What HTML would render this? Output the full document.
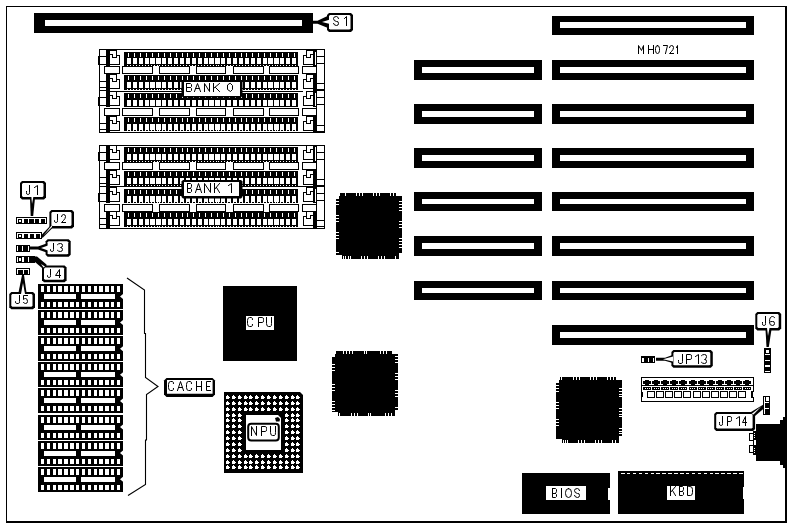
<!DOCTYPE html>
<html><head><meta charset="utf-8"><style>
html,body{margin:0;padding:0;background:#fff;}
svg{display:block;}
</style></head><body>
<svg width="791" height="527" viewBox="0 0 791 527">
<rect width="791" height="527" fill="#fff"/>
<rect x="6.00" y="6.00" width="780.00" height="1.00" fill="#000"/>
<rect x="6.00" y="6.00" width="1.00" height="517.00" fill="#000"/>
<rect x="785.00" y="6.00" width="2.00" height="517.00" fill="#000"/>
<rect x="6.00" y="521.00" width="781.00" height="2.00" fill="#000"/>
<rect x="34.00" y="13.00" width="279.00" height="20.00" fill="#000"/>
<rect x="45.00" y="20.00" width="257.00" height="6.00" fill="#fff"/>
<rect x="552.00" y="16.00" width="202.00" height="19.00" fill="#000"/>
<rect x="560.00" y="22.00" width="186.00" height="6.00" fill="#fff"/>
<rect x="552.00" y="60.00" width="202.00" height="20.00" fill="#000"/>
<rect x="560.00" y="67.00" width="186.00" height="6.00" fill="#fff"/>
<rect x="552.00" y="104.00" width="202.00" height="20.00" fill="#000"/>
<rect x="560.00" y="111.00" width="186.00" height="6.00" fill="#fff"/>
<rect x="552.00" y="148.00" width="202.00" height="20.00" fill="#000"/>
<rect x="560.00" y="155.00" width="186.00" height="6.00" fill="#fff"/>
<rect x="552.00" y="192.00" width="202.00" height="19.00" fill="#000"/>
<rect x="560.00" y="199.00" width="186.00" height="5.00" fill="#fff"/>
<rect x="552.00" y="236.00" width="202.00" height="20.00" fill="#000"/>
<rect x="560.00" y="243.00" width="186.00" height="6.00" fill="#fff"/>
<rect x="552.00" y="281.00" width="202.00" height="19.00" fill="#000"/>
<rect x="560.00" y="288.00" width="186.00" height="5.00" fill="#fff"/>
<rect x="552.00" y="325.00" width="202.00" height="20.00" fill="#000"/>
<rect x="560.00" y="332.00" width="186.00" height="6.00" fill="#fff"/>
<rect x="414.00" y="60.00" width="128.00" height="20.00" fill="#000"/>
<rect x="422.00" y="67.00" width="112.00" height="6.00" fill="#fff"/>
<rect x="414.00" y="104.00" width="128.00" height="20.00" fill="#000"/>
<rect x="422.00" y="111.00" width="112.00" height="6.00" fill="#fff"/>
<rect x="414.00" y="148.00" width="128.00" height="20.00" fill="#000"/>
<rect x="422.00" y="155.00" width="112.00" height="6.00" fill="#fff"/>
<rect x="414.00" y="192.00" width="128.00" height="19.00" fill="#000"/>
<rect x="422.00" y="199.00" width="112.00" height="5.00" fill="#fff"/>
<rect x="414.00" y="236.00" width="128.00" height="20.00" fill="#000"/>
<rect x="422.00" y="243.00" width="112.00" height="6.00" fill="#fff"/>
<rect x="414.00" y="281.00" width="128.00" height="19.00" fill="#000"/>
<rect x="422.00" y="288.00" width="112.00" height="5.00" fill="#fff"/>
<rect x="99.00" y="49.00" width="8.00" height="8.00" fill="#000"/>
<rect x="100.00" y="50.00" width="6.00" height="6.00" fill="#fff"/>
<rect x="98.00" y="56.00" width="9.00" height="9.00" fill="#000"/>
<rect x="99.00" y="57.00" width="7.00" height="7.00" fill="#fff"/>
<rect x="99.00" y="81.00" width="8.00" height="7.00" fill="#000"/>
<rect x="100.00" y="82.00" width="6.00" height="5.00" fill="#fff"/>
<rect x="99.00" y="87.00" width="8.00" height="5.00" fill="#000"/>
<rect x="100.00" y="88.00" width="6.00" height="3.00" fill="#fff"/>
<rect x="316.00" y="49.00" width="9.00" height="8.00" fill="#000"/>
<rect x="317.00" y="50.00" width="7.00" height="6.00" fill="#fff"/>
<rect x="316.00" y="56.00" width="9.00" height="8.00" fill="#000"/>
<rect x="317.00" y="57.00" width="7.00" height="6.00" fill="#fff"/>
<rect x="316.00" y="63.00" width="9.00" height="21.00" fill="#000"/>
<rect x="317.00" y="64.00" width="7.00" height="19.00" fill="#fff"/>
<rect x="316.00" y="83.00" width="9.00" height="7.00" fill="#000"/>
<rect x="317.00" y="84.00" width="7.00" height="5.00" fill="#fff"/>
<rect x="316.00" y="89.00" width="9.00" height="3.00" fill="#000"/>
<rect x="317.00" y="90.00" width="7.00" height="1.00" fill="#fff"/>
<rect x="106.00" y="49.00" width="4.00" height="17.00" fill="#000"/>
<rect x="106.00" y="74.00" width="4.00" height="18.00" fill="#000"/>
<rect x="313.00" y="49.00" width="4.00" height="17.00" fill="#000"/>
<rect x="315.00" y="52.00" width="1.00" height="13.00" fill="#fff"/>
<rect x="313.00" y="74.00" width="4.00" height="18.00" fill="#000"/>
<rect x="110.00" y="50.00" width="7.00" height="8.00" fill="#000"/>
<rect x="110.00" y="55.00" width="10.00" height="10.00" fill="#000"/>
<rect x="110.00" y="51.00" width="6.00" height="3.00" fill="#fff"/>
<rect x="113.00" y="54.00" width="3.00" height="3.00" fill="#fff"/>
<rect x="110.00" y="55.00" width="2.00" height="3.00" fill="#fff"/>
<rect x="117.00" y="56.00" width="2.00" height="2.00" fill="#fff"/>
<rect x="110.00" y="58.00" width="9.00" height="6.00" fill="#fff"/>
<rect x="110.00" y="74.00" width="7.00" height="8.00" fill="#000"/>
<rect x="110.00" y="79.00" width="10.00" height="10.00" fill="#000"/>
<rect x="110.00" y="75.00" width="6.00" height="3.00" fill="#fff"/>
<rect x="113.00" y="78.00" width="3.00" height="3.00" fill="#fff"/>
<rect x="110.00" y="79.00" width="2.00" height="3.00" fill="#fff"/>
<rect x="117.00" y="80.00" width="2.00" height="2.00" fill="#fff"/>
<rect x="110.00" y="82.00" width="9.00" height="6.00" fill="#fff"/>
<rect x="303.00" y="50.00" width="10.00" height="8.00" fill="#000"/>
<rect x="303.00" y="55.00" width="10.00" height="10.00" fill="#000"/>
<rect x="307.00" y="51.00" width="6.00" height="3.00" fill="#fff"/>
<rect x="307.00" y="54.00" width="3.00" height="3.00" fill="#fff"/>
<rect x="311.00" y="55.00" width="2.00" height="3.00" fill="#fff"/>
<rect x="304.00" y="56.00" width="2.00" height="2.00" fill="#fff"/>
<rect x="304.00" y="58.00" width="9.00" height="6.00" fill="#fff"/>
<rect x="303.00" y="50.00" width="3.00" height="5.00" fill="#fff"/>
<rect x="303.00" y="74.00" width="10.00" height="8.00" fill="#000"/>
<rect x="303.00" y="79.00" width="10.00" height="10.00" fill="#000"/>
<rect x="307.00" y="75.00" width="6.00" height="3.00" fill="#fff"/>
<rect x="307.00" y="78.00" width="3.00" height="3.00" fill="#fff"/>
<rect x="311.00" y="79.00" width="2.00" height="3.00" fill="#fff"/>
<rect x="304.00" y="80.00" width="2.00" height="2.00" fill="#fff"/>
<rect x="304.00" y="82.00" width="9.00" height="6.00" fill="#fff"/>
<rect x="303.00" y="74.00" width="3.00" height="5.00" fill="#fff"/>
<rect x="124.00" y="52.00" width="174.00" height="14.00" fill="#000"/>
<rect x="128.00" y="53.00" width="1.00" height="4.00" fill="#fff"/>
<rect x="127.00" y="58.00" width="4.00" height="6.00" fill="#fff"/>
<rect x="127.00" y="65.00" width="1.00" height="1.00" fill="#fff"/>
<rect x="130.00" y="65.00" width="1.00" height="1.00" fill="#fff"/>
<rect x="134.00" y="53.00" width="1.00" height="4.00" fill="#fff"/>
<rect x="133.00" y="58.00" width="4.00" height="6.00" fill="#fff"/>
<rect x="133.00" y="65.00" width="1.00" height="1.00" fill="#fff"/>
<rect x="136.00" y="65.00" width="1.00" height="1.00" fill="#fff"/>
<rect x="140.00" y="53.00" width="1.00" height="4.00" fill="#fff"/>
<rect x="139.00" y="58.00" width="4.00" height="6.00" fill="#fff"/>
<rect x="139.00" y="65.00" width="1.00" height="1.00" fill="#fff"/>
<rect x="142.00" y="65.00" width="1.00" height="1.00" fill="#fff"/>
<rect x="146.00" y="53.00" width="1.00" height="4.00" fill="#fff"/>
<rect x="145.00" y="58.00" width="4.00" height="6.00" fill="#fff"/>
<rect x="145.00" y="65.00" width="1.00" height="1.00" fill="#fff"/>
<rect x="148.00" y="65.00" width="1.00" height="1.00" fill="#fff"/>
<rect x="152.00" y="53.00" width="1.00" height="4.00" fill="#fff"/>
<rect x="150.00" y="58.00" width="5.00" height="6.00" fill="#fff"/>
<rect x="151.00" y="65.00" width="1.00" height="1.00" fill="#fff"/>
<rect x="154.00" y="65.00" width="1.00" height="1.00" fill="#fff"/>
<rect x="158.00" y="53.00" width="1.00" height="4.00" fill="#fff"/>
<rect x="156.00" y="58.00" width="5.00" height="6.00" fill="#fff"/>
<rect x="157.00" y="65.00" width="1.00" height="1.00" fill="#fff"/>
<rect x="159.00" y="65.00" width="1.00" height="1.00" fill="#fff"/>
<rect x="164.00" y="53.00" width="1.00" height="4.00" fill="#fff"/>
<rect x="162.00" y="58.00" width="4.00" height="6.00" fill="#fff"/>
<rect x="162.00" y="65.00" width="1.00" height="1.00" fill="#fff"/>
<rect x="165.00" y="65.00" width="1.00" height="1.00" fill="#fff"/>
<rect x="170.00" y="53.00" width="1.00" height="4.00" fill="#fff"/>
<rect x="168.00" y="58.00" width="4.00" height="6.00" fill="#fff"/>
<rect x="168.00" y="65.00" width="1.00" height="1.00" fill="#fff"/>
<rect x="171.00" y="65.00" width="1.00" height="1.00" fill="#fff"/>
<rect x="176.00" y="53.00" width="1.00" height="4.00" fill="#fff"/>
<rect x="174.00" y="58.00" width="4.00" height="6.00" fill="#fff"/>
<rect x="174.00" y="65.00" width="1.00" height="1.00" fill="#fff"/>
<rect x="177.00" y="65.00" width="1.00" height="1.00" fill="#fff"/>
<rect x="182.00" y="53.00" width="1.00" height="4.00" fill="#fff"/>
<rect x="180.00" y="58.00" width="4.00" height="6.00" fill="#fff"/>
<rect x="180.00" y="65.00" width="1.00" height="1.00" fill="#fff"/>
<rect x="183.00" y="65.00" width="1.00" height="1.00" fill="#fff"/>
<rect x="187.00" y="53.00" width="1.00" height="4.00" fill="#fff"/>
<rect x="186.00" y="58.00" width="4.00" height="6.00" fill="#fff"/>
<rect x="186.00" y="65.00" width="1.00" height="1.00" fill="#fff"/>
<rect x="189.00" y="65.00" width="1.00" height="1.00" fill="#fff"/>
<rect x="193.00" y="53.00" width="1.00" height="4.00" fill="#fff"/>
<rect x="192.00" y="58.00" width="4.00" height="6.00" fill="#fff"/>
<rect x="192.00" y="65.00" width="1.00" height="1.00" fill="#fff"/>
<rect x="195.00" y="65.00" width="1.00" height="1.00" fill="#fff"/>
<rect x="199.00" y="53.00" width="1.00" height="4.00" fill="#fff"/>
<rect x="198.00" y="58.00" width="4.00" height="6.00" fill="#fff"/>
<rect x="198.00" y="65.00" width="1.00" height="1.00" fill="#fff"/>
<rect x="201.00" y="65.00" width="1.00" height="1.00" fill="#fff"/>
<rect x="205.00" y="53.00" width="1.00" height="4.00" fill="#fff"/>
<rect x="204.00" y="58.00" width="4.00" height="6.00" fill="#fff"/>
<rect x="204.00" y="65.00" width="1.00" height="1.00" fill="#fff"/>
<rect x="207.00" y="65.00" width="1.00" height="1.00" fill="#fff"/>
<rect x="211.00" y="53.00" width="1.00" height="4.00" fill="#fff"/>
<rect x="209.00" y="58.00" width="5.00" height="6.00" fill="#fff"/>
<rect x="210.00" y="65.00" width="1.00" height="1.00" fill="#fff"/>
<rect x="213.00" y="65.00" width="1.00" height="1.00" fill="#fff"/>
<rect x="217.00" y="53.00" width="1.00" height="4.00" fill="#fff"/>
<rect x="215.00" y="58.00" width="5.00" height="6.00" fill="#fff"/>
<rect x="216.00" y="65.00" width="1.00" height="1.00" fill="#fff"/>
<rect x="218.00" y="65.00" width="1.00" height="1.00" fill="#fff"/>
<rect x="223.00" y="53.00" width="1.00" height="4.00" fill="#fff"/>
<rect x="221.00" y="58.00" width="4.00" height="6.00" fill="#fff"/>
<rect x="221.00" y="65.00" width="1.00" height="1.00" fill="#fff"/>
<rect x="224.00" y="65.00" width="1.00" height="1.00" fill="#fff"/>
<rect x="229.00" y="53.00" width="1.00" height="4.00" fill="#fff"/>
<rect x="227.00" y="58.00" width="4.00" height="6.00" fill="#fff"/>
<rect x="227.00" y="65.00" width="1.00" height="1.00" fill="#fff"/>
<rect x="230.00" y="65.00" width="1.00" height="1.00" fill="#fff"/>
<rect x="235.00" y="53.00" width="1.00" height="4.00" fill="#fff"/>
<rect x="233.00" y="58.00" width="4.00" height="6.00" fill="#fff"/>
<rect x="233.00" y="65.00" width="1.00" height="1.00" fill="#fff"/>
<rect x="236.00" y="65.00" width="1.00" height="1.00" fill="#fff"/>
<rect x="241.00" y="53.00" width="1.00" height="4.00" fill="#fff"/>
<rect x="239.00" y="58.00" width="4.00" height="6.00" fill="#fff"/>
<rect x="239.00" y="65.00" width="1.00" height="1.00" fill="#fff"/>
<rect x="242.00" y="65.00" width="1.00" height="1.00" fill="#fff"/>
<rect x="246.00" y="53.00" width="1.00" height="4.00" fill="#fff"/>
<rect x="245.00" y="58.00" width="4.00" height="6.00" fill="#fff"/>
<rect x="245.00" y="65.00" width="1.00" height="1.00" fill="#fff"/>
<rect x="248.00" y="65.00" width="1.00" height="1.00" fill="#fff"/>
<rect x="252.00" y="53.00" width="1.00" height="4.00" fill="#fff"/>
<rect x="251.00" y="58.00" width="4.00" height="6.00" fill="#fff"/>
<rect x="251.00" y="65.00" width="1.00" height="1.00" fill="#fff"/>
<rect x="254.00" y="65.00" width="1.00" height="1.00" fill="#fff"/>
<rect x="258.00" y="53.00" width="1.00" height="4.00" fill="#fff"/>
<rect x="257.00" y="58.00" width="4.00" height="6.00" fill="#fff"/>
<rect x="257.00" y="65.00" width="1.00" height="1.00" fill="#fff"/>
<rect x="260.00" y="65.00" width="1.00" height="1.00" fill="#fff"/>
<rect x="264.00" y="53.00" width="1.00" height="4.00" fill="#fff"/>
<rect x="263.00" y="58.00" width="4.00" height="6.00" fill="#fff"/>
<rect x="263.00" y="65.00" width="1.00" height="1.00" fill="#fff"/>
<rect x="266.00" y="65.00" width="1.00" height="1.00" fill="#fff"/>
<rect x="270.00" y="53.00" width="1.00" height="4.00" fill="#fff"/>
<rect x="268.00" y="58.00" width="5.00" height="6.00" fill="#fff"/>
<rect x="269.00" y="65.00" width="1.00" height="1.00" fill="#fff"/>
<rect x="272.00" y="65.00" width="1.00" height="1.00" fill="#fff"/>
<rect x="276.00" y="53.00" width="1.00" height="4.00" fill="#fff"/>
<rect x="274.00" y="58.00" width="5.00" height="6.00" fill="#fff"/>
<rect x="275.00" y="65.00" width="1.00" height="1.00" fill="#fff"/>
<rect x="277.00" y="65.00" width="1.00" height="1.00" fill="#fff"/>
<rect x="282.00" y="53.00" width="1.00" height="4.00" fill="#fff"/>
<rect x="280.00" y="58.00" width="4.00" height="6.00" fill="#fff"/>
<rect x="280.00" y="65.00" width="1.00" height="1.00" fill="#fff"/>
<rect x="283.00" y="65.00" width="1.00" height="1.00" fill="#fff"/>
<rect x="288.00" y="53.00" width="1.00" height="4.00" fill="#fff"/>
<rect x="286.00" y="58.00" width="4.00" height="6.00" fill="#fff"/>
<rect x="286.00" y="65.00" width="1.00" height="1.00" fill="#fff"/>
<rect x="289.00" y="65.00" width="1.00" height="1.00" fill="#fff"/>
<rect x="294.00" y="53.00" width="1.00" height="4.00" fill="#fff"/>
<rect x="292.00" y="58.00" width="4.00" height="6.00" fill="#fff"/>
<rect x="292.00" y="65.00" width="1.00" height="1.00" fill="#fff"/>
<rect x="295.00" y="65.00" width="1.00" height="1.00" fill="#fff"/>
<rect x="122.00" y="66.00" width="31.00" height="8.00" fill="#000"/>
<rect x="123.00" y="67.00" width="29.00" height="6.00" fill="#fff"/>
<rect x="159.00" y="66.00" width="31.00" height="8.00" fill="#000"/>
<rect x="160.00" y="67.00" width="29.00" height="6.00" fill="#fff"/>
<rect x="196.00" y="66.00" width="30.00" height="8.00" fill="#000"/>
<rect x="197.00" y="67.00" width="28.00" height="6.00" fill="#fff"/>
<rect x="233.00" y="66.00" width="31.00" height="8.00" fill="#000"/>
<rect x="234.00" y="67.00" width="29.00" height="6.00" fill="#fff"/>
<rect x="269.00" y="66.00" width="30.00" height="8.00" fill="#000"/>
<rect x="270.00" y="67.00" width="28.00" height="6.00" fill="#fff"/>
<rect x="104.00" y="66.00" width="16.00" height="8.00" fill="#000"/>
<rect x="105.00" y="67.00" width="14.00" height="6.00" fill="#fff"/>
<rect x="302.00" y="66.00" width="15.00" height="8.00" fill="#000"/>
<rect x="303.00" y="67.00" width="13.00" height="6.00" fill="#fff"/>
<rect x="124.00" y="75.00" width="174.00" height="15.00" fill="#000"/>
<rect x="128.00" y="76.00" width="1.00" height="4.00" fill="#fff"/>
<rect x="127.00" y="82.00" width="4.00" height="6.00" fill="#fff"/>
<rect x="127.00" y="89.00" width="1.00" height="1.00" fill="#fff"/>
<rect x="130.00" y="89.00" width="1.00" height="1.00" fill="#fff"/>
<rect x="134.00" y="76.00" width="1.00" height="4.00" fill="#fff"/>
<rect x="133.00" y="82.00" width="4.00" height="6.00" fill="#fff"/>
<rect x="133.00" y="89.00" width="1.00" height="1.00" fill="#fff"/>
<rect x="136.00" y="89.00" width="1.00" height="1.00" fill="#fff"/>
<rect x="140.00" y="76.00" width="1.00" height="4.00" fill="#fff"/>
<rect x="139.00" y="82.00" width="4.00" height="6.00" fill="#fff"/>
<rect x="139.00" y="89.00" width="1.00" height="1.00" fill="#fff"/>
<rect x="142.00" y="89.00" width="1.00" height="1.00" fill="#fff"/>
<rect x="146.00" y="76.00" width="1.00" height="4.00" fill="#fff"/>
<rect x="145.00" y="82.00" width="4.00" height="6.00" fill="#fff"/>
<rect x="145.00" y="89.00" width="1.00" height="1.00" fill="#fff"/>
<rect x="148.00" y="89.00" width="1.00" height="1.00" fill="#fff"/>
<rect x="152.00" y="76.00" width="1.00" height="4.00" fill="#fff"/>
<rect x="150.00" y="82.00" width="5.00" height="6.00" fill="#fff"/>
<rect x="151.00" y="89.00" width="1.00" height="1.00" fill="#fff"/>
<rect x="154.00" y="89.00" width="1.00" height="1.00" fill="#fff"/>
<rect x="158.00" y="76.00" width="1.00" height="4.00" fill="#fff"/>
<rect x="156.00" y="82.00" width="5.00" height="6.00" fill="#fff"/>
<rect x="157.00" y="89.00" width="1.00" height="1.00" fill="#fff"/>
<rect x="159.00" y="89.00" width="1.00" height="1.00" fill="#fff"/>
<rect x="164.00" y="76.00" width="1.00" height="4.00" fill="#fff"/>
<rect x="162.00" y="82.00" width="4.00" height="6.00" fill="#fff"/>
<rect x="162.00" y="89.00" width="1.00" height="1.00" fill="#fff"/>
<rect x="165.00" y="89.00" width="1.00" height="1.00" fill="#fff"/>
<rect x="170.00" y="76.00" width="1.00" height="4.00" fill="#fff"/>
<rect x="168.00" y="82.00" width="4.00" height="6.00" fill="#fff"/>
<rect x="168.00" y="89.00" width="1.00" height="1.00" fill="#fff"/>
<rect x="171.00" y="89.00" width="1.00" height="1.00" fill="#fff"/>
<rect x="176.00" y="76.00" width="1.00" height="4.00" fill="#fff"/>
<rect x="174.00" y="82.00" width="4.00" height="6.00" fill="#fff"/>
<rect x="174.00" y="89.00" width="1.00" height="1.00" fill="#fff"/>
<rect x="177.00" y="89.00" width="1.00" height="1.00" fill="#fff"/>
<rect x="182.00" y="76.00" width="1.00" height="4.00" fill="#fff"/>
<rect x="180.00" y="82.00" width="4.00" height="6.00" fill="#fff"/>
<rect x="180.00" y="89.00" width="1.00" height="1.00" fill="#fff"/>
<rect x="183.00" y="89.00" width="1.00" height="1.00" fill="#fff"/>
<rect x="187.00" y="76.00" width="1.00" height="4.00" fill="#fff"/>
<rect x="186.00" y="82.00" width="4.00" height="6.00" fill="#fff"/>
<rect x="186.00" y="89.00" width="1.00" height="1.00" fill="#fff"/>
<rect x="189.00" y="89.00" width="1.00" height="1.00" fill="#fff"/>
<rect x="193.00" y="76.00" width="1.00" height="4.00" fill="#fff"/>
<rect x="192.00" y="82.00" width="4.00" height="6.00" fill="#fff"/>
<rect x="192.00" y="89.00" width="1.00" height="1.00" fill="#fff"/>
<rect x="195.00" y="89.00" width="1.00" height="1.00" fill="#fff"/>
<rect x="199.00" y="76.00" width="1.00" height="4.00" fill="#fff"/>
<rect x="198.00" y="82.00" width="4.00" height="6.00" fill="#fff"/>
<rect x="198.00" y="89.00" width="1.00" height="1.00" fill="#fff"/>
<rect x="201.00" y="89.00" width="1.00" height="1.00" fill="#fff"/>
<rect x="205.00" y="76.00" width="1.00" height="4.00" fill="#fff"/>
<rect x="204.00" y="82.00" width="4.00" height="6.00" fill="#fff"/>
<rect x="204.00" y="89.00" width="1.00" height="1.00" fill="#fff"/>
<rect x="207.00" y="89.00" width="1.00" height="1.00" fill="#fff"/>
<rect x="211.00" y="76.00" width="1.00" height="4.00" fill="#fff"/>
<rect x="209.00" y="82.00" width="5.00" height="6.00" fill="#fff"/>
<rect x="210.00" y="89.00" width="1.00" height="1.00" fill="#fff"/>
<rect x="213.00" y="89.00" width="1.00" height="1.00" fill="#fff"/>
<rect x="217.00" y="76.00" width="1.00" height="4.00" fill="#fff"/>
<rect x="215.00" y="82.00" width="5.00" height="6.00" fill="#fff"/>
<rect x="216.00" y="89.00" width="1.00" height="1.00" fill="#fff"/>
<rect x="218.00" y="89.00" width="1.00" height="1.00" fill="#fff"/>
<rect x="223.00" y="76.00" width="1.00" height="4.00" fill="#fff"/>
<rect x="221.00" y="82.00" width="4.00" height="6.00" fill="#fff"/>
<rect x="221.00" y="89.00" width="1.00" height="1.00" fill="#fff"/>
<rect x="224.00" y="89.00" width="1.00" height="1.00" fill="#fff"/>
<rect x="229.00" y="76.00" width="1.00" height="4.00" fill="#fff"/>
<rect x="227.00" y="82.00" width="4.00" height="6.00" fill="#fff"/>
<rect x="227.00" y="89.00" width="1.00" height="1.00" fill="#fff"/>
<rect x="230.00" y="89.00" width="1.00" height="1.00" fill="#fff"/>
<rect x="235.00" y="76.00" width="1.00" height="4.00" fill="#fff"/>
<rect x="233.00" y="82.00" width="4.00" height="6.00" fill="#fff"/>
<rect x="233.00" y="89.00" width="1.00" height="1.00" fill="#fff"/>
<rect x="236.00" y="89.00" width="1.00" height="1.00" fill="#fff"/>
<rect x="241.00" y="76.00" width="1.00" height="4.00" fill="#fff"/>
<rect x="239.00" y="82.00" width="4.00" height="6.00" fill="#fff"/>
<rect x="239.00" y="89.00" width="1.00" height="1.00" fill="#fff"/>
<rect x="242.00" y="89.00" width="1.00" height="1.00" fill="#fff"/>
<rect x="246.00" y="76.00" width="1.00" height="4.00" fill="#fff"/>
<rect x="245.00" y="82.00" width="4.00" height="6.00" fill="#fff"/>
<rect x="245.00" y="89.00" width="1.00" height="1.00" fill="#fff"/>
<rect x="248.00" y="89.00" width="1.00" height="1.00" fill="#fff"/>
<rect x="252.00" y="76.00" width="1.00" height="4.00" fill="#fff"/>
<rect x="251.00" y="82.00" width="4.00" height="6.00" fill="#fff"/>
<rect x="251.00" y="89.00" width="1.00" height="1.00" fill="#fff"/>
<rect x="254.00" y="89.00" width="1.00" height="1.00" fill="#fff"/>
<rect x="258.00" y="76.00" width="1.00" height="4.00" fill="#fff"/>
<rect x="257.00" y="82.00" width="4.00" height="6.00" fill="#fff"/>
<rect x="257.00" y="89.00" width="1.00" height="1.00" fill="#fff"/>
<rect x="260.00" y="89.00" width="1.00" height="1.00" fill="#fff"/>
<rect x="264.00" y="76.00" width="1.00" height="4.00" fill="#fff"/>
<rect x="263.00" y="82.00" width="4.00" height="6.00" fill="#fff"/>
<rect x="263.00" y="89.00" width="1.00" height="1.00" fill="#fff"/>
<rect x="266.00" y="89.00" width="1.00" height="1.00" fill="#fff"/>
<rect x="270.00" y="76.00" width="1.00" height="4.00" fill="#fff"/>
<rect x="268.00" y="82.00" width="5.00" height="6.00" fill="#fff"/>
<rect x="269.00" y="89.00" width="1.00" height="1.00" fill="#fff"/>
<rect x="272.00" y="89.00" width="1.00" height="1.00" fill="#fff"/>
<rect x="276.00" y="76.00" width="1.00" height="4.00" fill="#fff"/>
<rect x="274.00" y="82.00" width="5.00" height="6.00" fill="#fff"/>
<rect x="275.00" y="89.00" width="1.00" height="1.00" fill="#fff"/>
<rect x="277.00" y="89.00" width="1.00" height="1.00" fill="#fff"/>
<rect x="282.00" y="76.00" width="1.00" height="4.00" fill="#fff"/>
<rect x="280.00" y="82.00" width="4.00" height="6.00" fill="#fff"/>
<rect x="280.00" y="89.00" width="1.00" height="1.00" fill="#fff"/>
<rect x="283.00" y="89.00" width="1.00" height="1.00" fill="#fff"/>
<rect x="288.00" y="76.00" width="1.00" height="4.00" fill="#fff"/>
<rect x="286.00" y="82.00" width="4.00" height="6.00" fill="#fff"/>
<rect x="286.00" y="89.00" width="1.00" height="1.00" fill="#fff"/>
<rect x="289.00" y="89.00" width="1.00" height="1.00" fill="#fff"/>
<rect x="294.00" y="76.00" width="1.00" height="4.00" fill="#fff"/>
<rect x="292.00" y="82.00" width="4.00" height="6.00" fill="#fff"/>
<rect x="292.00" y="89.00" width="1.00" height="1.00" fill="#fff"/>
<rect x="295.00" y="89.00" width="1.00" height="1.00" fill="#fff"/>
<rect x="110.00" y="91.00" width="215.00" height="1.00" fill="#000"/>
<rect x="99.00" y="90.00" width="8.00" height="8.00" fill="#000"/>
<rect x="100.00" y="91.00" width="6.00" height="6.00" fill="#fff"/>
<rect x="98.00" y="97.00" width="9.00" height="9.00" fill="#000"/>
<rect x="99.00" y="98.00" width="7.00" height="7.00" fill="#fff"/>
<rect x="99.00" y="123.00" width="8.00" height="7.00" fill="#000"/>
<rect x="100.00" y="124.00" width="6.00" height="5.00" fill="#fff"/>
<rect x="99.00" y="129.00" width="8.00" height="4.00" fill="#000"/>
<rect x="100.00" y="130.00" width="6.00" height="2.00" fill="#fff"/>
<rect x="316.00" y="90.00" width="9.00" height="8.00" fill="#000"/>
<rect x="317.00" y="91.00" width="7.00" height="6.00" fill="#fff"/>
<rect x="316.00" y="97.00" width="9.00" height="8.00" fill="#000"/>
<rect x="317.00" y="98.00" width="7.00" height="6.00" fill="#fff"/>
<rect x="316.00" y="104.00" width="9.00" height="22.00" fill="#000"/>
<rect x="317.00" y="105.00" width="7.00" height="20.00" fill="#fff"/>
<rect x="316.00" y="125.00" width="9.00" height="7.00" fill="#000"/>
<rect x="317.00" y="126.00" width="7.00" height="5.00" fill="#fff"/>
<rect x="316.00" y="131.00" width="9.00" height="2.00" fill="#000"/>
<rect x="317.00" y="132.00" width="7.00" height="1.00" fill="#fff"/>
<rect x="106.00" y="90.00" width="4.00" height="17.00" fill="#000"/>
<rect x="106.00" y="116.00" width="4.00" height="17.00" fill="#000"/>
<rect x="313.00" y="90.00" width="4.00" height="17.00" fill="#000"/>
<rect x="315.00" y="93.00" width="1.00" height="13.00" fill="#fff"/>
<rect x="313.00" y="116.00" width="4.00" height="17.00" fill="#000"/>
<rect x="110.00" y="91.00" width="7.00" height="8.00" fill="#000"/>
<rect x="110.00" y="96.00" width="10.00" height="10.00" fill="#000"/>
<rect x="110.00" y="92.00" width="6.00" height="3.00" fill="#fff"/>
<rect x="113.00" y="95.00" width="3.00" height="3.00" fill="#fff"/>
<rect x="110.00" y="96.00" width="2.00" height="3.00" fill="#fff"/>
<rect x="117.00" y="97.00" width="2.00" height="2.00" fill="#fff"/>
<rect x="110.00" y="99.00" width="9.00" height="6.00" fill="#fff"/>
<rect x="110.00" y="116.00" width="7.00" height="8.00" fill="#000"/>
<rect x="110.00" y="121.00" width="10.00" height="10.00" fill="#000"/>
<rect x="110.00" y="117.00" width="6.00" height="3.00" fill="#fff"/>
<rect x="113.00" y="120.00" width="3.00" height="3.00" fill="#fff"/>
<rect x="110.00" y="121.00" width="2.00" height="3.00" fill="#fff"/>
<rect x="117.00" y="122.00" width="2.00" height="2.00" fill="#fff"/>
<rect x="110.00" y="124.00" width="9.00" height="6.00" fill="#fff"/>
<rect x="303.00" y="91.00" width="10.00" height="8.00" fill="#000"/>
<rect x="303.00" y="96.00" width="10.00" height="10.00" fill="#000"/>
<rect x="307.00" y="92.00" width="6.00" height="3.00" fill="#fff"/>
<rect x="307.00" y="95.00" width="3.00" height="3.00" fill="#fff"/>
<rect x="311.00" y="96.00" width="2.00" height="3.00" fill="#fff"/>
<rect x="304.00" y="97.00" width="2.00" height="2.00" fill="#fff"/>
<rect x="304.00" y="99.00" width="9.00" height="6.00" fill="#fff"/>
<rect x="303.00" y="91.00" width="3.00" height="5.00" fill="#fff"/>
<rect x="303.00" y="116.00" width="10.00" height="8.00" fill="#000"/>
<rect x="303.00" y="121.00" width="10.00" height="10.00" fill="#000"/>
<rect x="307.00" y="117.00" width="6.00" height="3.00" fill="#fff"/>
<rect x="307.00" y="120.00" width="3.00" height="3.00" fill="#fff"/>
<rect x="311.00" y="121.00" width="2.00" height="3.00" fill="#fff"/>
<rect x="304.00" y="122.00" width="2.00" height="2.00" fill="#fff"/>
<rect x="304.00" y="124.00" width="9.00" height="6.00" fill="#fff"/>
<rect x="303.00" y="116.00" width="3.00" height="5.00" fill="#fff"/>
<rect x="124.00" y="93.00" width="174.00" height="14.00" fill="#000"/>
<rect x="128.00" y="94.00" width="1.00" height="4.00" fill="#fff"/>
<rect x="127.00" y="100.00" width="4.00" height="6.00" fill="#fff"/>
<rect x="134.00" y="94.00" width="1.00" height="4.00" fill="#fff"/>
<rect x="133.00" y="100.00" width="4.00" height="6.00" fill="#fff"/>
<rect x="140.00" y="94.00" width="1.00" height="4.00" fill="#fff"/>
<rect x="139.00" y="100.00" width="4.00" height="6.00" fill="#fff"/>
<rect x="146.00" y="94.00" width="1.00" height="4.00" fill="#fff"/>
<rect x="145.00" y="100.00" width="4.00" height="6.00" fill="#fff"/>
<rect x="152.00" y="94.00" width="1.00" height="4.00" fill="#fff"/>
<rect x="150.00" y="100.00" width="5.00" height="6.00" fill="#fff"/>
<rect x="158.00" y="94.00" width="1.00" height="4.00" fill="#fff"/>
<rect x="156.00" y="100.00" width="5.00" height="6.00" fill="#fff"/>
<rect x="164.00" y="94.00" width="1.00" height="4.00" fill="#fff"/>
<rect x="162.00" y="100.00" width="4.00" height="6.00" fill="#fff"/>
<rect x="170.00" y="94.00" width="1.00" height="4.00" fill="#fff"/>
<rect x="168.00" y="100.00" width="4.00" height="6.00" fill="#fff"/>
<rect x="176.00" y="94.00" width="1.00" height="4.00" fill="#fff"/>
<rect x="174.00" y="100.00" width="4.00" height="6.00" fill="#fff"/>
<rect x="182.00" y="94.00" width="1.00" height="4.00" fill="#fff"/>
<rect x="180.00" y="100.00" width="4.00" height="6.00" fill="#fff"/>
<rect x="187.00" y="94.00" width="1.00" height="4.00" fill="#fff"/>
<rect x="186.00" y="100.00" width="4.00" height="6.00" fill="#fff"/>
<rect x="193.00" y="94.00" width="1.00" height="4.00" fill="#fff"/>
<rect x="192.00" y="100.00" width="4.00" height="6.00" fill="#fff"/>
<rect x="199.00" y="94.00" width="1.00" height="4.00" fill="#fff"/>
<rect x="198.00" y="100.00" width="4.00" height="6.00" fill="#fff"/>
<rect x="205.00" y="94.00" width="1.00" height="4.00" fill="#fff"/>
<rect x="204.00" y="100.00" width="4.00" height="6.00" fill="#fff"/>
<rect x="211.00" y="94.00" width="1.00" height="4.00" fill="#fff"/>
<rect x="209.00" y="100.00" width="5.00" height="6.00" fill="#fff"/>
<rect x="217.00" y="94.00" width="1.00" height="4.00" fill="#fff"/>
<rect x="215.00" y="100.00" width="5.00" height="6.00" fill="#fff"/>
<rect x="223.00" y="94.00" width="1.00" height="4.00" fill="#fff"/>
<rect x="221.00" y="100.00" width="4.00" height="6.00" fill="#fff"/>
<rect x="229.00" y="94.00" width="1.00" height="4.00" fill="#fff"/>
<rect x="227.00" y="100.00" width="4.00" height="6.00" fill="#fff"/>
<rect x="235.00" y="94.00" width="1.00" height="4.00" fill="#fff"/>
<rect x="233.00" y="100.00" width="4.00" height="6.00" fill="#fff"/>
<rect x="241.00" y="94.00" width="1.00" height="4.00" fill="#fff"/>
<rect x="239.00" y="100.00" width="4.00" height="6.00" fill="#fff"/>
<rect x="246.00" y="94.00" width="1.00" height="4.00" fill="#fff"/>
<rect x="245.00" y="100.00" width="4.00" height="6.00" fill="#fff"/>
<rect x="252.00" y="94.00" width="1.00" height="4.00" fill="#fff"/>
<rect x="251.00" y="100.00" width="4.00" height="6.00" fill="#fff"/>
<rect x="258.00" y="94.00" width="1.00" height="4.00" fill="#fff"/>
<rect x="257.00" y="100.00" width="4.00" height="6.00" fill="#fff"/>
<rect x="264.00" y="94.00" width="1.00" height="4.00" fill="#fff"/>
<rect x="263.00" y="100.00" width="4.00" height="6.00" fill="#fff"/>
<rect x="270.00" y="94.00" width="1.00" height="4.00" fill="#fff"/>
<rect x="268.00" y="100.00" width="5.00" height="6.00" fill="#fff"/>
<rect x="276.00" y="94.00" width="1.00" height="4.00" fill="#fff"/>
<rect x="274.00" y="100.00" width="5.00" height="6.00" fill="#fff"/>
<rect x="282.00" y="94.00" width="1.00" height="4.00" fill="#fff"/>
<rect x="280.00" y="100.00" width="4.00" height="6.00" fill="#fff"/>
<rect x="288.00" y="94.00" width="1.00" height="4.00" fill="#fff"/>
<rect x="286.00" y="100.00" width="4.00" height="6.00" fill="#fff"/>
<rect x="294.00" y="94.00" width="1.00" height="4.00" fill="#fff"/>
<rect x="292.00" y="100.00" width="4.00" height="6.00" fill="#fff"/>
<rect x="122.00" y="108.00" width="31.00" height="8.00" fill="#000"/>
<rect x="123.00" y="109.00" width="29.00" height="6.00" fill="#fff"/>
<rect x="159.00" y="108.00" width="31.00" height="8.00" fill="#000"/>
<rect x="160.00" y="109.00" width="29.00" height="6.00" fill="#fff"/>
<rect x="196.00" y="108.00" width="30.00" height="8.00" fill="#000"/>
<rect x="197.00" y="109.00" width="28.00" height="6.00" fill="#fff"/>
<rect x="233.00" y="108.00" width="31.00" height="8.00" fill="#000"/>
<rect x="234.00" y="109.00" width="29.00" height="6.00" fill="#fff"/>
<rect x="269.00" y="108.00" width="30.00" height="8.00" fill="#000"/>
<rect x="270.00" y="109.00" width="28.00" height="6.00" fill="#fff"/>
<rect x="104.00" y="108.00" width="16.00" height="8.00" fill="#000"/>
<rect x="105.00" y="109.00" width="14.00" height="6.00" fill="#fff"/>
<rect x="302.00" y="108.00" width="15.00" height="8.00" fill="#000"/>
<rect x="303.00" y="109.00" width="13.00" height="6.00" fill="#fff"/>
<rect x="124.00" y="117.00" width="174.00" height="14.00" fill="#000"/>
<rect x="128.00" y="118.00" width="1.00" height="4.00" fill="#fff"/>
<rect x="127.00" y="124.00" width="4.00" height="6.00" fill="#fff"/>
<rect x="127.00" y="130.00" width="1.00" height="1.00" fill="#fff"/>
<rect x="130.00" y="130.00" width="1.00" height="1.00" fill="#fff"/>
<rect x="134.00" y="118.00" width="1.00" height="4.00" fill="#fff"/>
<rect x="133.00" y="124.00" width="4.00" height="6.00" fill="#fff"/>
<rect x="133.00" y="130.00" width="1.00" height="1.00" fill="#fff"/>
<rect x="136.00" y="130.00" width="1.00" height="1.00" fill="#fff"/>
<rect x="140.00" y="118.00" width="1.00" height="4.00" fill="#fff"/>
<rect x="139.00" y="124.00" width="4.00" height="6.00" fill="#fff"/>
<rect x="139.00" y="130.00" width="1.00" height="1.00" fill="#fff"/>
<rect x="142.00" y="130.00" width="1.00" height="1.00" fill="#fff"/>
<rect x="146.00" y="118.00" width="1.00" height="4.00" fill="#fff"/>
<rect x="145.00" y="124.00" width="4.00" height="6.00" fill="#fff"/>
<rect x="145.00" y="130.00" width="1.00" height="1.00" fill="#fff"/>
<rect x="148.00" y="130.00" width="1.00" height="1.00" fill="#fff"/>
<rect x="152.00" y="118.00" width="1.00" height="4.00" fill="#fff"/>
<rect x="150.00" y="124.00" width="5.00" height="6.00" fill="#fff"/>
<rect x="151.00" y="130.00" width="1.00" height="1.00" fill="#fff"/>
<rect x="154.00" y="130.00" width="1.00" height="1.00" fill="#fff"/>
<rect x="158.00" y="118.00" width="1.00" height="4.00" fill="#fff"/>
<rect x="156.00" y="124.00" width="5.00" height="6.00" fill="#fff"/>
<rect x="157.00" y="130.00" width="1.00" height="1.00" fill="#fff"/>
<rect x="159.00" y="130.00" width="1.00" height="1.00" fill="#fff"/>
<rect x="164.00" y="118.00" width="1.00" height="4.00" fill="#fff"/>
<rect x="162.00" y="124.00" width="4.00" height="6.00" fill="#fff"/>
<rect x="162.00" y="130.00" width="1.00" height="1.00" fill="#fff"/>
<rect x="165.00" y="130.00" width="1.00" height="1.00" fill="#fff"/>
<rect x="170.00" y="118.00" width="1.00" height="4.00" fill="#fff"/>
<rect x="168.00" y="124.00" width="4.00" height="6.00" fill="#fff"/>
<rect x="168.00" y="130.00" width="1.00" height="1.00" fill="#fff"/>
<rect x="171.00" y="130.00" width="1.00" height="1.00" fill="#fff"/>
<rect x="176.00" y="118.00" width="1.00" height="4.00" fill="#fff"/>
<rect x="174.00" y="124.00" width="4.00" height="6.00" fill="#fff"/>
<rect x="174.00" y="130.00" width="1.00" height="1.00" fill="#fff"/>
<rect x="177.00" y="130.00" width="1.00" height="1.00" fill="#fff"/>
<rect x="182.00" y="118.00" width="1.00" height="4.00" fill="#fff"/>
<rect x="180.00" y="124.00" width="4.00" height="6.00" fill="#fff"/>
<rect x="180.00" y="130.00" width="1.00" height="1.00" fill="#fff"/>
<rect x="183.00" y="130.00" width="1.00" height="1.00" fill="#fff"/>
<rect x="187.00" y="118.00" width="1.00" height="4.00" fill="#fff"/>
<rect x="186.00" y="124.00" width="4.00" height="6.00" fill="#fff"/>
<rect x="186.00" y="130.00" width="1.00" height="1.00" fill="#fff"/>
<rect x="189.00" y="130.00" width="1.00" height="1.00" fill="#fff"/>
<rect x="193.00" y="118.00" width="1.00" height="4.00" fill="#fff"/>
<rect x="192.00" y="124.00" width="4.00" height="6.00" fill="#fff"/>
<rect x="192.00" y="130.00" width="1.00" height="1.00" fill="#fff"/>
<rect x="195.00" y="130.00" width="1.00" height="1.00" fill="#fff"/>
<rect x="199.00" y="118.00" width="1.00" height="4.00" fill="#fff"/>
<rect x="198.00" y="124.00" width="4.00" height="6.00" fill="#fff"/>
<rect x="198.00" y="130.00" width="1.00" height="1.00" fill="#fff"/>
<rect x="201.00" y="130.00" width="1.00" height="1.00" fill="#fff"/>
<rect x="205.00" y="118.00" width="1.00" height="4.00" fill="#fff"/>
<rect x="204.00" y="124.00" width="4.00" height="6.00" fill="#fff"/>
<rect x="204.00" y="130.00" width="1.00" height="1.00" fill="#fff"/>
<rect x="207.00" y="130.00" width="1.00" height="1.00" fill="#fff"/>
<rect x="211.00" y="118.00" width="1.00" height="4.00" fill="#fff"/>
<rect x="209.00" y="124.00" width="5.00" height="6.00" fill="#fff"/>
<rect x="210.00" y="130.00" width="1.00" height="1.00" fill="#fff"/>
<rect x="213.00" y="130.00" width="1.00" height="1.00" fill="#fff"/>
<rect x="217.00" y="118.00" width="1.00" height="4.00" fill="#fff"/>
<rect x="215.00" y="124.00" width="5.00" height="6.00" fill="#fff"/>
<rect x="216.00" y="130.00" width="1.00" height="1.00" fill="#fff"/>
<rect x="218.00" y="130.00" width="1.00" height="1.00" fill="#fff"/>
<rect x="223.00" y="118.00" width="1.00" height="4.00" fill="#fff"/>
<rect x="221.00" y="124.00" width="4.00" height="6.00" fill="#fff"/>
<rect x="221.00" y="130.00" width="1.00" height="1.00" fill="#fff"/>
<rect x="224.00" y="130.00" width="1.00" height="1.00" fill="#fff"/>
<rect x="229.00" y="118.00" width="1.00" height="4.00" fill="#fff"/>
<rect x="227.00" y="124.00" width="4.00" height="6.00" fill="#fff"/>
<rect x="227.00" y="130.00" width="1.00" height="1.00" fill="#fff"/>
<rect x="230.00" y="130.00" width="1.00" height="1.00" fill="#fff"/>
<rect x="235.00" y="118.00" width="1.00" height="4.00" fill="#fff"/>
<rect x="233.00" y="124.00" width="4.00" height="6.00" fill="#fff"/>
<rect x="233.00" y="130.00" width="1.00" height="1.00" fill="#fff"/>
<rect x="236.00" y="130.00" width="1.00" height="1.00" fill="#fff"/>
<rect x="241.00" y="118.00" width="1.00" height="4.00" fill="#fff"/>
<rect x="239.00" y="124.00" width="4.00" height="6.00" fill="#fff"/>
<rect x="239.00" y="130.00" width="1.00" height="1.00" fill="#fff"/>
<rect x="242.00" y="130.00" width="1.00" height="1.00" fill="#fff"/>
<rect x="246.00" y="118.00" width="1.00" height="4.00" fill="#fff"/>
<rect x="245.00" y="124.00" width="4.00" height="6.00" fill="#fff"/>
<rect x="245.00" y="130.00" width="1.00" height="1.00" fill="#fff"/>
<rect x="248.00" y="130.00" width="1.00" height="1.00" fill="#fff"/>
<rect x="252.00" y="118.00" width="1.00" height="4.00" fill="#fff"/>
<rect x="251.00" y="124.00" width="4.00" height="6.00" fill="#fff"/>
<rect x="251.00" y="130.00" width="1.00" height="1.00" fill="#fff"/>
<rect x="254.00" y="130.00" width="1.00" height="1.00" fill="#fff"/>
<rect x="258.00" y="118.00" width="1.00" height="4.00" fill="#fff"/>
<rect x="257.00" y="124.00" width="4.00" height="6.00" fill="#fff"/>
<rect x="257.00" y="130.00" width="1.00" height="1.00" fill="#fff"/>
<rect x="260.00" y="130.00" width="1.00" height="1.00" fill="#fff"/>
<rect x="264.00" y="118.00" width="1.00" height="4.00" fill="#fff"/>
<rect x="263.00" y="124.00" width="4.00" height="6.00" fill="#fff"/>
<rect x="263.00" y="130.00" width="1.00" height="1.00" fill="#fff"/>
<rect x="266.00" y="130.00" width="1.00" height="1.00" fill="#fff"/>
<rect x="270.00" y="118.00" width="1.00" height="4.00" fill="#fff"/>
<rect x="268.00" y="124.00" width="5.00" height="6.00" fill="#fff"/>
<rect x="269.00" y="130.00" width="1.00" height="1.00" fill="#fff"/>
<rect x="272.00" y="130.00" width="1.00" height="1.00" fill="#fff"/>
<rect x="276.00" y="118.00" width="1.00" height="4.00" fill="#fff"/>
<rect x="274.00" y="124.00" width="5.00" height="6.00" fill="#fff"/>
<rect x="275.00" y="130.00" width="1.00" height="1.00" fill="#fff"/>
<rect x="277.00" y="130.00" width="1.00" height="1.00" fill="#fff"/>
<rect x="282.00" y="118.00" width="1.00" height="4.00" fill="#fff"/>
<rect x="280.00" y="124.00" width="4.00" height="6.00" fill="#fff"/>
<rect x="280.00" y="130.00" width="1.00" height="1.00" fill="#fff"/>
<rect x="283.00" y="130.00" width="1.00" height="1.00" fill="#fff"/>
<rect x="288.00" y="118.00" width="1.00" height="4.00" fill="#fff"/>
<rect x="286.00" y="124.00" width="4.00" height="6.00" fill="#fff"/>
<rect x="286.00" y="130.00" width="1.00" height="1.00" fill="#fff"/>
<rect x="289.00" y="130.00" width="1.00" height="1.00" fill="#fff"/>
<rect x="294.00" y="118.00" width="1.00" height="4.00" fill="#fff"/>
<rect x="292.00" y="124.00" width="4.00" height="6.00" fill="#fff"/>
<rect x="292.00" y="130.00" width="1.00" height="1.00" fill="#fff"/>
<rect x="295.00" y="130.00" width="1.00" height="1.00" fill="#fff"/>
<rect x="110.00" y="132.00" width="215.00" height="1.00" fill="#000"/>
<rect x="99.00" y="49.00" width="226.00" height="1.00" fill="#000"/>
<rect x="99.00" y="49.00" width="1.00" height="84.00" fill="#000"/>
<rect x="324.00" y="49.00" width="1.00" height="84.00" fill="#000"/>
<rect x="99.00" y="132.00" width="226.00" height="1.00" fill="#000"/>
<rect x="99.00" y="145.00" width="8.00" height="8.00" fill="#000"/>
<rect x="100.00" y="146.00" width="6.00" height="6.00" fill="#fff"/>
<rect x="98.00" y="152.00" width="9.00" height="9.00" fill="#000"/>
<rect x="99.00" y="153.00" width="7.00" height="7.00" fill="#fff"/>
<rect x="99.00" y="177.00" width="8.00" height="7.00" fill="#000"/>
<rect x="100.00" y="178.00" width="6.00" height="5.00" fill="#fff"/>
<rect x="99.00" y="183.00" width="8.00" height="4.00" fill="#000"/>
<rect x="100.00" y="184.00" width="6.00" height="2.00" fill="#fff"/>
<rect x="316.00" y="145.00" width="9.00" height="8.00" fill="#000"/>
<rect x="317.00" y="146.00" width="7.00" height="6.00" fill="#fff"/>
<rect x="316.00" y="152.00" width="9.00" height="8.00" fill="#000"/>
<rect x="317.00" y="153.00" width="7.00" height="6.00" fill="#fff"/>
<rect x="316.00" y="159.00" width="9.00" height="21.00" fill="#000"/>
<rect x="317.00" y="160.00" width="7.00" height="19.00" fill="#fff"/>
<rect x="316.00" y="179.00" width="9.00" height="7.00" fill="#000"/>
<rect x="317.00" y="180.00" width="7.00" height="5.00" fill="#fff"/>
<rect x="316.00" y="185.00" width="9.00" height="2.00" fill="#000"/>
<rect x="317.00" y="186.00" width="7.00" height="1.00" fill="#fff"/>
<rect x="106.00" y="145.00" width="4.00" height="17.00" fill="#000"/>
<rect x="106.00" y="170.00" width="4.00" height="17.00" fill="#000"/>
<rect x="313.00" y="145.00" width="4.00" height="17.00" fill="#000"/>
<rect x="315.00" y="147.00" width="1.00" height="14.00" fill="#fff"/>
<rect x="313.00" y="170.00" width="4.00" height="17.00" fill="#000"/>
<rect x="110.00" y="145.00" width="7.00" height="8.00" fill="#000"/>
<rect x="110.00" y="150.00" width="10.00" height="10.00" fill="#000"/>
<rect x="110.00" y="146.00" width="6.00" height="3.00" fill="#fff"/>
<rect x="113.00" y="149.00" width="3.00" height="3.00" fill="#fff"/>
<rect x="110.00" y="150.00" width="2.00" height="3.00" fill="#fff"/>
<rect x="117.00" y="151.00" width="2.00" height="2.00" fill="#fff"/>
<rect x="110.00" y="153.00" width="9.00" height="6.00" fill="#fff"/>
<rect x="110.00" y="170.00" width="7.00" height="8.00" fill="#000"/>
<rect x="110.00" y="175.00" width="10.00" height="10.00" fill="#000"/>
<rect x="110.00" y="171.00" width="6.00" height="3.00" fill="#fff"/>
<rect x="113.00" y="174.00" width="3.00" height="3.00" fill="#fff"/>
<rect x="110.00" y="175.00" width="2.00" height="3.00" fill="#fff"/>
<rect x="117.00" y="176.00" width="2.00" height="2.00" fill="#fff"/>
<rect x="110.00" y="178.00" width="9.00" height="6.00" fill="#fff"/>
<rect x="303.00" y="145.00" width="10.00" height="8.00" fill="#000"/>
<rect x="303.00" y="150.00" width="10.00" height="10.00" fill="#000"/>
<rect x="307.00" y="146.00" width="6.00" height="3.00" fill="#fff"/>
<rect x="307.00" y="149.00" width="3.00" height="3.00" fill="#fff"/>
<rect x="311.00" y="150.00" width="2.00" height="3.00" fill="#fff"/>
<rect x="304.00" y="151.00" width="2.00" height="2.00" fill="#fff"/>
<rect x="304.00" y="153.00" width="9.00" height="6.00" fill="#fff"/>
<rect x="303.00" y="145.00" width="3.00" height="5.00" fill="#fff"/>
<rect x="303.00" y="170.00" width="10.00" height="8.00" fill="#000"/>
<rect x="303.00" y="175.00" width="10.00" height="10.00" fill="#000"/>
<rect x="307.00" y="171.00" width="6.00" height="3.00" fill="#fff"/>
<rect x="307.00" y="174.00" width="3.00" height="3.00" fill="#fff"/>
<rect x="311.00" y="175.00" width="2.00" height="3.00" fill="#fff"/>
<rect x="304.00" y="176.00" width="2.00" height="2.00" fill="#fff"/>
<rect x="304.00" y="178.00" width="9.00" height="6.00" fill="#fff"/>
<rect x="303.00" y="170.00" width="3.00" height="5.00" fill="#fff"/>
<rect x="124.00" y="147.00" width="174.00" height="15.00" fill="#000"/>
<rect x="128.00" y="148.00" width="1.00" height="4.00" fill="#fff"/>
<rect x="127.00" y="154.00" width="4.00" height="6.00" fill="#fff"/>
<rect x="127.00" y="161.00" width="1.00" height="1.00" fill="#fff"/>
<rect x="130.00" y="161.00" width="1.00" height="1.00" fill="#fff"/>
<rect x="134.00" y="148.00" width="1.00" height="4.00" fill="#fff"/>
<rect x="133.00" y="154.00" width="4.00" height="6.00" fill="#fff"/>
<rect x="133.00" y="161.00" width="1.00" height="1.00" fill="#fff"/>
<rect x="136.00" y="161.00" width="1.00" height="1.00" fill="#fff"/>
<rect x="140.00" y="148.00" width="1.00" height="4.00" fill="#fff"/>
<rect x="139.00" y="154.00" width="4.00" height="6.00" fill="#fff"/>
<rect x="139.00" y="161.00" width="1.00" height="1.00" fill="#fff"/>
<rect x="142.00" y="161.00" width="1.00" height="1.00" fill="#fff"/>
<rect x="146.00" y="148.00" width="1.00" height="4.00" fill="#fff"/>
<rect x="145.00" y="154.00" width="4.00" height="6.00" fill="#fff"/>
<rect x="145.00" y="161.00" width="1.00" height="1.00" fill="#fff"/>
<rect x="148.00" y="161.00" width="1.00" height="1.00" fill="#fff"/>
<rect x="152.00" y="148.00" width="1.00" height="4.00" fill="#fff"/>
<rect x="150.00" y="154.00" width="5.00" height="6.00" fill="#fff"/>
<rect x="151.00" y="161.00" width="1.00" height="1.00" fill="#fff"/>
<rect x="154.00" y="161.00" width="1.00" height="1.00" fill="#fff"/>
<rect x="158.00" y="148.00" width="1.00" height="4.00" fill="#fff"/>
<rect x="156.00" y="154.00" width="5.00" height="6.00" fill="#fff"/>
<rect x="157.00" y="161.00" width="1.00" height="1.00" fill="#fff"/>
<rect x="159.00" y="161.00" width="1.00" height="1.00" fill="#fff"/>
<rect x="164.00" y="148.00" width="1.00" height="4.00" fill="#fff"/>
<rect x="162.00" y="154.00" width="4.00" height="6.00" fill="#fff"/>
<rect x="162.00" y="161.00" width="1.00" height="1.00" fill="#fff"/>
<rect x="165.00" y="161.00" width="1.00" height="1.00" fill="#fff"/>
<rect x="170.00" y="148.00" width="1.00" height="4.00" fill="#fff"/>
<rect x="168.00" y="154.00" width="4.00" height="6.00" fill="#fff"/>
<rect x="168.00" y="161.00" width="1.00" height="1.00" fill="#fff"/>
<rect x="171.00" y="161.00" width="1.00" height="1.00" fill="#fff"/>
<rect x="176.00" y="148.00" width="1.00" height="4.00" fill="#fff"/>
<rect x="174.00" y="154.00" width="4.00" height="6.00" fill="#fff"/>
<rect x="174.00" y="161.00" width="1.00" height="1.00" fill="#fff"/>
<rect x="177.00" y="161.00" width="1.00" height="1.00" fill="#fff"/>
<rect x="182.00" y="148.00" width="1.00" height="4.00" fill="#fff"/>
<rect x="180.00" y="154.00" width="4.00" height="6.00" fill="#fff"/>
<rect x="180.00" y="161.00" width="1.00" height="1.00" fill="#fff"/>
<rect x="183.00" y="161.00" width="1.00" height="1.00" fill="#fff"/>
<rect x="187.00" y="148.00" width="1.00" height="4.00" fill="#fff"/>
<rect x="186.00" y="154.00" width="4.00" height="6.00" fill="#fff"/>
<rect x="186.00" y="161.00" width="1.00" height="1.00" fill="#fff"/>
<rect x="189.00" y="161.00" width="1.00" height="1.00" fill="#fff"/>
<rect x="193.00" y="148.00" width="1.00" height="4.00" fill="#fff"/>
<rect x="192.00" y="154.00" width="4.00" height="6.00" fill="#fff"/>
<rect x="192.00" y="161.00" width="1.00" height="1.00" fill="#fff"/>
<rect x="195.00" y="161.00" width="1.00" height="1.00" fill="#fff"/>
<rect x="199.00" y="148.00" width="1.00" height="4.00" fill="#fff"/>
<rect x="198.00" y="154.00" width="4.00" height="6.00" fill="#fff"/>
<rect x="198.00" y="161.00" width="1.00" height="1.00" fill="#fff"/>
<rect x="201.00" y="161.00" width="1.00" height="1.00" fill="#fff"/>
<rect x="205.00" y="148.00" width="1.00" height="4.00" fill="#fff"/>
<rect x="204.00" y="154.00" width="4.00" height="6.00" fill="#fff"/>
<rect x="204.00" y="161.00" width="1.00" height="1.00" fill="#fff"/>
<rect x="207.00" y="161.00" width="1.00" height="1.00" fill="#fff"/>
<rect x="211.00" y="148.00" width="1.00" height="4.00" fill="#fff"/>
<rect x="209.00" y="154.00" width="5.00" height="6.00" fill="#fff"/>
<rect x="210.00" y="161.00" width="1.00" height="1.00" fill="#fff"/>
<rect x="213.00" y="161.00" width="1.00" height="1.00" fill="#fff"/>
<rect x="217.00" y="148.00" width="1.00" height="4.00" fill="#fff"/>
<rect x="215.00" y="154.00" width="5.00" height="6.00" fill="#fff"/>
<rect x="216.00" y="161.00" width="1.00" height="1.00" fill="#fff"/>
<rect x="218.00" y="161.00" width="1.00" height="1.00" fill="#fff"/>
<rect x="223.00" y="148.00" width="1.00" height="4.00" fill="#fff"/>
<rect x="221.00" y="154.00" width="4.00" height="6.00" fill="#fff"/>
<rect x="221.00" y="161.00" width="1.00" height="1.00" fill="#fff"/>
<rect x="224.00" y="161.00" width="1.00" height="1.00" fill="#fff"/>
<rect x="229.00" y="148.00" width="1.00" height="4.00" fill="#fff"/>
<rect x="227.00" y="154.00" width="4.00" height="6.00" fill="#fff"/>
<rect x="227.00" y="161.00" width="1.00" height="1.00" fill="#fff"/>
<rect x="230.00" y="161.00" width="1.00" height="1.00" fill="#fff"/>
<rect x="235.00" y="148.00" width="1.00" height="4.00" fill="#fff"/>
<rect x="233.00" y="154.00" width="4.00" height="6.00" fill="#fff"/>
<rect x="233.00" y="161.00" width="1.00" height="1.00" fill="#fff"/>
<rect x="236.00" y="161.00" width="1.00" height="1.00" fill="#fff"/>
<rect x="241.00" y="148.00" width="1.00" height="4.00" fill="#fff"/>
<rect x="239.00" y="154.00" width="4.00" height="6.00" fill="#fff"/>
<rect x="239.00" y="161.00" width="1.00" height="1.00" fill="#fff"/>
<rect x="242.00" y="161.00" width="1.00" height="1.00" fill="#fff"/>
<rect x="246.00" y="148.00" width="1.00" height="4.00" fill="#fff"/>
<rect x="245.00" y="154.00" width="4.00" height="6.00" fill="#fff"/>
<rect x="245.00" y="161.00" width="1.00" height="1.00" fill="#fff"/>
<rect x="248.00" y="161.00" width="1.00" height="1.00" fill="#fff"/>
<rect x="252.00" y="148.00" width="1.00" height="4.00" fill="#fff"/>
<rect x="251.00" y="154.00" width="4.00" height="6.00" fill="#fff"/>
<rect x="251.00" y="161.00" width="1.00" height="1.00" fill="#fff"/>
<rect x="254.00" y="161.00" width="1.00" height="1.00" fill="#fff"/>
<rect x="258.00" y="148.00" width="1.00" height="4.00" fill="#fff"/>
<rect x="257.00" y="154.00" width="4.00" height="6.00" fill="#fff"/>
<rect x="257.00" y="161.00" width="1.00" height="1.00" fill="#fff"/>
<rect x="260.00" y="161.00" width="1.00" height="1.00" fill="#fff"/>
<rect x="264.00" y="148.00" width="1.00" height="4.00" fill="#fff"/>
<rect x="263.00" y="154.00" width="4.00" height="6.00" fill="#fff"/>
<rect x="263.00" y="161.00" width="1.00" height="1.00" fill="#fff"/>
<rect x="266.00" y="161.00" width="1.00" height="1.00" fill="#fff"/>
<rect x="270.00" y="148.00" width="1.00" height="4.00" fill="#fff"/>
<rect x="268.00" y="154.00" width="5.00" height="6.00" fill="#fff"/>
<rect x="269.00" y="161.00" width="1.00" height="1.00" fill="#fff"/>
<rect x="272.00" y="161.00" width="1.00" height="1.00" fill="#fff"/>
<rect x="276.00" y="148.00" width="1.00" height="4.00" fill="#fff"/>
<rect x="274.00" y="154.00" width="5.00" height="6.00" fill="#fff"/>
<rect x="275.00" y="161.00" width="1.00" height="1.00" fill="#fff"/>
<rect x="277.00" y="161.00" width="1.00" height="1.00" fill="#fff"/>
<rect x="282.00" y="148.00" width="1.00" height="4.00" fill="#fff"/>
<rect x="280.00" y="154.00" width="4.00" height="6.00" fill="#fff"/>
<rect x="280.00" y="161.00" width="1.00" height="1.00" fill="#fff"/>
<rect x="283.00" y="161.00" width="1.00" height="1.00" fill="#fff"/>
<rect x="288.00" y="148.00" width="1.00" height="4.00" fill="#fff"/>
<rect x="286.00" y="154.00" width="4.00" height="6.00" fill="#fff"/>
<rect x="286.00" y="161.00" width="1.00" height="1.00" fill="#fff"/>
<rect x="289.00" y="161.00" width="1.00" height="1.00" fill="#fff"/>
<rect x="294.00" y="148.00" width="1.00" height="4.00" fill="#fff"/>
<rect x="292.00" y="154.00" width="4.00" height="6.00" fill="#fff"/>
<rect x="292.00" y="161.00" width="1.00" height="1.00" fill="#fff"/>
<rect x="295.00" y="161.00" width="1.00" height="1.00" fill="#fff"/>
<rect x="122.00" y="162.00" width="31.00" height="8.00" fill="#000"/>
<rect x="123.00" y="163.00" width="29.00" height="6.00" fill="#fff"/>
<rect x="159.00" y="162.00" width="31.00" height="8.00" fill="#000"/>
<rect x="160.00" y="163.00" width="29.00" height="6.00" fill="#fff"/>
<rect x="196.00" y="162.00" width="30.00" height="8.00" fill="#000"/>
<rect x="197.00" y="163.00" width="28.00" height="6.00" fill="#fff"/>
<rect x="233.00" y="162.00" width="31.00" height="8.00" fill="#000"/>
<rect x="234.00" y="163.00" width="29.00" height="6.00" fill="#fff"/>
<rect x="269.00" y="162.00" width="30.00" height="8.00" fill="#000"/>
<rect x="270.00" y="163.00" width="28.00" height="6.00" fill="#fff"/>
<rect x="104.00" y="162.00" width="16.00" height="8.00" fill="#000"/>
<rect x="105.00" y="163.00" width="14.00" height="6.00" fill="#fff"/>
<rect x="302.00" y="162.00" width="15.00" height="8.00" fill="#000"/>
<rect x="303.00" y="163.00" width="13.00" height="6.00" fill="#fff"/>
<rect x="124.00" y="171.00" width="174.00" height="15.00" fill="#000"/>
<rect x="128.00" y="172.00" width="1.00" height="4.00" fill="#fff"/>
<rect x="127.00" y="178.00" width="4.00" height="6.00" fill="#fff"/>
<rect x="127.00" y="185.00" width="1.00" height="1.00" fill="#fff"/>
<rect x="130.00" y="185.00" width="1.00" height="1.00" fill="#fff"/>
<rect x="134.00" y="172.00" width="1.00" height="4.00" fill="#fff"/>
<rect x="133.00" y="178.00" width="4.00" height="6.00" fill="#fff"/>
<rect x="133.00" y="185.00" width="1.00" height="1.00" fill="#fff"/>
<rect x="136.00" y="185.00" width="1.00" height="1.00" fill="#fff"/>
<rect x="140.00" y="172.00" width="1.00" height="4.00" fill="#fff"/>
<rect x="139.00" y="178.00" width="4.00" height="6.00" fill="#fff"/>
<rect x="139.00" y="185.00" width="1.00" height="1.00" fill="#fff"/>
<rect x="142.00" y="185.00" width="1.00" height="1.00" fill="#fff"/>
<rect x="146.00" y="172.00" width="1.00" height="4.00" fill="#fff"/>
<rect x="145.00" y="178.00" width="4.00" height="6.00" fill="#fff"/>
<rect x="145.00" y="185.00" width="1.00" height="1.00" fill="#fff"/>
<rect x="148.00" y="185.00" width="1.00" height="1.00" fill="#fff"/>
<rect x="152.00" y="172.00" width="1.00" height="4.00" fill="#fff"/>
<rect x="150.00" y="178.00" width="5.00" height="6.00" fill="#fff"/>
<rect x="151.00" y="185.00" width="1.00" height="1.00" fill="#fff"/>
<rect x="154.00" y="185.00" width="1.00" height="1.00" fill="#fff"/>
<rect x="158.00" y="172.00" width="1.00" height="4.00" fill="#fff"/>
<rect x="156.00" y="178.00" width="5.00" height="6.00" fill="#fff"/>
<rect x="157.00" y="185.00" width="1.00" height="1.00" fill="#fff"/>
<rect x="159.00" y="185.00" width="1.00" height="1.00" fill="#fff"/>
<rect x="164.00" y="172.00" width="1.00" height="4.00" fill="#fff"/>
<rect x="162.00" y="178.00" width="4.00" height="6.00" fill="#fff"/>
<rect x="162.00" y="185.00" width="1.00" height="1.00" fill="#fff"/>
<rect x="165.00" y="185.00" width="1.00" height="1.00" fill="#fff"/>
<rect x="170.00" y="172.00" width="1.00" height="4.00" fill="#fff"/>
<rect x="168.00" y="178.00" width="4.00" height="6.00" fill="#fff"/>
<rect x="168.00" y="185.00" width="1.00" height="1.00" fill="#fff"/>
<rect x="171.00" y="185.00" width="1.00" height="1.00" fill="#fff"/>
<rect x="176.00" y="172.00" width="1.00" height="4.00" fill="#fff"/>
<rect x="174.00" y="178.00" width="4.00" height="6.00" fill="#fff"/>
<rect x="174.00" y="185.00" width="1.00" height="1.00" fill="#fff"/>
<rect x="177.00" y="185.00" width="1.00" height="1.00" fill="#fff"/>
<rect x="182.00" y="172.00" width="1.00" height="4.00" fill="#fff"/>
<rect x="180.00" y="178.00" width="4.00" height="6.00" fill="#fff"/>
<rect x="180.00" y="185.00" width="1.00" height="1.00" fill="#fff"/>
<rect x="183.00" y="185.00" width="1.00" height="1.00" fill="#fff"/>
<rect x="187.00" y="172.00" width="1.00" height="4.00" fill="#fff"/>
<rect x="186.00" y="178.00" width="4.00" height="6.00" fill="#fff"/>
<rect x="186.00" y="185.00" width="1.00" height="1.00" fill="#fff"/>
<rect x="189.00" y="185.00" width="1.00" height="1.00" fill="#fff"/>
<rect x="193.00" y="172.00" width="1.00" height="4.00" fill="#fff"/>
<rect x="192.00" y="178.00" width="4.00" height="6.00" fill="#fff"/>
<rect x="192.00" y="185.00" width="1.00" height="1.00" fill="#fff"/>
<rect x="195.00" y="185.00" width="1.00" height="1.00" fill="#fff"/>
<rect x="199.00" y="172.00" width="1.00" height="4.00" fill="#fff"/>
<rect x="198.00" y="178.00" width="4.00" height="6.00" fill="#fff"/>
<rect x="198.00" y="185.00" width="1.00" height="1.00" fill="#fff"/>
<rect x="201.00" y="185.00" width="1.00" height="1.00" fill="#fff"/>
<rect x="205.00" y="172.00" width="1.00" height="4.00" fill="#fff"/>
<rect x="204.00" y="178.00" width="4.00" height="6.00" fill="#fff"/>
<rect x="204.00" y="185.00" width="1.00" height="1.00" fill="#fff"/>
<rect x="207.00" y="185.00" width="1.00" height="1.00" fill="#fff"/>
<rect x="211.00" y="172.00" width="1.00" height="4.00" fill="#fff"/>
<rect x="209.00" y="178.00" width="5.00" height="6.00" fill="#fff"/>
<rect x="210.00" y="185.00" width="1.00" height="1.00" fill="#fff"/>
<rect x="213.00" y="185.00" width="1.00" height="1.00" fill="#fff"/>
<rect x="217.00" y="172.00" width="1.00" height="4.00" fill="#fff"/>
<rect x="215.00" y="178.00" width="5.00" height="6.00" fill="#fff"/>
<rect x="216.00" y="185.00" width="1.00" height="1.00" fill="#fff"/>
<rect x="218.00" y="185.00" width="1.00" height="1.00" fill="#fff"/>
<rect x="223.00" y="172.00" width="1.00" height="4.00" fill="#fff"/>
<rect x="221.00" y="178.00" width="4.00" height="6.00" fill="#fff"/>
<rect x="221.00" y="185.00" width="1.00" height="1.00" fill="#fff"/>
<rect x="224.00" y="185.00" width="1.00" height="1.00" fill="#fff"/>
<rect x="229.00" y="172.00" width="1.00" height="4.00" fill="#fff"/>
<rect x="227.00" y="178.00" width="4.00" height="6.00" fill="#fff"/>
<rect x="227.00" y="185.00" width="1.00" height="1.00" fill="#fff"/>
<rect x="230.00" y="185.00" width="1.00" height="1.00" fill="#fff"/>
<rect x="235.00" y="172.00" width="1.00" height="4.00" fill="#fff"/>
<rect x="233.00" y="178.00" width="4.00" height="6.00" fill="#fff"/>
<rect x="233.00" y="185.00" width="1.00" height="1.00" fill="#fff"/>
<rect x="236.00" y="185.00" width="1.00" height="1.00" fill="#fff"/>
<rect x="241.00" y="172.00" width="1.00" height="4.00" fill="#fff"/>
<rect x="239.00" y="178.00" width="4.00" height="6.00" fill="#fff"/>
<rect x="239.00" y="185.00" width="1.00" height="1.00" fill="#fff"/>
<rect x="242.00" y="185.00" width="1.00" height="1.00" fill="#fff"/>
<rect x="246.00" y="172.00" width="1.00" height="4.00" fill="#fff"/>
<rect x="245.00" y="178.00" width="4.00" height="6.00" fill="#fff"/>
<rect x="245.00" y="185.00" width="1.00" height="1.00" fill="#fff"/>
<rect x="248.00" y="185.00" width="1.00" height="1.00" fill="#fff"/>
<rect x="252.00" y="172.00" width="1.00" height="4.00" fill="#fff"/>
<rect x="251.00" y="178.00" width="4.00" height="6.00" fill="#fff"/>
<rect x="251.00" y="185.00" width="1.00" height="1.00" fill="#fff"/>
<rect x="254.00" y="185.00" width="1.00" height="1.00" fill="#fff"/>
<rect x="258.00" y="172.00" width="1.00" height="4.00" fill="#fff"/>
<rect x="257.00" y="178.00" width="4.00" height="6.00" fill="#fff"/>
<rect x="257.00" y="185.00" width="1.00" height="1.00" fill="#fff"/>
<rect x="260.00" y="185.00" width="1.00" height="1.00" fill="#fff"/>
<rect x="264.00" y="172.00" width="1.00" height="4.00" fill="#fff"/>
<rect x="263.00" y="178.00" width="4.00" height="6.00" fill="#fff"/>
<rect x="263.00" y="185.00" width="1.00" height="1.00" fill="#fff"/>
<rect x="266.00" y="185.00" width="1.00" height="1.00" fill="#fff"/>
<rect x="270.00" y="172.00" width="1.00" height="4.00" fill="#fff"/>
<rect x="268.00" y="178.00" width="5.00" height="6.00" fill="#fff"/>
<rect x="269.00" y="185.00" width="1.00" height="1.00" fill="#fff"/>
<rect x="272.00" y="185.00" width="1.00" height="1.00" fill="#fff"/>
<rect x="276.00" y="172.00" width="1.00" height="4.00" fill="#fff"/>
<rect x="274.00" y="178.00" width="5.00" height="6.00" fill="#fff"/>
<rect x="275.00" y="185.00" width="1.00" height="1.00" fill="#fff"/>
<rect x="277.00" y="185.00" width="1.00" height="1.00" fill="#fff"/>
<rect x="282.00" y="172.00" width="1.00" height="4.00" fill="#fff"/>
<rect x="280.00" y="178.00" width="4.00" height="6.00" fill="#fff"/>
<rect x="280.00" y="185.00" width="1.00" height="1.00" fill="#fff"/>
<rect x="283.00" y="185.00" width="1.00" height="1.00" fill="#fff"/>
<rect x="288.00" y="172.00" width="1.00" height="4.00" fill="#fff"/>
<rect x="286.00" y="178.00" width="4.00" height="6.00" fill="#fff"/>
<rect x="286.00" y="185.00" width="1.00" height="1.00" fill="#fff"/>
<rect x="289.00" y="185.00" width="1.00" height="1.00" fill="#fff"/>
<rect x="294.00" y="172.00" width="1.00" height="4.00" fill="#fff"/>
<rect x="292.00" y="178.00" width="4.00" height="6.00" fill="#fff"/>
<rect x="292.00" y="185.00" width="1.00" height="1.00" fill="#fff"/>
<rect x="295.00" y="185.00" width="1.00" height="1.00" fill="#fff"/>
<rect x="110.00" y="186.00" width="215.00" height="1.00" fill="#000"/>
<rect x="99.00" y="186.00" width="8.00" height="8.00" fill="#000"/>
<rect x="100.00" y="187.00" width="6.00" height="6.00" fill="#fff"/>
<rect x="98.00" y="193.00" width="9.00" height="9.00" fill="#000"/>
<rect x="99.00" y="194.00" width="7.00" height="7.00" fill="#fff"/>
<rect x="99.00" y="218.00" width="8.00" height="7.00" fill="#000"/>
<rect x="100.00" y="219.00" width="6.00" height="5.00" fill="#fff"/>
<rect x="99.00" y="224.00" width="8.00" height="5.00" fill="#000"/>
<rect x="100.00" y="225.00" width="6.00" height="3.00" fill="#fff"/>
<rect x="316.00" y="186.00" width="9.00" height="8.00" fill="#000"/>
<rect x="317.00" y="187.00" width="7.00" height="6.00" fill="#fff"/>
<rect x="316.00" y="193.00" width="9.00" height="8.00" fill="#000"/>
<rect x="317.00" y="194.00" width="7.00" height="6.00" fill="#fff"/>
<rect x="316.00" y="200.00" width="9.00" height="21.00" fill="#000"/>
<rect x="317.00" y="201.00" width="7.00" height="19.00" fill="#fff"/>
<rect x="316.00" y="220.00" width="9.00" height="7.00" fill="#000"/>
<rect x="317.00" y="221.00" width="7.00" height="5.00" fill="#fff"/>
<rect x="316.00" y="226.00" width="9.00" height="3.00" fill="#000"/>
<rect x="317.00" y="227.00" width="7.00" height="1.00" fill="#fff"/>
<rect x="106.00" y="186.00" width="4.00" height="17.00" fill="#000"/>
<rect x="106.00" y="211.00" width="4.00" height="18.00" fill="#000"/>
<rect x="313.00" y="186.00" width="4.00" height="17.00" fill="#000"/>
<rect x="315.00" y="189.00" width="1.00" height="13.00" fill="#fff"/>
<rect x="313.00" y="211.00" width="4.00" height="18.00" fill="#000"/>
<rect x="110.00" y="187.00" width="7.00" height="8.00" fill="#000"/>
<rect x="110.00" y="192.00" width="10.00" height="10.00" fill="#000"/>
<rect x="110.00" y="188.00" width="6.00" height="3.00" fill="#fff"/>
<rect x="113.00" y="191.00" width="3.00" height="3.00" fill="#fff"/>
<rect x="110.00" y="192.00" width="2.00" height="3.00" fill="#fff"/>
<rect x="117.00" y="193.00" width="2.00" height="2.00" fill="#fff"/>
<rect x="110.00" y="195.00" width="9.00" height="6.00" fill="#fff"/>
<rect x="110.00" y="211.00" width="7.00" height="8.00" fill="#000"/>
<rect x="110.00" y="216.00" width="10.00" height="10.00" fill="#000"/>
<rect x="110.00" y="212.00" width="6.00" height="3.00" fill="#fff"/>
<rect x="113.00" y="215.00" width="3.00" height="3.00" fill="#fff"/>
<rect x="110.00" y="216.00" width="2.00" height="3.00" fill="#fff"/>
<rect x="117.00" y="217.00" width="2.00" height="2.00" fill="#fff"/>
<rect x="110.00" y="219.00" width="9.00" height="6.00" fill="#fff"/>
<rect x="303.00" y="187.00" width="10.00" height="8.00" fill="#000"/>
<rect x="303.00" y="192.00" width="10.00" height="10.00" fill="#000"/>
<rect x="307.00" y="188.00" width="6.00" height="3.00" fill="#fff"/>
<rect x="307.00" y="191.00" width="3.00" height="3.00" fill="#fff"/>
<rect x="311.00" y="192.00" width="2.00" height="3.00" fill="#fff"/>
<rect x="304.00" y="193.00" width="2.00" height="2.00" fill="#fff"/>
<rect x="304.00" y="195.00" width="9.00" height="6.00" fill="#fff"/>
<rect x="303.00" y="187.00" width="3.00" height="5.00" fill="#fff"/>
<rect x="303.00" y="211.00" width="10.00" height="8.00" fill="#000"/>
<rect x="303.00" y="216.00" width="10.00" height="10.00" fill="#000"/>
<rect x="307.00" y="212.00" width="6.00" height="3.00" fill="#fff"/>
<rect x="307.00" y="215.00" width="3.00" height="3.00" fill="#fff"/>
<rect x="311.00" y="216.00" width="2.00" height="3.00" fill="#fff"/>
<rect x="304.00" y="217.00" width="2.00" height="2.00" fill="#fff"/>
<rect x="304.00" y="219.00" width="9.00" height="6.00" fill="#fff"/>
<rect x="303.00" y="211.00" width="3.00" height="5.00" fill="#fff"/>
<rect x="124.00" y="189.00" width="174.00" height="14.00" fill="#000"/>
<rect x="128.00" y="190.00" width="1.00" height="4.00" fill="#fff"/>
<rect x="127.00" y="196.00" width="4.00" height="6.00" fill="#fff"/>
<rect x="127.00" y="202.00" width="1.00" height="1.00" fill="#fff"/>
<rect x="130.00" y="202.00" width="1.00" height="1.00" fill="#fff"/>
<rect x="134.00" y="190.00" width="1.00" height="4.00" fill="#fff"/>
<rect x="133.00" y="196.00" width="4.00" height="6.00" fill="#fff"/>
<rect x="133.00" y="202.00" width="1.00" height="1.00" fill="#fff"/>
<rect x="136.00" y="202.00" width="1.00" height="1.00" fill="#fff"/>
<rect x="140.00" y="190.00" width="1.00" height="4.00" fill="#fff"/>
<rect x="139.00" y="196.00" width="4.00" height="6.00" fill="#fff"/>
<rect x="139.00" y="202.00" width="1.00" height="1.00" fill="#fff"/>
<rect x="142.00" y="202.00" width="1.00" height="1.00" fill="#fff"/>
<rect x="146.00" y="190.00" width="1.00" height="4.00" fill="#fff"/>
<rect x="145.00" y="196.00" width="4.00" height="6.00" fill="#fff"/>
<rect x="145.00" y="202.00" width="1.00" height="1.00" fill="#fff"/>
<rect x="148.00" y="202.00" width="1.00" height="1.00" fill="#fff"/>
<rect x="152.00" y="190.00" width="1.00" height="4.00" fill="#fff"/>
<rect x="150.00" y="196.00" width="5.00" height="6.00" fill="#fff"/>
<rect x="151.00" y="202.00" width="1.00" height="1.00" fill="#fff"/>
<rect x="154.00" y="202.00" width="1.00" height="1.00" fill="#fff"/>
<rect x="158.00" y="190.00" width="1.00" height="4.00" fill="#fff"/>
<rect x="156.00" y="196.00" width="5.00" height="6.00" fill="#fff"/>
<rect x="157.00" y="202.00" width="1.00" height="1.00" fill="#fff"/>
<rect x="159.00" y="202.00" width="1.00" height="1.00" fill="#fff"/>
<rect x="164.00" y="190.00" width="1.00" height="4.00" fill="#fff"/>
<rect x="162.00" y="196.00" width="4.00" height="6.00" fill="#fff"/>
<rect x="162.00" y="202.00" width="1.00" height="1.00" fill="#fff"/>
<rect x="165.00" y="202.00" width="1.00" height="1.00" fill="#fff"/>
<rect x="170.00" y="190.00" width="1.00" height="4.00" fill="#fff"/>
<rect x="168.00" y="196.00" width="4.00" height="6.00" fill="#fff"/>
<rect x="168.00" y="202.00" width="1.00" height="1.00" fill="#fff"/>
<rect x="171.00" y="202.00" width="1.00" height="1.00" fill="#fff"/>
<rect x="176.00" y="190.00" width="1.00" height="4.00" fill="#fff"/>
<rect x="174.00" y="196.00" width="4.00" height="6.00" fill="#fff"/>
<rect x="174.00" y="202.00" width="1.00" height="1.00" fill="#fff"/>
<rect x="177.00" y="202.00" width="1.00" height="1.00" fill="#fff"/>
<rect x="182.00" y="190.00" width="1.00" height="4.00" fill="#fff"/>
<rect x="180.00" y="196.00" width="4.00" height="6.00" fill="#fff"/>
<rect x="180.00" y="202.00" width="1.00" height="1.00" fill="#fff"/>
<rect x="183.00" y="202.00" width="1.00" height="1.00" fill="#fff"/>
<rect x="187.00" y="190.00" width="1.00" height="4.00" fill="#fff"/>
<rect x="186.00" y="196.00" width="4.00" height="6.00" fill="#fff"/>
<rect x="186.00" y="202.00" width="1.00" height="1.00" fill="#fff"/>
<rect x="189.00" y="202.00" width="1.00" height="1.00" fill="#fff"/>
<rect x="193.00" y="190.00" width="1.00" height="4.00" fill="#fff"/>
<rect x="192.00" y="196.00" width="4.00" height="6.00" fill="#fff"/>
<rect x="192.00" y="202.00" width="1.00" height="1.00" fill="#fff"/>
<rect x="195.00" y="202.00" width="1.00" height="1.00" fill="#fff"/>
<rect x="199.00" y="190.00" width="1.00" height="4.00" fill="#fff"/>
<rect x="198.00" y="196.00" width="4.00" height="6.00" fill="#fff"/>
<rect x="198.00" y="202.00" width="1.00" height="1.00" fill="#fff"/>
<rect x="201.00" y="202.00" width="1.00" height="1.00" fill="#fff"/>
<rect x="205.00" y="190.00" width="1.00" height="4.00" fill="#fff"/>
<rect x="204.00" y="196.00" width="4.00" height="6.00" fill="#fff"/>
<rect x="204.00" y="202.00" width="1.00" height="1.00" fill="#fff"/>
<rect x="207.00" y="202.00" width="1.00" height="1.00" fill="#fff"/>
<rect x="211.00" y="190.00" width="1.00" height="4.00" fill="#fff"/>
<rect x="209.00" y="196.00" width="5.00" height="6.00" fill="#fff"/>
<rect x="210.00" y="202.00" width="1.00" height="1.00" fill="#fff"/>
<rect x="213.00" y="202.00" width="1.00" height="1.00" fill="#fff"/>
<rect x="217.00" y="190.00" width="1.00" height="4.00" fill="#fff"/>
<rect x="215.00" y="196.00" width="5.00" height="6.00" fill="#fff"/>
<rect x="216.00" y="202.00" width="1.00" height="1.00" fill="#fff"/>
<rect x="218.00" y="202.00" width="1.00" height="1.00" fill="#fff"/>
<rect x="223.00" y="190.00" width="1.00" height="4.00" fill="#fff"/>
<rect x="221.00" y="196.00" width="4.00" height="6.00" fill="#fff"/>
<rect x="221.00" y="202.00" width="1.00" height="1.00" fill="#fff"/>
<rect x="224.00" y="202.00" width="1.00" height="1.00" fill="#fff"/>
<rect x="229.00" y="190.00" width="1.00" height="4.00" fill="#fff"/>
<rect x="227.00" y="196.00" width="4.00" height="6.00" fill="#fff"/>
<rect x="227.00" y="202.00" width="1.00" height="1.00" fill="#fff"/>
<rect x="230.00" y="202.00" width="1.00" height="1.00" fill="#fff"/>
<rect x="235.00" y="190.00" width="1.00" height="4.00" fill="#fff"/>
<rect x="233.00" y="196.00" width="4.00" height="6.00" fill="#fff"/>
<rect x="233.00" y="202.00" width="1.00" height="1.00" fill="#fff"/>
<rect x="236.00" y="202.00" width="1.00" height="1.00" fill="#fff"/>
<rect x="241.00" y="190.00" width="1.00" height="4.00" fill="#fff"/>
<rect x="239.00" y="196.00" width="4.00" height="6.00" fill="#fff"/>
<rect x="239.00" y="202.00" width="1.00" height="1.00" fill="#fff"/>
<rect x="242.00" y="202.00" width="1.00" height="1.00" fill="#fff"/>
<rect x="246.00" y="190.00" width="1.00" height="4.00" fill="#fff"/>
<rect x="245.00" y="196.00" width="4.00" height="6.00" fill="#fff"/>
<rect x="245.00" y="202.00" width="1.00" height="1.00" fill="#fff"/>
<rect x="248.00" y="202.00" width="1.00" height="1.00" fill="#fff"/>
<rect x="252.00" y="190.00" width="1.00" height="4.00" fill="#fff"/>
<rect x="251.00" y="196.00" width="4.00" height="6.00" fill="#fff"/>
<rect x="251.00" y="202.00" width="1.00" height="1.00" fill="#fff"/>
<rect x="254.00" y="202.00" width="1.00" height="1.00" fill="#fff"/>
<rect x="258.00" y="190.00" width="1.00" height="4.00" fill="#fff"/>
<rect x="257.00" y="196.00" width="4.00" height="6.00" fill="#fff"/>
<rect x="257.00" y="202.00" width="1.00" height="1.00" fill="#fff"/>
<rect x="260.00" y="202.00" width="1.00" height="1.00" fill="#fff"/>
<rect x="264.00" y="190.00" width="1.00" height="4.00" fill="#fff"/>
<rect x="263.00" y="196.00" width="4.00" height="6.00" fill="#fff"/>
<rect x="263.00" y="202.00" width="1.00" height="1.00" fill="#fff"/>
<rect x="266.00" y="202.00" width="1.00" height="1.00" fill="#fff"/>
<rect x="270.00" y="190.00" width="1.00" height="4.00" fill="#fff"/>
<rect x="268.00" y="196.00" width="5.00" height="6.00" fill="#fff"/>
<rect x="269.00" y="202.00" width="1.00" height="1.00" fill="#fff"/>
<rect x="272.00" y="202.00" width="1.00" height="1.00" fill="#fff"/>
<rect x="276.00" y="190.00" width="1.00" height="4.00" fill="#fff"/>
<rect x="274.00" y="196.00" width="5.00" height="6.00" fill="#fff"/>
<rect x="275.00" y="202.00" width="1.00" height="1.00" fill="#fff"/>
<rect x="277.00" y="202.00" width="1.00" height="1.00" fill="#fff"/>
<rect x="282.00" y="190.00" width="1.00" height="4.00" fill="#fff"/>
<rect x="280.00" y="196.00" width="4.00" height="6.00" fill="#fff"/>
<rect x="280.00" y="202.00" width="1.00" height="1.00" fill="#fff"/>
<rect x="283.00" y="202.00" width="1.00" height="1.00" fill="#fff"/>
<rect x="288.00" y="190.00" width="1.00" height="4.00" fill="#fff"/>
<rect x="286.00" y="196.00" width="4.00" height="6.00" fill="#fff"/>
<rect x="286.00" y="202.00" width="1.00" height="1.00" fill="#fff"/>
<rect x="289.00" y="202.00" width="1.00" height="1.00" fill="#fff"/>
<rect x="294.00" y="190.00" width="1.00" height="4.00" fill="#fff"/>
<rect x="292.00" y="196.00" width="4.00" height="6.00" fill="#fff"/>
<rect x="292.00" y="202.00" width="1.00" height="1.00" fill="#fff"/>
<rect x="295.00" y="202.00" width="1.00" height="1.00" fill="#fff"/>
<rect x="122.00" y="204.00" width="31.00" height="8.00" fill="#000"/>
<rect x="123.00" y="205.00" width="29.00" height="6.00" fill="#fff"/>
<rect x="159.00" y="204.00" width="31.00" height="8.00" fill="#000"/>
<rect x="160.00" y="205.00" width="29.00" height="6.00" fill="#fff"/>
<rect x="196.00" y="204.00" width="30.00" height="8.00" fill="#000"/>
<rect x="197.00" y="205.00" width="28.00" height="6.00" fill="#fff"/>
<rect x="233.00" y="204.00" width="31.00" height="8.00" fill="#000"/>
<rect x="234.00" y="205.00" width="29.00" height="6.00" fill="#fff"/>
<rect x="269.00" y="204.00" width="30.00" height="8.00" fill="#000"/>
<rect x="270.00" y="205.00" width="28.00" height="6.00" fill="#fff"/>
<rect x="104.00" y="204.00" width="16.00" height="8.00" fill="#000"/>
<rect x="105.00" y="205.00" width="14.00" height="6.00" fill="#fff"/>
<rect x="302.00" y="204.00" width="15.00" height="8.00" fill="#000"/>
<rect x="303.00" y="205.00" width="13.00" height="6.00" fill="#fff"/>
<rect x="124.00" y="212.00" width="174.00" height="15.00" fill="#000"/>
<rect x="128.00" y="213.00" width="1.00" height="4.00" fill="#fff"/>
<rect x="127.00" y="219.00" width="4.00" height="6.00" fill="#fff"/>
<rect x="127.00" y="226.00" width="1.00" height="1.00" fill="#fff"/>
<rect x="130.00" y="226.00" width="1.00" height="1.00" fill="#fff"/>
<rect x="134.00" y="213.00" width="1.00" height="4.00" fill="#fff"/>
<rect x="133.00" y="219.00" width="4.00" height="6.00" fill="#fff"/>
<rect x="133.00" y="226.00" width="1.00" height="1.00" fill="#fff"/>
<rect x="136.00" y="226.00" width="1.00" height="1.00" fill="#fff"/>
<rect x="140.00" y="213.00" width="1.00" height="4.00" fill="#fff"/>
<rect x="139.00" y="219.00" width="4.00" height="6.00" fill="#fff"/>
<rect x="139.00" y="226.00" width="1.00" height="1.00" fill="#fff"/>
<rect x="142.00" y="226.00" width="1.00" height="1.00" fill="#fff"/>
<rect x="146.00" y="213.00" width="1.00" height="4.00" fill="#fff"/>
<rect x="145.00" y="219.00" width="4.00" height="6.00" fill="#fff"/>
<rect x="145.00" y="226.00" width="1.00" height="1.00" fill="#fff"/>
<rect x="148.00" y="226.00" width="1.00" height="1.00" fill="#fff"/>
<rect x="152.00" y="213.00" width="1.00" height="4.00" fill="#fff"/>
<rect x="150.00" y="219.00" width="5.00" height="6.00" fill="#fff"/>
<rect x="151.00" y="226.00" width="1.00" height="1.00" fill="#fff"/>
<rect x="154.00" y="226.00" width="1.00" height="1.00" fill="#fff"/>
<rect x="158.00" y="213.00" width="1.00" height="4.00" fill="#fff"/>
<rect x="156.00" y="219.00" width="5.00" height="6.00" fill="#fff"/>
<rect x="157.00" y="226.00" width="1.00" height="1.00" fill="#fff"/>
<rect x="159.00" y="226.00" width="1.00" height="1.00" fill="#fff"/>
<rect x="164.00" y="213.00" width="1.00" height="4.00" fill="#fff"/>
<rect x="162.00" y="219.00" width="4.00" height="6.00" fill="#fff"/>
<rect x="162.00" y="226.00" width="1.00" height="1.00" fill="#fff"/>
<rect x="165.00" y="226.00" width="1.00" height="1.00" fill="#fff"/>
<rect x="170.00" y="213.00" width="1.00" height="4.00" fill="#fff"/>
<rect x="168.00" y="219.00" width="4.00" height="6.00" fill="#fff"/>
<rect x="168.00" y="226.00" width="1.00" height="1.00" fill="#fff"/>
<rect x="171.00" y="226.00" width="1.00" height="1.00" fill="#fff"/>
<rect x="176.00" y="213.00" width="1.00" height="4.00" fill="#fff"/>
<rect x="174.00" y="219.00" width="4.00" height="6.00" fill="#fff"/>
<rect x="174.00" y="226.00" width="1.00" height="1.00" fill="#fff"/>
<rect x="177.00" y="226.00" width="1.00" height="1.00" fill="#fff"/>
<rect x="182.00" y="213.00" width="1.00" height="4.00" fill="#fff"/>
<rect x="180.00" y="219.00" width="4.00" height="6.00" fill="#fff"/>
<rect x="180.00" y="226.00" width="1.00" height="1.00" fill="#fff"/>
<rect x="183.00" y="226.00" width="1.00" height="1.00" fill="#fff"/>
<rect x="187.00" y="213.00" width="1.00" height="4.00" fill="#fff"/>
<rect x="186.00" y="219.00" width="4.00" height="6.00" fill="#fff"/>
<rect x="186.00" y="226.00" width="1.00" height="1.00" fill="#fff"/>
<rect x="189.00" y="226.00" width="1.00" height="1.00" fill="#fff"/>
<rect x="193.00" y="213.00" width="1.00" height="4.00" fill="#fff"/>
<rect x="192.00" y="219.00" width="4.00" height="6.00" fill="#fff"/>
<rect x="192.00" y="226.00" width="1.00" height="1.00" fill="#fff"/>
<rect x="195.00" y="226.00" width="1.00" height="1.00" fill="#fff"/>
<rect x="199.00" y="213.00" width="1.00" height="4.00" fill="#fff"/>
<rect x="198.00" y="219.00" width="4.00" height="6.00" fill="#fff"/>
<rect x="198.00" y="226.00" width="1.00" height="1.00" fill="#fff"/>
<rect x="201.00" y="226.00" width="1.00" height="1.00" fill="#fff"/>
<rect x="205.00" y="213.00" width="1.00" height="4.00" fill="#fff"/>
<rect x="204.00" y="219.00" width="4.00" height="6.00" fill="#fff"/>
<rect x="204.00" y="226.00" width="1.00" height="1.00" fill="#fff"/>
<rect x="207.00" y="226.00" width="1.00" height="1.00" fill="#fff"/>
<rect x="211.00" y="213.00" width="1.00" height="4.00" fill="#fff"/>
<rect x="209.00" y="219.00" width="5.00" height="6.00" fill="#fff"/>
<rect x="210.00" y="226.00" width="1.00" height="1.00" fill="#fff"/>
<rect x="213.00" y="226.00" width="1.00" height="1.00" fill="#fff"/>
<rect x="217.00" y="213.00" width="1.00" height="4.00" fill="#fff"/>
<rect x="215.00" y="219.00" width="5.00" height="6.00" fill="#fff"/>
<rect x="216.00" y="226.00" width="1.00" height="1.00" fill="#fff"/>
<rect x="218.00" y="226.00" width="1.00" height="1.00" fill="#fff"/>
<rect x="223.00" y="213.00" width="1.00" height="4.00" fill="#fff"/>
<rect x="221.00" y="219.00" width="4.00" height="6.00" fill="#fff"/>
<rect x="221.00" y="226.00" width="1.00" height="1.00" fill="#fff"/>
<rect x="224.00" y="226.00" width="1.00" height="1.00" fill="#fff"/>
<rect x="229.00" y="213.00" width="1.00" height="4.00" fill="#fff"/>
<rect x="227.00" y="219.00" width="4.00" height="6.00" fill="#fff"/>
<rect x="227.00" y="226.00" width="1.00" height="1.00" fill="#fff"/>
<rect x="230.00" y="226.00" width="1.00" height="1.00" fill="#fff"/>
<rect x="235.00" y="213.00" width="1.00" height="4.00" fill="#fff"/>
<rect x="233.00" y="219.00" width="4.00" height="6.00" fill="#fff"/>
<rect x="233.00" y="226.00" width="1.00" height="1.00" fill="#fff"/>
<rect x="236.00" y="226.00" width="1.00" height="1.00" fill="#fff"/>
<rect x="241.00" y="213.00" width="1.00" height="4.00" fill="#fff"/>
<rect x="239.00" y="219.00" width="4.00" height="6.00" fill="#fff"/>
<rect x="239.00" y="226.00" width="1.00" height="1.00" fill="#fff"/>
<rect x="242.00" y="226.00" width="1.00" height="1.00" fill="#fff"/>
<rect x="246.00" y="213.00" width="1.00" height="4.00" fill="#fff"/>
<rect x="245.00" y="219.00" width="4.00" height="6.00" fill="#fff"/>
<rect x="245.00" y="226.00" width="1.00" height="1.00" fill="#fff"/>
<rect x="248.00" y="226.00" width="1.00" height="1.00" fill="#fff"/>
<rect x="252.00" y="213.00" width="1.00" height="4.00" fill="#fff"/>
<rect x="251.00" y="219.00" width="4.00" height="6.00" fill="#fff"/>
<rect x="251.00" y="226.00" width="1.00" height="1.00" fill="#fff"/>
<rect x="254.00" y="226.00" width="1.00" height="1.00" fill="#fff"/>
<rect x="258.00" y="213.00" width="1.00" height="4.00" fill="#fff"/>
<rect x="257.00" y="219.00" width="4.00" height="6.00" fill="#fff"/>
<rect x="257.00" y="226.00" width="1.00" height="1.00" fill="#fff"/>
<rect x="260.00" y="226.00" width="1.00" height="1.00" fill="#fff"/>
<rect x="264.00" y="213.00" width="1.00" height="4.00" fill="#fff"/>
<rect x="263.00" y="219.00" width="4.00" height="6.00" fill="#fff"/>
<rect x="263.00" y="226.00" width="1.00" height="1.00" fill="#fff"/>
<rect x="266.00" y="226.00" width="1.00" height="1.00" fill="#fff"/>
<rect x="270.00" y="213.00" width="1.00" height="4.00" fill="#fff"/>
<rect x="268.00" y="219.00" width="5.00" height="6.00" fill="#fff"/>
<rect x="269.00" y="226.00" width="1.00" height="1.00" fill="#fff"/>
<rect x="272.00" y="226.00" width="1.00" height="1.00" fill="#fff"/>
<rect x="276.00" y="213.00" width="1.00" height="4.00" fill="#fff"/>
<rect x="274.00" y="219.00" width="5.00" height="6.00" fill="#fff"/>
<rect x="275.00" y="226.00" width="1.00" height="1.00" fill="#fff"/>
<rect x="277.00" y="226.00" width="1.00" height="1.00" fill="#fff"/>
<rect x="282.00" y="213.00" width="1.00" height="4.00" fill="#fff"/>
<rect x="280.00" y="219.00" width="4.00" height="6.00" fill="#fff"/>
<rect x="280.00" y="226.00" width="1.00" height="1.00" fill="#fff"/>
<rect x="283.00" y="226.00" width="1.00" height="1.00" fill="#fff"/>
<rect x="288.00" y="213.00" width="1.00" height="4.00" fill="#fff"/>
<rect x="286.00" y="219.00" width="4.00" height="6.00" fill="#fff"/>
<rect x="286.00" y="226.00" width="1.00" height="1.00" fill="#fff"/>
<rect x="289.00" y="226.00" width="1.00" height="1.00" fill="#fff"/>
<rect x="294.00" y="213.00" width="1.00" height="4.00" fill="#fff"/>
<rect x="292.00" y="219.00" width="4.00" height="6.00" fill="#fff"/>
<rect x="292.00" y="226.00" width="1.00" height="1.00" fill="#fff"/>
<rect x="295.00" y="226.00" width="1.00" height="1.00" fill="#fff"/>
<rect x="110.00" y="228.00" width="215.00" height="1.00" fill="#000"/>
<rect x="99.00" y="145.00" width="226.00" height="1.00" fill="#000"/>
<rect x="99.00" y="145.00" width="1.00" height="84.00" fill="#000"/>
<rect x="324.00" y="145.00" width="1.00" height="84.00" fill="#000"/>
<rect x="99.00" y="228.00" width="226.00" height="1.00" fill="#000"/>
<path d="M183.00,80.50 L241.00,80.50 L242.50,82.00 L242.50,96.00 L241.00,97.50 L183.00,97.50 L181.50,96.00 L181.50,82.00 Z" fill="#000" stroke="none" stroke-width="1"/>
<rect x="184.00" y="82.00" width="56.00" height="14.00" fill="#fff"/>
<path d="M186.50,83.50 L190.50,83.50 L191.50,84.50 L191.50,86.50 L190.50,87.50 L186.50,87.50 M190.50,87.50 L191.50,88.50 L191.50,90.50 L190.50,91.50 L186.50,91.50 L186.50,83.50" fill="none" stroke="#000" stroke-width="1.0" stroke-linejoin="miter" stroke-linecap="square"/>
<path d="M194.50,91.50 L197.50,83.50 L200.50,91.50 M195.50,88.50 L199.50,88.50" fill="none" stroke="#000" stroke-width="1.0" stroke-linejoin="miter" stroke-linecap="square"/>
<path d="M204.50,91.50 L204.50,83.50 L209.50,91.50 L209.50,83.50" fill="none" stroke="#000" stroke-width="1.0" stroke-linejoin="miter" stroke-linecap="square"/>
<path d="M213.50,83.50 L213.50,91.50 M219.50,83.50 L213.50,88.50 M215.50,87.50 L219.50,91.50" fill="none" stroke="#000" stroke-width="1.0" stroke-linejoin="miter" stroke-linecap="square"/>
<path d="M230.50,83.50 L232.50,85.50 L232.50,89.50 L230.50,91.50 L227.50,89.50 L227.50,85.50 Z" fill="none" stroke="#000" stroke-width="1.0" stroke-linejoin="miter" stroke-linecap="square"/>
<path d="M183.00,180.00 L241.00,180.00 L242.50,181.50 L242.50,197.00 L241.00,198.50 L183.00,198.50 L181.50,197.00 L181.50,181.50 Z" fill="#000" stroke="none" stroke-width="1"/>
<rect x="184.00" y="182.00" width="55.00" height="14.00" fill="#fff"/>
<path d="M187.50,183.50 L190.50,183.50 L191.50,184.50 L191.50,186.50 L190.50,188.50 L187.50,188.50 M190.50,188.50 L191.50,189.50 L191.50,191.50 L190.50,192.50 L187.50,192.50 L187.50,183.50" fill="none" stroke="#000" stroke-width="1.0" stroke-linejoin="miter" stroke-linecap="square"/>
<path d="M195.50,192.50 L198.50,183.50 L201.50,192.50 M196.50,189.50 L200.50,189.50" fill="none" stroke="#000" stroke-width="1.0" stroke-linejoin="miter" stroke-linecap="square"/>
<path d="M204.50,192.50 L204.50,183.50 L210.50,192.50 L210.50,183.50" fill="none" stroke="#000" stroke-width="1.0" stroke-linejoin="miter" stroke-linecap="square"/>
<path d="M214.50,183.50 L214.50,192.50 M219.50,183.50 L214.50,189.50 M216.50,187.50 L219.50,192.50" fill="none" stroke="#000" stroke-width="1.0" stroke-linejoin="miter" stroke-linecap="square"/>
<path d="M228.50,185.50 L231.50,183.50 L231.50,192.50" fill="none" stroke="#000" stroke-width="1.0" stroke-linejoin="miter" stroke-linecap="square"/>
<path d="M329.00,13.00 L351.00,13.00 L353.00,15.00 L353.00,30.00 L351.00,32.00 L329.00,32.00 L327.00,30.00 L327.00,15.00 Z" fill="#000" stroke="none" stroke-width="1"/>
<path d="M313.00,20.70 L317.50,20.70 L328.00,15.80 L328.00,28.00 L317.50,23.80 L313.00,23.80 Z" fill="#000" stroke="none" stroke-width="1"/>
<path d="M330.00,15.00 L349.50,15.00 L350.50,16.00 L350.50,28.50 L349.50,29.50 L330.00,29.50 L329.00,28.50 L329.00,16.00 Z" fill="#fff" stroke="none" stroke-width="1"/>
<path d="M322.00,22.00 L330.00,19.50 L330.00,24.00 Z" fill="#fff" stroke="none" stroke-width="1"/>
<path d="M338.50,18.50 Q338.00,16.50 336.50,16.50 Q333.50,16.50 333.50,18.50 Q333.50,21.00 336.50,21.50 Q338.50,21.00 338.50,23.50 Q338.50,25.50 336.50,25.50 Q334.00,25.50 333.50,23.50" fill="none" stroke="#000" stroke-width="1.0" stroke-linejoin="miter" stroke-linecap="square"/>
<path d="M344.50,18.50 L346.50,16.50 L346.50,25.50" fill="none" stroke="#000" stroke-width="1.0" stroke-linejoin="miter" stroke-linecap="square"/>
<path d="M22.00,181.00 L44.00,181.00 L46.00,183.00 L46.00,197.50 L44.00,199.50 L22.00,199.50 L20.00,197.50 L20.00,183.00 Z" fill="#000" stroke="none" stroke-width="1"/>
<path d="M30.00,198.00 L35.00,198.00 L33.20,216.00 L30.70,216.00 Z" fill="#000" stroke="none" stroke-width="1"/>
<path d="M23.00,183.00 L42.50,183.00 L43.50,184.00 L43.50,196.00 L42.50,197.00 L23.00,197.00 L22.00,196.00 L22.00,184.00 Z" fill="#fff" stroke="none" stroke-width="1"/>
<path d="M31.30,196.00 L33.50,196.00 L32.00,204.00 Z" fill="#fff" stroke="none" stroke-width="1"/>
<path d="M29.50,185.50 L29.50,192.50 Q29.50,194.50 28.50,194.50 L27.50,194.50 Q26.50,194.50 26.50,192.50 L26.50,191.50" fill="none" stroke="#000" stroke-width="1.0" stroke-linejoin="miter" stroke-linecap="square"/>
<path d="M34.50,187.50 L37.50,185.50 L37.50,194.50" fill="none" stroke="#000" stroke-width="1.0" stroke-linejoin="miter" stroke-linecap="square"/>
<path d="M51.40,210.00 L72.00,210.00 L74.00,212.00 L74.00,226.50 L72.00,228.50 L51.40,228.50 L49.40,226.50 L49.40,212.00 Z" fill="#000" stroke="none" stroke-width="1"/>
<path d="M41.00,235.50 L51.00,225.00 L52.00,228.50 L42.50,238.00 Z" fill="#000" stroke="none" stroke-width="1"/>
<path d="M52.40,212.00 L70.50,212.00 L71.50,213.00 L71.50,225.00 L70.50,226.00 L52.40,226.00 L51.40,225.00 L51.40,213.00 Z" fill="#fff" stroke="none" stroke-width="1"/>
<path d="M43.50,235.50 L52.00,227.00 L52.00,225.00 Z" fill="#fff" stroke="none" stroke-width="1"/>
<path d="M57.50,214.50 L57.50,220.50 Q57.50,222.50 56.50,222.50 L55.50,222.50 Q54.50,222.50 54.50,220.50 L54.50,220.50" fill="none" stroke="#000" stroke-width="1.0" stroke-linejoin="miter" stroke-linecap="square"/>
<path d="M61.50,216.50 Q61.90,214.50 63.50,214.50 Q65.50,214.50 65.50,216.50 Q65.50,218.50 63.50,220.50 L61.50,222.50 L65.50,222.50" fill="none" stroke="#000" stroke-width="1.0" stroke-linejoin="miter" stroke-linecap="square"/>
<path d="M47.60,239.30 L68.70,239.30 L70.70,241.30 L70.70,254.70 L68.70,256.70 L47.60,256.70 L45.60,254.70 L45.60,241.30 Z" fill="#000" stroke="none" stroke-width="1"/>
<path d="M30.00,246.50 L38.00,246.50 L46.50,243.50 L46.50,252.50 L38.00,249.50 L30.00,249.50 Z" fill="#000" stroke="none" stroke-width="1"/>
<path d="M48.60,241.30 L67.20,241.30 L68.20,242.30 L68.20,253.20 L67.20,254.20 L48.60,254.20 L47.60,253.20 L47.60,242.30 Z" fill="#fff" stroke="none" stroke-width="1"/>
<path d="M41.00,248.00 L48.00,245.50 L48.00,250.50 Z" fill="#fff" stroke="none" stroke-width="1"/>
<path d="M53.50,243.50 L53.50,249.50 Q53.50,251.50 52.50,251.50 L51.50,251.50 Q50.50,251.50 50.50,249.50 L50.50,249.50" fill="none" stroke="#000" stroke-width="1.0" stroke-linejoin="miter" stroke-linecap="square"/>
<path d="M57.50,244.50 Q58.25,243.50 60.50,243.50 Q62.50,243.50 62.50,245.50 Q62.50,247.50 60.50,247.50 Q62.50,247.50 62.50,249.50 Q62.50,251.50 60.50,251.50 Q58.25,251.50 57.50,250.50" fill="none" stroke="#000" stroke-width="1.0" stroke-linejoin="miter" stroke-linecap="square"/>
<path d="M44.00,265.40 L64.60,265.40 L66.60,267.40 L66.60,280.30 L64.60,282.30 L44.00,282.30 L42.00,280.30 L42.00,267.40 Z" fill="#000" stroke="none" stroke-width="1"/>
<path d="M35.00,256.50 L37.00,256.50 L46.50,264.50 L46.50,267.00 L42.00,268.00 L35.00,262.00 Z" fill="#000" stroke="none" stroke-width="1"/>
<path d="M45.00,267.40 L63.10,267.40 L64.10,268.40 L64.10,278.80 L63.10,279.80 L45.00,279.80 L44.00,278.80 L44.00,268.40 Z" fill="#fff" stroke="none" stroke-width="1"/>
<path d="M41.00,264.00 L45.00,266.50 L43.50,267.50 Z" fill="#fff" stroke="none" stroke-width="1"/>
<path d="M50.50,269.50 L50.50,275.50 Q50.50,277.50 49.50,277.50 L48.50,277.50 Q47.50,277.50 47.50,275.50 L47.50,275.50" fill="none" stroke="#000" stroke-width="1.0" stroke-linejoin="miter" stroke-linecap="square"/>
<path d="M59.50,277.50 L59.50,269.50 L55.50,275.50 L60.50,275.50" fill="none" stroke="#000" stroke-width="1.0" stroke-linejoin="miter" stroke-linecap="square"/>
<path d="M11.30,291.90 L33.00,291.90 L35.00,293.90 L35.00,307.20 L33.00,309.20 L11.30,309.20 L9.30,307.20 L9.30,293.90 Z" fill="#000" stroke="none" stroke-width="1"/>
<path d="M22.00,275.00 L24.00,275.00 L26.50,292.50 L18.50,292.50 Z" fill="#000" stroke="none" stroke-width="1"/>
<path d="M12.30,293.90 L31.50,293.90 L32.50,294.90 L32.50,305.70 L31.50,306.70 L12.30,306.70 L11.30,305.70 L11.30,294.90 Z" fill="#fff" stroke="none" stroke-width="1"/>
<path d="M23.00,283.00 L21.00,294.00 L25.00,294.00 Z" fill="#fff" stroke="none" stroke-width="1"/>
<path d="M19.50,295.50 L19.50,301.50 Q19.50,303.50 18.50,303.50 L16.50,303.50 Q15.50,303.50 15.50,301.50 L15.50,301.50" fill="none" stroke="#000" stroke-width="1.0" stroke-linejoin="miter" stroke-linecap="square"/>
<path d="M27.50,295.50 L23.50,295.50 L23.50,299.50 Q24.30,298.54 25.50,298.50 Q27.50,298.54 27.50,301.50 Q27.50,303.50 25.50,303.50 Q24.10,303.50 23.50,302.50" fill="none" stroke="#000" stroke-width="1.0" stroke-linejoin="miter" stroke-linecap="square"/>
<path d="M757.30,312.00 L779.20,312.00 L781.20,314.00 L781.20,328.60 L779.20,330.60 L757.30,330.60 L755.30,328.60 L755.30,314.00 Z" fill="#000" stroke="none" stroke-width="1"/>
<path d="M765.50,329.50 L771.50,329.50 L768.80,347.00 L766.50,347.00 Z" fill="#000" stroke="none" stroke-width="1"/>
<path d="M758.30,314.00 L777.70,314.00 L778.70,315.00 L778.70,327.10 L777.70,328.10 L758.30,328.10 L757.30,327.10 L757.30,315.00 Z" fill="#fff" stroke="none" stroke-width="1"/>
<path d="M767.00,328.00 L769.50,328.00 L768.00,336.00 Z" fill="#fff" stroke="none" stroke-width="1"/>
<path d="M765.50,316.50 L765.50,323.50 Q765.50,325.50 764.50,325.50 L763.50,325.50 Q762.50,325.50 762.50,323.50 L762.50,322.50" fill="none" stroke="#000" stroke-width="1.0" stroke-linejoin="miter" stroke-linecap="square"/>
<path d="M774.50,317.50 Q773.50,316.50 772.50,316.50 Q769.50,316.50 769.50,321.50 L769.50,322.50 Q769.50,325.50 772.50,325.50 Q774.50,325.50 774.50,323.50 Q774.50,321.00 772.50,321.50 Q770.00,321.00 769.50,322.50" fill="none" stroke="#000" stroke-width="1.0" stroke-linejoin="miter" stroke-linecap="square"/>
<path d="M673.40,350.00 L710.80,350.00 L712.80,352.00 L712.80,365.70 L710.80,367.70 L673.40,367.70 L671.40,365.70 L671.40,352.00 Z" fill="#000" stroke="none" stroke-width="1"/>
<path d="M656.00,357.80 L665.00,357.80 L672.50,355.00 L672.50,363.00 L665.00,360.80 L656.00,360.80 Z" fill="#000" stroke="none" stroke-width="1"/>
<path d="M674.40,352.00 L709.30,352.00 L710.30,353.00 L710.30,364.20 L709.30,365.20 L674.40,365.20 L673.40,364.20 L673.40,353.00 Z" fill="#fff" stroke="none" stroke-width="1"/>
<path d="M663.00,359.30 L673.00,356.50 L673.00,361.50 Z" fill="#fff" stroke="none" stroke-width="1"/>
<path d="M682.50,354.50 L682.50,361.50 Q682.50,363.50 681.50,363.50 L679.50,363.50 Q678.50,363.50 678.50,361.50 L678.50,360.50" fill="none" stroke="#000" stroke-width="1.0" stroke-linejoin="miter" stroke-linecap="square"/>
<path d="M686.50,363.50 L686.50,354.50 L690.50,354.50 Q691.50,354.50 691.50,356.50 L691.50,357.50 Q691.50,359.45 690.50,359.50 L686.50,359.50" fill="none" stroke="#000" stroke-width="1.0" stroke-linejoin="miter" stroke-linecap="square"/>
<path d="M695.50,356.50 L698.50,354.50 L698.50,363.50" fill="none" stroke="#000" stroke-width="1.0" stroke-linejoin="miter" stroke-linecap="square"/>
<path d="M701.50,355.50 Q702.25,354.50 704.50,354.50 Q706.50,354.50 706.50,356.50 Q706.50,359.00 704.50,359.50 Q706.50,359.00 706.50,361.50 Q706.50,363.50 704.50,363.50 Q702.25,363.50 701.50,362.50" fill="none" stroke="#000" stroke-width="1.0" stroke-linejoin="miter" stroke-linecap="square"/>
<path d="M716.20,412.00 L753.10,412.00 L755.10,414.00 L755.10,428.90 L753.10,430.90 L716.20,430.90 L714.20,428.90 L714.20,414.00 Z" fill="#000" stroke="none" stroke-width="1"/>
<path d="M763.50,404.50 L763.50,408.70 L755.00,416.00 L751.00,416.00 L751.00,412.00 Z" fill="#000" stroke="none" stroke-width="1"/>
<path d="M717.20,414.00 L751.60,414.00 L752.60,415.00 L752.60,427.40 L751.60,428.40 L717.20,428.40 L716.20,427.40 L716.20,415.00 Z" fill="#fff" stroke="none" stroke-width="1"/>
<path d="M761.50,406.30 L751.50,414.00 L753.50,414.50 Z" fill="#fff" stroke="none" stroke-width="1"/>
<path d="M722.50,416.50 L722.50,423.50 Q722.50,425.50 721.50,425.50 L720.50,425.50 Q719.50,425.50 719.50,423.50 L719.50,422.50" fill="none" stroke="#000" stroke-width="1.0" stroke-linejoin="miter" stroke-linecap="square"/>
<path d="M727.50,425.50 L727.50,416.50 L730.50,416.50 Q731.50,416.50 731.50,418.50 L731.50,419.50 Q731.50,421.45 730.50,421.50 L727.50,421.50" fill="none" stroke="#000" stroke-width="1.0" stroke-linejoin="miter" stroke-linecap="square"/>
<path d="M736.50,418.50 L739.50,416.50 L739.50,425.50" fill="none" stroke="#000" stroke-width="1.0" stroke-linejoin="miter" stroke-linecap="square"/>
<path d="M745.50,425.50 L745.50,416.50 L742.50,422.50 L746.50,422.50" fill="none" stroke="#000" stroke-width="1.0" stroke-linejoin="miter" stroke-linecap="square"/>
<path d="M340,193 L396,193 L396,196 L402,196 L402,253 L399,253 L399,259 L342,259 L342,255 L336,255 L336,199 L339,199 L339,196 L340,196 Z" fill="#000" stroke="none" stroke-width="1"/>
<rect x="345.00" y="193.00" width="1.00" height="3.00" fill="#fff"/>
<rect x="356.00" y="193.00" width="1.00" height="3.00" fill="#fff"/>
<rect x="359.00" y="193.00" width="1.00" height="3.00" fill="#fff"/>
<rect x="362.00" y="193.00" width="1.00" height="3.00" fill="#fff"/>
<rect x="373.00" y="193.00" width="1.00" height="3.00" fill="#fff"/>
<rect x="376.00" y="193.00" width="1.00" height="3.00" fill="#fff"/>
<rect x="379.00" y="193.00" width="1.00" height="3.00" fill="#fff"/>
<rect x="390.00" y="193.00" width="1.00" height="3.00" fill="#fff"/>
<rect x="393.00" y="193.00" width="1.00" height="3.00" fill="#fff"/>
<rect x="343.00" y="256.00" width="1.00" height="3.00" fill="#fff"/>
<rect x="345.00" y="256.00" width="1.00" height="3.00" fill="#fff"/>
<rect x="348.00" y="256.00" width="1.00" height="3.00" fill="#fff"/>
<rect x="350.00" y="256.00" width="1.00" height="3.00" fill="#fff"/>
<rect x="361.00" y="256.00" width="1.00" height="3.00" fill="#fff"/>
<rect x="364.00" y="256.00" width="1.00" height="3.00" fill="#fff"/>
<rect x="367.00" y="256.00" width="1.00" height="3.00" fill="#fff"/>
<rect x="378.00" y="256.00" width="1.00" height="3.00" fill="#fff"/>
<rect x="381.00" y="256.00" width="1.00" height="3.00" fill="#fff"/>
<rect x="384.00" y="256.00" width="1.00" height="3.00" fill="#fff"/>
<rect x="395.00" y="256.00" width="1.00" height="3.00" fill="#fff"/>
<rect x="336.00" y="201.00" width="3.00" height="1.00" fill="#fff"/>
<rect x="336.00" y="204.00" width="3.00" height="1.00" fill="#fff"/>
<rect x="336.00" y="215.00" width="3.00" height="1.00" fill="#fff"/>
<rect x="336.00" y="218.00" width="3.00" height="1.00" fill="#fff"/>
<rect x="336.00" y="221.00" width="3.00" height="1.00" fill="#fff"/>
<rect x="336.00" y="232.00" width="3.00" height="1.00" fill="#fff"/>
<rect x="336.00" y="235.00" width="3.00" height="1.00" fill="#fff"/>
<rect x="336.00" y="238.00" width="3.00" height="1.00" fill="#fff"/>
<rect x="336.00" y="252.00" width="3.00" height="1.00" fill="#fff"/>
<rect x="399.00" y="201.00" width="3.00" height="1.00" fill="#fff"/>
<rect x="399.00" y="204.00" width="3.00" height="1.00" fill="#fff"/>
<rect x="399.00" y="207.00" width="3.00" height="1.00" fill="#fff"/>
<rect x="399.00" y="210.00" width="3.00" height="1.00" fill="#fff"/>
<rect x="399.00" y="221.00" width="3.00" height="1.00" fill="#fff"/>
<rect x="399.00" y="224.00" width="3.00" height="1.00" fill="#fff"/>
<rect x="399.00" y="227.00" width="3.00" height="1.00" fill="#fff"/>
<rect x="399.00" y="238.00" width="3.00" height="1.00" fill="#fff"/>
<rect x="399.00" y="241.00" width="3.00" height="1.00" fill="#fff"/>
<rect x="399.00" y="244.00" width="3.00" height="1.00" fill="#fff"/>
<rect x="399.00" y="247.00" width="3.00" height="1.00" fill="#fff"/>
<path d="M336,351 L392,351 L392,354 L398,354 L398,410 L395,410 L395,416 L338,416 L338,412 L332,412 L332,357 L335,357 L335,354 L336,354 Z" fill="#000" stroke="none" stroke-width="1"/>
<rect x="343.00" y="351.00" width="1.00" height="3.00" fill="#fff"/>
<rect x="346.00" y="351.00" width="1.00" height="3.00" fill="#fff"/>
<rect x="349.00" y="351.00" width="1.00" height="3.00" fill="#fff"/>
<rect x="352.00" y="351.00" width="1.00" height="3.00" fill="#fff"/>
<rect x="364.00" y="351.00" width="1.00" height="3.00" fill="#fff"/>
<rect x="366.00" y="351.00" width="1.00" height="3.00" fill="#fff"/>
<rect x="380.00" y="351.00" width="1.00" height="3.00" fill="#fff"/>
<rect x="383.00" y="351.00" width="1.00" height="3.00" fill="#fff"/>
<rect x="386.00" y="351.00" width="1.00" height="3.00" fill="#fff"/>
<rect x="339.00" y="413.00" width="1.00" height="3.00" fill="#fff"/>
<rect x="351.00" y="413.00" width="1.00" height="3.00" fill="#fff"/>
<rect x="354.00" y="413.00" width="1.00" height="3.00" fill="#fff"/>
<rect x="357.00" y="413.00" width="1.00" height="3.00" fill="#fff"/>
<rect x="368.00" y="413.00" width="1.00" height="3.00" fill="#fff"/>
<rect x="370.00" y="413.00" width="1.00" height="3.00" fill="#fff"/>
<rect x="385.00" y="413.00" width="1.00" height="3.00" fill="#fff"/>
<rect x="388.00" y="413.00" width="1.00" height="3.00" fill="#fff"/>
<rect x="391.00" y="413.00" width="1.00" height="3.00" fill="#fff"/>
<rect x="332.00" y="364.00" width="3.00" height="1.00" fill="#fff"/>
<rect x="332.00" y="367.00" width="3.00" height="1.00" fill="#fff"/>
<rect x="332.00" y="370.00" width="3.00" height="1.00" fill="#fff"/>
<rect x="332.00" y="384.00" width="3.00" height="1.00" fill="#fff"/>
<rect x="332.00" y="387.00" width="3.00" height="1.00" fill="#fff"/>
<rect x="332.00" y="390.00" width="3.00" height="1.00" fill="#fff"/>
<rect x="332.00" y="401.00" width="3.00" height="1.00" fill="#fff"/>
<rect x="332.00" y="404.00" width="3.00" height="1.00" fill="#fff"/>
<rect x="332.00" y="407.00" width="3.00" height="1.00" fill="#fff"/>
<rect x="332.00" y="410.00" width="3.00" height="1.00" fill="#fff"/>
<rect x="395.00" y="356.00" width="3.00" height="1.00" fill="#fff"/>
<rect x="395.00" y="359.00" width="3.00" height="1.00" fill="#fff"/>
<rect x="395.00" y="362.00" width="3.00" height="1.00" fill="#fff"/>
<rect x="395.00" y="373.00" width="3.00" height="1.00" fill="#fff"/>
<rect x="395.00" y="376.00" width="3.00" height="1.00" fill="#fff"/>
<rect x="395.00" y="379.00" width="3.00" height="1.00" fill="#fff"/>
<rect x="395.00" y="390.00" width="3.00" height="1.00" fill="#fff"/>
<rect x="395.00" y="393.00" width="3.00" height="1.00" fill="#fff"/>
<rect x="395.00" y="396.00" width="3.00" height="1.00" fill="#fff"/>
<rect x="395.00" y="407.00" width="3.00" height="1.00" fill="#fff"/>
<path d="M560,377 L616,377 L616,380 L622,380 L622,437 L619,437 L619,443 L562,443 L562,439 L556,439 L556,383 L559,383 L559,380 L560,380 Z" fill="#000" stroke="none" stroke-width="1"/>
<rect x="561.00" y="377.00" width="1.00" height="3.00" fill="#fff"/>
<rect x="573.00" y="377.00" width="1.00" height="3.00" fill="#fff"/>
<rect x="576.00" y="377.00" width="1.00" height="3.00" fill="#fff"/>
<rect x="579.00" y="377.00" width="1.00" height="3.00" fill="#fff"/>
<rect x="590.00" y="377.00" width="1.00" height="3.00" fill="#fff"/>
<rect x="593.00" y="377.00" width="1.00" height="3.00" fill="#fff"/>
<rect x="596.00" y="377.00" width="1.00" height="3.00" fill="#fff"/>
<rect x="607.00" y="377.00" width="1.00" height="3.00" fill="#fff"/>
<rect x="610.00" y="377.00" width="1.00" height="3.00" fill="#fff"/>
<rect x="613.00" y="377.00" width="1.00" height="3.00" fill="#fff"/>
<rect x="563.00" y="440.00" width="1.00" height="3.00" fill="#fff"/>
<rect x="565.00" y="440.00" width="1.00" height="3.00" fill="#fff"/>
<rect x="567.00" y="440.00" width="1.00" height="3.00" fill="#fff"/>
<rect x="578.00" y="440.00" width="1.00" height="3.00" fill="#fff"/>
<rect x="581.00" y="440.00" width="1.00" height="3.00" fill="#fff"/>
<rect x="584.00" y="440.00" width="1.00" height="3.00" fill="#fff"/>
<rect x="595.00" y="440.00" width="1.00" height="3.00" fill="#fff"/>
<rect x="598.00" y="440.00" width="1.00" height="3.00" fill="#fff"/>
<rect x="601.00" y="440.00" width="1.00" height="3.00" fill="#fff"/>
<rect x="612.00" y="440.00" width="1.00" height="3.00" fill="#fff"/>
<rect x="615.00" y="440.00" width="1.00" height="3.00" fill="#fff"/>
<rect x="556.00" y="385.00" width="3.00" height="1.00" fill="#fff"/>
<rect x="556.00" y="388.00" width="3.00" height="1.00" fill="#fff"/>
<rect x="556.00" y="391.00" width="3.00" height="1.00" fill="#fff"/>
<rect x="556.00" y="402.00" width="3.00" height="1.00" fill="#fff"/>
<rect x="556.00" y="405.00" width="3.00" height="1.00" fill="#fff"/>
<rect x="556.00" y="408.00" width="3.00" height="1.00" fill="#fff"/>
<rect x="556.00" y="419.00" width="3.00" height="1.00" fill="#fff"/>
<rect x="556.00" y="422.00" width="3.00" height="1.00" fill="#fff"/>
<rect x="556.00" y="425.00" width="3.00" height="1.00" fill="#fff"/>
<rect x="619.00" y="388.00" width="3.00" height="1.00" fill="#fff"/>
<rect x="619.00" y="391.00" width="3.00" height="1.00" fill="#fff"/>
<rect x="619.00" y="394.00" width="3.00" height="1.00" fill="#fff"/>
<rect x="619.00" y="396.00" width="3.00" height="1.00" fill="#fff"/>
<rect x="619.00" y="408.00" width="3.00" height="1.00" fill="#fff"/>
<rect x="619.00" y="411.00" width="3.00" height="1.00" fill="#fff"/>
<rect x="619.00" y="414.00" width="3.00" height="1.00" fill="#fff"/>
<rect x="619.00" y="416.00" width="3.00" height="1.00" fill="#fff"/>
<rect x="619.00" y="428.00" width="3.00" height="1.00" fill="#fff"/>
<rect x="619.00" y="431.00" width="3.00" height="1.00" fill="#fff"/>
<rect x="619.00" y="433.00" width="3.00" height="1.00" fill="#fff"/>
<rect x="619.00" y="436.00" width="3.00" height="1.00" fill="#fff"/>
<rect x="223.00" y="286.00" width="74.00" height="75.00" fill="#000"/>
<rect x="246.00" y="316.00" width="28.00" height="14.00" fill="#fff"/>
<path d="M252.50,319.50 Q252.50,317.50 251.50,317.50 L249.50,317.50 Q247.50,317.50 247.50,320.50 L247.50,323.50 Q247.50,326.50 249.50,326.50 L251.50,326.50 Q252.50,326.50 252.50,324.50" fill="none" stroke="#000" stroke-width="1.0" stroke-linejoin="miter" stroke-linecap="square"/>
<path d="M258.50,326.50 L258.50,317.50 L262.50,317.50 Q263.50,317.50 263.50,319.50 L263.50,320.50 Q263.50,322.45 262.50,322.50 L258.50,322.50" fill="none" stroke="#000" stroke-width="1.0" stroke-linejoin="miter" stroke-linecap="square"/>
<path d="M266.50,317.50 L266.50,323.50 Q266.50,326.50 268.50,326.50 L270.50,326.50 Q271.50,326.50 271.50,323.50 L271.50,317.50" fill="none" stroke="#000" stroke-width="1.0" stroke-linejoin="miter" stroke-linecap="square"/>
<path d="M224,392 L300,392 L303,395 L303,473 L224,473 Z" fill="#000" stroke="none" stroke-width="1"/>
<rect x="226.00" y="396.00" width="3.00" height="3.00" fill="#fff"/>
<rect x="227.00" y="395.00" width="1.00" height="1.00" fill="#fff"/>
<rect x="229.00" y="397.00" width="1.00" height="1.00" fill="#fff"/>
<rect x="232.00" y="396.00" width="3.00" height="3.00" fill="#fff"/>
<rect x="233.00" y="395.00" width="1.00" height="1.00" fill="#fff"/>
<rect x="235.00" y="397.00" width="1.00" height="1.00" fill="#fff"/>
<rect x="238.00" y="396.00" width="3.00" height="3.00" fill="#fff"/>
<rect x="239.00" y="395.00" width="1.00" height="1.00" fill="#fff"/>
<rect x="241.00" y="397.00" width="1.00" height="1.00" fill="#fff"/>
<rect x="244.00" y="396.00" width="3.00" height="3.00" fill="#fff"/>
<rect x="245.00" y="395.00" width="1.00" height="1.00" fill="#fff"/>
<rect x="247.00" y="397.00" width="1.00" height="1.00" fill="#fff"/>
<rect x="249.00" y="396.00" width="3.00" height="3.00" fill="#fff"/>
<rect x="250.00" y="395.00" width="1.00" height="1.00" fill="#fff"/>
<rect x="252.00" y="397.00" width="1.00" height="1.00" fill="#fff"/>
<rect x="255.00" y="396.00" width="3.00" height="3.00" fill="#fff"/>
<rect x="256.00" y="395.00" width="1.00" height="1.00" fill="#fff"/>
<rect x="258.00" y="397.00" width="1.00" height="1.00" fill="#fff"/>
<rect x="261.00" y="396.00" width="3.00" height="3.00" fill="#fff"/>
<rect x="262.00" y="395.00" width="1.00" height="1.00" fill="#fff"/>
<rect x="264.00" y="397.00" width="1.00" height="1.00" fill="#fff"/>
<rect x="267.00" y="396.00" width="3.00" height="3.00" fill="#fff"/>
<rect x="268.00" y="395.00" width="1.00" height="1.00" fill="#fff"/>
<rect x="270.00" y="397.00" width="1.00" height="1.00" fill="#fff"/>
<rect x="273.00" y="396.00" width="3.00" height="3.00" fill="#fff"/>
<rect x="274.00" y="395.00" width="1.00" height="1.00" fill="#fff"/>
<rect x="276.00" y="397.00" width="1.00" height="1.00" fill="#fff"/>
<rect x="279.00" y="396.00" width="3.00" height="3.00" fill="#fff"/>
<rect x="280.00" y="395.00" width="1.00" height="1.00" fill="#fff"/>
<rect x="282.00" y="397.00" width="1.00" height="1.00" fill="#fff"/>
<rect x="285.00" y="396.00" width="3.00" height="3.00" fill="#fff"/>
<rect x="286.00" y="395.00" width="1.00" height="1.00" fill="#fff"/>
<rect x="288.00" y="397.00" width="1.00" height="1.00" fill="#fff"/>
<rect x="291.00" y="396.00" width="3.00" height="3.00" fill="#fff"/>
<rect x="292.00" y="395.00" width="1.00" height="1.00" fill="#fff"/>
<rect x="294.00" y="397.00" width="1.00" height="1.00" fill="#fff"/>
<rect x="296.00" y="396.00" width="3.00" height="3.00" fill="#fff"/>
<rect x="297.00" y="395.00" width="1.00" height="1.00" fill="#fff"/>
<rect x="299.00" y="397.00" width="1.00" height="1.00" fill="#fff"/>
<rect x="226.00" y="402.00" width="3.00" height="3.00" fill="#fff"/>
<rect x="227.00" y="401.00" width="1.00" height="1.00" fill="#fff"/>
<rect x="229.00" y="403.00" width="1.00" height="1.00" fill="#fff"/>
<rect x="232.00" y="402.00" width="3.00" height="3.00" fill="#fff"/>
<rect x="233.00" y="401.00" width="1.00" height="1.00" fill="#fff"/>
<rect x="235.00" y="403.00" width="1.00" height="1.00" fill="#fff"/>
<rect x="238.00" y="402.00" width="3.00" height="3.00" fill="#fff"/>
<rect x="239.00" y="401.00" width="1.00" height="1.00" fill="#fff"/>
<rect x="241.00" y="403.00" width="1.00" height="1.00" fill="#fff"/>
<rect x="244.00" y="402.00" width="3.00" height="3.00" fill="#fff"/>
<rect x="245.00" y="401.00" width="1.00" height="1.00" fill="#fff"/>
<rect x="247.00" y="403.00" width="1.00" height="1.00" fill="#fff"/>
<rect x="249.00" y="402.00" width="3.00" height="3.00" fill="#fff"/>
<rect x="250.00" y="401.00" width="1.00" height="1.00" fill="#fff"/>
<rect x="252.00" y="403.00" width="1.00" height="1.00" fill="#fff"/>
<rect x="255.00" y="402.00" width="3.00" height="3.00" fill="#fff"/>
<rect x="256.00" y="401.00" width="1.00" height="1.00" fill="#fff"/>
<rect x="258.00" y="403.00" width="1.00" height="1.00" fill="#fff"/>
<rect x="261.00" y="402.00" width="3.00" height="3.00" fill="#fff"/>
<rect x="262.00" y="401.00" width="1.00" height="1.00" fill="#fff"/>
<rect x="264.00" y="403.00" width="1.00" height="1.00" fill="#fff"/>
<rect x="267.00" y="402.00" width="3.00" height="3.00" fill="#fff"/>
<rect x="268.00" y="401.00" width="1.00" height="1.00" fill="#fff"/>
<rect x="270.00" y="403.00" width="1.00" height="1.00" fill="#fff"/>
<rect x="273.00" y="402.00" width="3.00" height="3.00" fill="#fff"/>
<rect x="274.00" y="401.00" width="1.00" height="1.00" fill="#fff"/>
<rect x="276.00" y="403.00" width="1.00" height="1.00" fill="#fff"/>
<rect x="279.00" y="402.00" width="3.00" height="3.00" fill="#fff"/>
<rect x="280.00" y="401.00" width="1.00" height="1.00" fill="#fff"/>
<rect x="282.00" y="403.00" width="1.00" height="1.00" fill="#fff"/>
<rect x="285.00" y="402.00" width="3.00" height="3.00" fill="#fff"/>
<rect x="286.00" y="401.00" width="1.00" height="1.00" fill="#fff"/>
<rect x="288.00" y="403.00" width="1.00" height="1.00" fill="#fff"/>
<rect x="291.00" y="402.00" width="3.00" height="3.00" fill="#fff"/>
<rect x="292.00" y="401.00" width="1.00" height="1.00" fill="#fff"/>
<rect x="294.00" y="403.00" width="1.00" height="1.00" fill="#fff"/>
<rect x="296.00" y="402.00" width="3.00" height="3.00" fill="#fff"/>
<rect x="297.00" y="401.00" width="1.00" height="1.00" fill="#fff"/>
<rect x="299.00" y="403.00" width="1.00" height="1.00" fill="#fff"/>
<rect x="226.00" y="408.00" width="3.00" height="3.00" fill="#fff"/>
<rect x="227.00" y="407.00" width="1.00" height="1.00" fill="#fff"/>
<rect x="229.00" y="409.00" width="1.00" height="1.00" fill="#fff"/>
<rect x="232.00" y="408.00" width="3.00" height="3.00" fill="#fff"/>
<rect x="233.00" y="407.00" width="1.00" height="1.00" fill="#fff"/>
<rect x="235.00" y="409.00" width="1.00" height="1.00" fill="#fff"/>
<rect x="238.00" y="408.00" width="3.00" height="3.00" fill="#fff"/>
<rect x="239.00" y="407.00" width="1.00" height="1.00" fill="#fff"/>
<rect x="241.00" y="409.00" width="1.00" height="1.00" fill="#fff"/>
<rect x="244.00" y="408.00" width="3.00" height="3.00" fill="#fff"/>
<rect x="245.00" y="407.00" width="1.00" height="1.00" fill="#fff"/>
<rect x="247.00" y="409.00" width="1.00" height="1.00" fill="#fff"/>
<rect x="249.00" y="408.00" width="3.00" height="3.00" fill="#fff"/>
<rect x="250.00" y="407.00" width="1.00" height="1.00" fill="#fff"/>
<rect x="252.00" y="409.00" width="1.00" height="1.00" fill="#fff"/>
<rect x="255.00" y="408.00" width="3.00" height="3.00" fill="#fff"/>
<rect x="256.00" y="407.00" width="1.00" height="1.00" fill="#fff"/>
<rect x="258.00" y="409.00" width="1.00" height="1.00" fill="#fff"/>
<rect x="261.00" y="408.00" width="3.00" height="3.00" fill="#fff"/>
<rect x="262.00" y="407.00" width="1.00" height="1.00" fill="#fff"/>
<rect x="264.00" y="409.00" width="1.00" height="1.00" fill="#fff"/>
<rect x="267.00" y="408.00" width="3.00" height="3.00" fill="#fff"/>
<rect x="268.00" y="407.00" width="1.00" height="1.00" fill="#fff"/>
<rect x="270.00" y="409.00" width="1.00" height="1.00" fill="#fff"/>
<rect x="273.00" y="408.00" width="3.00" height="3.00" fill="#fff"/>
<rect x="274.00" y="407.00" width="1.00" height="1.00" fill="#fff"/>
<rect x="276.00" y="409.00" width="1.00" height="1.00" fill="#fff"/>
<rect x="279.00" y="408.00" width="3.00" height="3.00" fill="#fff"/>
<rect x="280.00" y="407.00" width="1.00" height="1.00" fill="#fff"/>
<rect x="282.00" y="409.00" width="1.00" height="1.00" fill="#fff"/>
<rect x="285.00" y="408.00" width="3.00" height="3.00" fill="#fff"/>
<rect x="286.00" y="407.00" width="1.00" height="1.00" fill="#fff"/>
<rect x="288.00" y="409.00" width="1.00" height="1.00" fill="#fff"/>
<rect x="291.00" y="408.00" width="3.00" height="3.00" fill="#fff"/>
<rect x="292.00" y="407.00" width="1.00" height="1.00" fill="#fff"/>
<rect x="294.00" y="409.00" width="1.00" height="1.00" fill="#fff"/>
<rect x="296.00" y="408.00" width="3.00" height="3.00" fill="#fff"/>
<rect x="297.00" y="407.00" width="1.00" height="1.00" fill="#fff"/>
<rect x="299.00" y="409.00" width="1.00" height="1.00" fill="#fff"/>
<rect x="226.00" y="414.00" width="3.00" height="3.00" fill="#fff"/>
<rect x="227.00" y="413.00" width="1.00" height="1.00" fill="#fff"/>
<rect x="229.00" y="415.00" width="1.00" height="1.00" fill="#fff"/>
<rect x="232.00" y="414.00" width="3.00" height="3.00" fill="#fff"/>
<rect x="233.00" y="413.00" width="1.00" height="1.00" fill="#fff"/>
<rect x="235.00" y="415.00" width="1.00" height="1.00" fill="#fff"/>
<rect x="238.00" y="414.00" width="3.00" height="3.00" fill="#fff"/>
<rect x="239.00" y="413.00" width="1.00" height="1.00" fill="#fff"/>
<rect x="241.00" y="415.00" width="1.00" height="1.00" fill="#fff"/>
<rect x="285.00" y="414.00" width="3.00" height="3.00" fill="#fff"/>
<rect x="286.00" y="413.00" width="1.00" height="1.00" fill="#fff"/>
<rect x="288.00" y="415.00" width="1.00" height="1.00" fill="#fff"/>
<rect x="291.00" y="414.00" width="3.00" height="3.00" fill="#fff"/>
<rect x="292.00" y="413.00" width="1.00" height="1.00" fill="#fff"/>
<rect x="294.00" y="415.00" width="1.00" height="1.00" fill="#fff"/>
<rect x="296.00" y="414.00" width="3.00" height="3.00" fill="#fff"/>
<rect x="297.00" y="413.00" width="1.00" height="1.00" fill="#fff"/>
<rect x="299.00" y="415.00" width="1.00" height="1.00" fill="#fff"/>
<rect x="226.00" y="419.00" width="3.00" height="3.00" fill="#fff"/>
<rect x="227.00" y="418.00" width="1.00" height="1.00" fill="#fff"/>
<rect x="229.00" y="420.00" width="1.00" height="1.00" fill="#fff"/>
<rect x="232.00" y="419.00" width="3.00" height="3.00" fill="#fff"/>
<rect x="233.00" y="418.00" width="1.00" height="1.00" fill="#fff"/>
<rect x="235.00" y="420.00" width="1.00" height="1.00" fill="#fff"/>
<rect x="238.00" y="419.00" width="3.00" height="3.00" fill="#fff"/>
<rect x="239.00" y="418.00" width="1.00" height="1.00" fill="#fff"/>
<rect x="241.00" y="420.00" width="1.00" height="1.00" fill="#fff"/>
<rect x="285.00" y="419.00" width="3.00" height="3.00" fill="#fff"/>
<rect x="286.00" y="418.00" width="1.00" height="1.00" fill="#fff"/>
<rect x="288.00" y="420.00" width="1.00" height="1.00" fill="#fff"/>
<rect x="291.00" y="419.00" width="3.00" height="3.00" fill="#fff"/>
<rect x="292.00" y="418.00" width="1.00" height="1.00" fill="#fff"/>
<rect x="294.00" y="420.00" width="1.00" height="1.00" fill="#fff"/>
<rect x="296.00" y="419.00" width="3.00" height="3.00" fill="#fff"/>
<rect x="297.00" y="418.00" width="1.00" height="1.00" fill="#fff"/>
<rect x="299.00" y="420.00" width="1.00" height="1.00" fill="#fff"/>
<rect x="226.00" y="425.00" width="3.00" height="3.00" fill="#fff"/>
<rect x="227.00" y="424.00" width="1.00" height="1.00" fill="#fff"/>
<rect x="229.00" y="426.00" width="1.00" height="1.00" fill="#fff"/>
<rect x="232.00" y="425.00" width="3.00" height="3.00" fill="#fff"/>
<rect x="233.00" y="424.00" width="1.00" height="1.00" fill="#fff"/>
<rect x="235.00" y="426.00" width="1.00" height="1.00" fill="#fff"/>
<rect x="238.00" y="425.00" width="3.00" height="3.00" fill="#fff"/>
<rect x="239.00" y="424.00" width="1.00" height="1.00" fill="#fff"/>
<rect x="241.00" y="426.00" width="1.00" height="1.00" fill="#fff"/>
<rect x="285.00" y="425.00" width="3.00" height="3.00" fill="#fff"/>
<rect x="286.00" y="424.00" width="1.00" height="1.00" fill="#fff"/>
<rect x="288.00" y="426.00" width="1.00" height="1.00" fill="#fff"/>
<rect x="291.00" y="425.00" width="3.00" height="3.00" fill="#fff"/>
<rect x="292.00" y="424.00" width="1.00" height="1.00" fill="#fff"/>
<rect x="294.00" y="426.00" width="1.00" height="1.00" fill="#fff"/>
<rect x="296.00" y="425.00" width="3.00" height="3.00" fill="#fff"/>
<rect x="297.00" y="424.00" width="1.00" height="1.00" fill="#fff"/>
<rect x="299.00" y="426.00" width="1.00" height="1.00" fill="#fff"/>
<rect x="226.00" y="431.00" width="3.00" height="3.00" fill="#fff"/>
<rect x="227.00" y="430.00" width="1.00" height="1.00" fill="#fff"/>
<rect x="229.00" y="432.00" width="1.00" height="1.00" fill="#fff"/>
<rect x="232.00" y="431.00" width="3.00" height="3.00" fill="#fff"/>
<rect x="233.00" y="430.00" width="1.00" height="1.00" fill="#fff"/>
<rect x="235.00" y="432.00" width="1.00" height="1.00" fill="#fff"/>
<rect x="238.00" y="431.00" width="3.00" height="3.00" fill="#fff"/>
<rect x="239.00" y="430.00" width="1.00" height="1.00" fill="#fff"/>
<rect x="241.00" y="432.00" width="1.00" height="1.00" fill="#fff"/>
<rect x="285.00" y="431.00" width="3.00" height="3.00" fill="#fff"/>
<rect x="286.00" y="430.00" width="1.00" height="1.00" fill="#fff"/>
<rect x="288.00" y="432.00" width="1.00" height="1.00" fill="#fff"/>
<rect x="291.00" y="431.00" width="3.00" height="3.00" fill="#fff"/>
<rect x="292.00" y="430.00" width="1.00" height="1.00" fill="#fff"/>
<rect x="294.00" y="432.00" width="1.00" height="1.00" fill="#fff"/>
<rect x="296.00" y="431.00" width="3.00" height="3.00" fill="#fff"/>
<rect x="297.00" y="430.00" width="1.00" height="1.00" fill="#fff"/>
<rect x="299.00" y="432.00" width="1.00" height="1.00" fill="#fff"/>
<rect x="226.00" y="437.00" width="3.00" height="3.00" fill="#fff"/>
<rect x="227.00" y="436.00" width="1.00" height="1.00" fill="#fff"/>
<rect x="229.00" y="438.00" width="1.00" height="1.00" fill="#fff"/>
<rect x="232.00" y="437.00" width="3.00" height="3.00" fill="#fff"/>
<rect x="233.00" y="436.00" width="1.00" height="1.00" fill="#fff"/>
<rect x="235.00" y="438.00" width="1.00" height="1.00" fill="#fff"/>
<rect x="238.00" y="437.00" width="3.00" height="3.00" fill="#fff"/>
<rect x="239.00" y="436.00" width="1.00" height="1.00" fill="#fff"/>
<rect x="241.00" y="438.00" width="1.00" height="1.00" fill="#fff"/>
<rect x="285.00" y="437.00" width="3.00" height="3.00" fill="#fff"/>
<rect x="286.00" y="436.00" width="1.00" height="1.00" fill="#fff"/>
<rect x="288.00" y="438.00" width="1.00" height="1.00" fill="#fff"/>
<rect x="291.00" y="437.00" width="3.00" height="3.00" fill="#fff"/>
<rect x="292.00" y="436.00" width="1.00" height="1.00" fill="#fff"/>
<rect x="294.00" y="438.00" width="1.00" height="1.00" fill="#fff"/>
<rect x="296.00" y="437.00" width="3.00" height="3.00" fill="#fff"/>
<rect x="297.00" y="436.00" width="1.00" height="1.00" fill="#fff"/>
<rect x="299.00" y="438.00" width="1.00" height="1.00" fill="#fff"/>
<rect x="226.00" y="443.00" width="3.00" height="3.00" fill="#fff"/>
<rect x="227.00" y="442.00" width="1.00" height="1.00" fill="#fff"/>
<rect x="229.00" y="444.00" width="1.00" height="1.00" fill="#fff"/>
<rect x="232.00" y="443.00" width="3.00" height="3.00" fill="#fff"/>
<rect x="233.00" y="442.00" width="1.00" height="1.00" fill="#fff"/>
<rect x="235.00" y="444.00" width="1.00" height="1.00" fill="#fff"/>
<rect x="238.00" y="443.00" width="3.00" height="3.00" fill="#fff"/>
<rect x="239.00" y="442.00" width="1.00" height="1.00" fill="#fff"/>
<rect x="241.00" y="444.00" width="1.00" height="1.00" fill="#fff"/>
<rect x="285.00" y="443.00" width="3.00" height="3.00" fill="#fff"/>
<rect x="286.00" y="442.00" width="1.00" height="1.00" fill="#fff"/>
<rect x="288.00" y="444.00" width="1.00" height="1.00" fill="#fff"/>
<rect x="291.00" y="443.00" width="3.00" height="3.00" fill="#fff"/>
<rect x="292.00" y="442.00" width="1.00" height="1.00" fill="#fff"/>
<rect x="294.00" y="444.00" width="1.00" height="1.00" fill="#fff"/>
<rect x="296.00" y="443.00" width="3.00" height="3.00" fill="#fff"/>
<rect x="297.00" y="442.00" width="1.00" height="1.00" fill="#fff"/>
<rect x="299.00" y="444.00" width="1.00" height="1.00" fill="#fff"/>
<rect x="226.00" y="449.00" width="3.00" height="3.00" fill="#fff"/>
<rect x="227.00" y="448.00" width="1.00" height="1.00" fill="#fff"/>
<rect x="229.00" y="450.00" width="1.00" height="1.00" fill="#fff"/>
<rect x="232.00" y="449.00" width="3.00" height="3.00" fill="#fff"/>
<rect x="233.00" y="448.00" width="1.00" height="1.00" fill="#fff"/>
<rect x="235.00" y="450.00" width="1.00" height="1.00" fill="#fff"/>
<rect x="238.00" y="449.00" width="3.00" height="3.00" fill="#fff"/>
<rect x="239.00" y="448.00" width="1.00" height="1.00" fill="#fff"/>
<rect x="241.00" y="450.00" width="1.00" height="1.00" fill="#fff"/>
<rect x="285.00" y="449.00" width="3.00" height="3.00" fill="#fff"/>
<rect x="286.00" y="448.00" width="1.00" height="1.00" fill="#fff"/>
<rect x="288.00" y="450.00" width="1.00" height="1.00" fill="#fff"/>
<rect x="291.00" y="449.00" width="3.00" height="3.00" fill="#fff"/>
<rect x="292.00" y="448.00" width="1.00" height="1.00" fill="#fff"/>
<rect x="294.00" y="450.00" width="1.00" height="1.00" fill="#fff"/>
<rect x="296.00" y="449.00" width="3.00" height="3.00" fill="#fff"/>
<rect x="297.00" y="448.00" width="1.00" height="1.00" fill="#fff"/>
<rect x="299.00" y="450.00" width="1.00" height="1.00" fill="#fff"/>
<rect x="226.00" y="455.00" width="3.00" height="3.00" fill="#fff"/>
<rect x="227.00" y="454.00" width="1.00" height="1.00" fill="#fff"/>
<rect x="229.00" y="456.00" width="1.00" height="1.00" fill="#fff"/>
<rect x="232.00" y="455.00" width="3.00" height="3.00" fill="#fff"/>
<rect x="233.00" y="454.00" width="1.00" height="1.00" fill="#fff"/>
<rect x="235.00" y="456.00" width="1.00" height="1.00" fill="#fff"/>
<rect x="238.00" y="455.00" width="3.00" height="3.00" fill="#fff"/>
<rect x="239.00" y="454.00" width="1.00" height="1.00" fill="#fff"/>
<rect x="241.00" y="456.00" width="1.00" height="1.00" fill="#fff"/>
<rect x="244.00" y="455.00" width="3.00" height="3.00" fill="#fff"/>
<rect x="245.00" y="454.00" width="1.00" height="1.00" fill="#fff"/>
<rect x="247.00" y="456.00" width="1.00" height="1.00" fill="#fff"/>
<rect x="249.00" y="455.00" width="3.00" height="3.00" fill="#fff"/>
<rect x="250.00" y="454.00" width="1.00" height="1.00" fill="#fff"/>
<rect x="252.00" y="456.00" width="1.00" height="1.00" fill="#fff"/>
<rect x="255.00" y="455.00" width="3.00" height="3.00" fill="#fff"/>
<rect x="256.00" y="454.00" width="1.00" height="1.00" fill="#fff"/>
<rect x="258.00" y="456.00" width="1.00" height="1.00" fill="#fff"/>
<rect x="261.00" y="455.00" width="3.00" height="3.00" fill="#fff"/>
<rect x="262.00" y="454.00" width="1.00" height="1.00" fill="#fff"/>
<rect x="264.00" y="456.00" width="1.00" height="1.00" fill="#fff"/>
<rect x="267.00" y="455.00" width="3.00" height="3.00" fill="#fff"/>
<rect x="268.00" y="454.00" width="1.00" height="1.00" fill="#fff"/>
<rect x="270.00" y="456.00" width="1.00" height="1.00" fill="#fff"/>
<rect x="273.00" y="455.00" width="3.00" height="3.00" fill="#fff"/>
<rect x="274.00" y="454.00" width="1.00" height="1.00" fill="#fff"/>
<rect x="276.00" y="456.00" width="1.00" height="1.00" fill="#fff"/>
<rect x="279.00" y="455.00" width="3.00" height="3.00" fill="#fff"/>
<rect x="280.00" y="454.00" width="1.00" height="1.00" fill="#fff"/>
<rect x="282.00" y="456.00" width="1.00" height="1.00" fill="#fff"/>
<rect x="285.00" y="455.00" width="3.00" height="3.00" fill="#fff"/>
<rect x="286.00" y="454.00" width="1.00" height="1.00" fill="#fff"/>
<rect x="288.00" y="456.00" width="1.00" height="1.00" fill="#fff"/>
<rect x="291.00" y="455.00" width="3.00" height="3.00" fill="#fff"/>
<rect x="292.00" y="454.00" width="1.00" height="1.00" fill="#fff"/>
<rect x="294.00" y="456.00" width="1.00" height="1.00" fill="#fff"/>
<rect x="296.00" y="455.00" width="3.00" height="3.00" fill="#fff"/>
<rect x="297.00" y="454.00" width="1.00" height="1.00" fill="#fff"/>
<rect x="299.00" y="456.00" width="1.00" height="1.00" fill="#fff"/>
<rect x="226.00" y="461.00" width="3.00" height="3.00" fill="#fff"/>
<rect x="227.00" y="460.00" width="1.00" height="1.00" fill="#fff"/>
<rect x="229.00" y="462.00" width="1.00" height="1.00" fill="#fff"/>
<rect x="232.00" y="461.00" width="3.00" height="3.00" fill="#fff"/>
<rect x="233.00" y="460.00" width="1.00" height="1.00" fill="#fff"/>
<rect x="235.00" y="462.00" width="1.00" height="1.00" fill="#fff"/>
<rect x="238.00" y="461.00" width="3.00" height="3.00" fill="#fff"/>
<rect x="239.00" y="460.00" width="1.00" height="1.00" fill="#fff"/>
<rect x="241.00" y="462.00" width="1.00" height="1.00" fill="#fff"/>
<rect x="244.00" y="461.00" width="3.00" height="3.00" fill="#fff"/>
<rect x="245.00" y="460.00" width="1.00" height="1.00" fill="#fff"/>
<rect x="247.00" y="462.00" width="1.00" height="1.00" fill="#fff"/>
<rect x="249.00" y="461.00" width="3.00" height="3.00" fill="#fff"/>
<rect x="250.00" y="460.00" width="1.00" height="1.00" fill="#fff"/>
<rect x="252.00" y="462.00" width="1.00" height="1.00" fill="#fff"/>
<rect x="255.00" y="461.00" width="3.00" height="3.00" fill="#fff"/>
<rect x="256.00" y="460.00" width="1.00" height="1.00" fill="#fff"/>
<rect x="258.00" y="462.00" width="1.00" height="1.00" fill="#fff"/>
<rect x="261.00" y="461.00" width="3.00" height="3.00" fill="#fff"/>
<rect x="262.00" y="460.00" width="1.00" height="1.00" fill="#fff"/>
<rect x="264.00" y="462.00" width="1.00" height="1.00" fill="#fff"/>
<rect x="267.00" y="461.00" width="3.00" height="3.00" fill="#fff"/>
<rect x="268.00" y="460.00" width="1.00" height="1.00" fill="#fff"/>
<rect x="270.00" y="462.00" width="1.00" height="1.00" fill="#fff"/>
<rect x="273.00" y="461.00" width="3.00" height="3.00" fill="#fff"/>
<rect x="274.00" y="460.00" width="1.00" height="1.00" fill="#fff"/>
<rect x="276.00" y="462.00" width="1.00" height="1.00" fill="#fff"/>
<rect x="279.00" y="461.00" width="3.00" height="3.00" fill="#fff"/>
<rect x="280.00" y="460.00" width="1.00" height="1.00" fill="#fff"/>
<rect x="282.00" y="462.00" width="1.00" height="1.00" fill="#fff"/>
<rect x="285.00" y="461.00" width="3.00" height="3.00" fill="#fff"/>
<rect x="286.00" y="460.00" width="1.00" height="1.00" fill="#fff"/>
<rect x="288.00" y="462.00" width="1.00" height="1.00" fill="#fff"/>
<rect x="291.00" y="461.00" width="3.00" height="3.00" fill="#fff"/>
<rect x="292.00" y="460.00" width="1.00" height="1.00" fill="#fff"/>
<rect x="294.00" y="462.00" width="1.00" height="1.00" fill="#fff"/>
<rect x="296.00" y="461.00" width="3.00" height="3.00" fill="#fff"/>
<rect x="297.00" y="460.00" width="1.00" height="1.00" fill="#fff"/>
<rect x="299.00" y="462.00" width="1.00" height="1.00" fill="#fff"/>
<rect x="226.00" y="466.00" width="3.00" height="3.00" fill="#fff"/>
<rect x="227.00" y="465.00" width="1.00" height="1.00" fill="#fff"/>
<rect x="229.00" y="467.00" width="1.00" height="1.00" fill="#fff"/>
<rect x="232.00" y="466.00" width="3.00" height="3.00" fill="#fff"/>
<rect x="233.00" y="465.00" width="1.00" height="1.00" fill="#fff"/>
<rect x="235.00" y="467.00" width="1.00" height="1.00" fill="#fff"/>
<rect x="238.00" y="466.00" width="3.00" height="3.00" fill="#fff"/>
<rect x="239.00" y="465.00" width="1.00" height="1.00" fill="#fff"/>
<rect x="241.00" y="467.00" width="1.00" height="1.00" fill="#fff"/>
<rect x="244.00" y="466.00" width="3.00" height="3.00" fill="#fff"/>
<rect x="245.00" y="465.00" width="1.00" height="1.00" fill="#fff"/>
<rect x="247.00" y="467.00" width="1.00" height="1.00" fill="#fff"/>
<rect x="249.00" y="466.00" width="3.00" height="3.00" fill="#fff"/>
<rect x="250.00" y="465.00" width="1.00" height="1.00" fill="#fff"/>
<rect x="252.00" y="467.00" width="1.00" height="1.00" fill="#fff"/>
<rect x="255.00" y="466.00" width="3.00" height="3.00" fill="#fff"/>
<rect x="256.00" y="465.00" width="1.00" height="1.00" fill="#fff"/>
<rect x="258.00" y="467.00" width="1.00" height="1.00" fill="#fff"/>
<rect x="261.00" y="466.00" width="3.00" height="3.00" fill="#fff"/>
<rect x="262.00" y="465.00" width="1.00" height="1.00" fill="#fff"/>
<rect x="264.00" y="467.00" width="1.00" height="1.00" fill="#fff"/>
<rect x="267.00" y="466.00" width="3.00" height="3.00" fill="#fff"/>
<rect x="268.00" y="465.00" width="1.00" height="1.00" fill="#fff"/>
<rect x="270.00" y="467.00" width="1.00" height="1.00" fill="#fff"/>
<rect x="273.00" y="466.00" width="3.00" height="3.00" fill="#fff"/>
<rect x="274.00" y="465.00" width="1.00" height="1.00" fill="#fff"/>
<rect x="276.00" y="467.00" width="1.00" height="1.00" fill="#fff"/>
<rect x="279.00" y="466.00" width="3.00" height="3.00" fill="#fff"/>
<rect x="280.00" y="465.00" width="1.00" height="1.00" fill="#fff"/>
<rect x="282.00" y="467.00" width="1.00" height="1.00" fill="#fff"/>
<rect x="285.00" y="466.00" width="3.00" height="3.00" fill="#fff"/>
<rect x="286.00" y="465.00" width="1.00" height="1.00" fill="#fff"/>
<rect x="288.00" y="467.00" width="1.00" height="1.00" fill="#fff"/>
<rect x="291.00" y="466.00" width="3.00" height="3.00" fill="#fff"/>
<rect x="292.00" y="465.00" width="1.00" height="1.00" fill="#fff"/>
<rect x="294.00" y="467.00" width="1.00" height="1.00" fill="#fff"/>
<rect x="296.00" y="466.00" width="3.00" height="3.00" fill="#fff"/>
<rect x="297.00" y="465.00" width="1.00" height="1.00" fill="#fff"/>
<rect x="299.00" y="467.00" width="1.00" height="1.00" fill="#fff"/>
<path d="M246,415 L278,415 L281,418 L281,450 L246,450 Z" fill="#fff" stroke="none" stroke-width="1"/>
<path d="M275,418 L278,417 L280,419 L279.5,421.5 L276,421.5 Z" fill="#000" stroke="none" stroke-width="1"/>
<rect x="248.2" y="423.7" width="30.6" height="16.8" rx="3" fill="#fff" stroke="#000" stroke-width="2"/>
<path d="M251.50,435.50 L251.50,426.50 L256.50,435.50 L256.50,426.50" fill="none" stroke="#000" stroke-width="1.0" stroke-linejoin="miter" stroke-linecap="square"/>
<path d="M261.50,435.50 L261.50,426.50 L265.50,426.50 Q266.50,426.50 266.50,428.50 L266.50,429.50 Q266.50,431.45 265.50,431.50 L261.50,431.50" fill="none" stroke="#000" stroke-width="1.0" stroke-linejoin="miter" stroke-linecap="square"/>
<path d="M270.50,426.50 L270.50,432.50 Q270.50,435.50 272.50,435.50 L274.50,435.50 Q275.50,435.50 275.50,432.50 L275.50,426.50" fill="none" stroke="#000" stroke-width="1.0" stroke-linejoin="miter" stroke-linecap="square"/>
<rect x="522.00" y="473.00" width="88.00" height="41.00" fill="#000"/>
<rect x="546.00" y="486.00" width="40.00" height="14.00" fill="#fff"/>
<rect x="608.00" y="488.00" width="2.00" height="12.00" fill="#fff"/>
<path d="M552.50,488.50 L555.50,488.50 L556.50,489.50 L556.50,491.50 L555.50,493.50 L552.50,493.50 M555.50,493.50 L556.50,494.50 L556.50,496.50 L555.50,497.50 L552.50,497.50 L552.50,488.50" fill="none" stroke="#000" stroke-width="1.0" stroke-linejoin="miter" stroke-linecap="square"/>
<path d="M561.50,488.50 L561.50,497.50" fill="none" stroke="#000" stroke-width="1.0" stroke-linejoin="miter" stroke-linecap="square"/>
<path d="M568.50,488.50 Q571.50,488.50 571.50,492.50 L571.50,493.50 Q571.50,497.50 568.50,497.50 Q565.50,497.50 565.50,493.50 L565.50,492.50 Q565.50,488.50 568.50,488.50 Z" fill="none" stroke="#000" stroke-width="1.0" stroke-linejoin="miter" stroke-linecap="square"/>
<path d="M579.50,490.50 Q579.00,488.50 577.50,488.50 Q574.50,488.50 574.50,490.50 Q574.50,493.00 577.50,493.50 Q579.50,493.00 579.50,495.50 Q579.50,497.50 577.50,497.50 Q575.00,497.50 574.50,495.50" fill="none" stroke="#000" stroke-width="1.0" stroke-linejoin="miter" stroke-linecap="square"/>
<rect x="618.00" y="471.00" width="126.00" height="43.00" fill="#000"/>
<rect x="667.00" y="486.00" width="28.00" height="14.00" fill="#fff"/>
<rect x="621.00" y="473.00" width="4.00" height="1.00" fill="#fff"/>
<rect x="627.00" y="473.00" width="3.00" height="1.00" fill="#fff"/>
<rect x="633.00" y="473.00" width="3.00" height="1.00" fill="#fff"/>
<rect x="639.00" y="473.00" width="3.00" height="1.00" fill="#fff"/>
<rect x="645.00" y="473.00" width="3.00" height="1.00" fill="#fff"/>
<rect x="651.00" y="473.00" width="3.00" height="1.00" fill="#fff"/>
<rect x="656.00" y="473.00" width="4.00" height="1.00" fill="#fff"/>
<rect x="662.00" y="473.00" width="4.00" height="1.00" fill="#fff"/>
<rect x="668.00" y="473.00" width="4.00" height="1.00" fill="#fff"/>
<rect x="674.00" y="473.00" width="4.00" height="1.00" fill="#fff"/>
<rect x="680.00" y="473.00" width="4.00" height="1.00" fill="#fff"/>
<rect x="686.00" y="473.00" width="3.00" height="1.00" fill="#fff"/>
<rect x="692.00" y="473.00" width="3.00" height="1.00" fill="#fff"/>
<rect x="698.00" y="473.00" width="3.00" height="1.00" fill="#fff"/>
<rect x="704.00" y="473.00" width="3.00" height="1.00" fill="#fff"/>
<rect x="710.00" y="473.00" width="3.00" height="1.00" fill="#fff"/>
<rect x="715.00" y="473.00" width="4.00" height="1.00" fill="#fff"/>
<rect x="721.00" y="473.00" width="4.00" height="1.00" fill="#fff"/>
<rect x="727.00" y="473.00" width="4.00" height="1.00" fill="#fff"/>
<rect x="733.00" y="473.00" width="4.00" height="1.00" fill="#fff"/>
<rect x="739.00" y="473.00" width="4.00" height="1.00" fill="#fff"/>
<rect x="743.00" y="487.00" width="1.00" height="12.00" fill="#fff"/>
<path d="M670.50,486.50 L670.50,495.50 M675.50,486.50 L670.50,492.50 M672.50,490.50 L675.50,495.50" fill="none" stroke="#000" stroke-width="1.0" stroke-linejoin="miter" stroke-linecap="square"/>
<path d="M679.50,486.50 L682.50,486.50 L683.50,487.50 L683.50,489.50 L682.50,491.50 L679.50,491.50 M682.50,491.50 L683.50,492.50 L683.50,494.50 L682.50,495.50 L679.50,495.50 L679.50,486.50" fill="none" stroke="#000" stroke-width="1.0" stroke-linejoin="miter" stroke-linecap="square"/>
<path d="M687.50,486.50 L687.50,495.50 L690.50,495.50 Q692.50,495.50 692.50,492.50 L692.50,489.50 Q692.50,486.50 690.50,486.50 Z" fill="none" stroke="#000" stroke-width="1.0" stroke-linejoin="miter" stroke-linecap="square"/>
<path d="M638.50,53.50 L638.50,45.50 L641.50,50.50 L643.50,45.50 L643.50,53.50" fill="none" stroke="#000" stroke-width="1.0" stroke-linejoin="miter" stroke-linecap="square"/>
<path d="M648.50,45.50 L648.50,53.50 M653.50,45.50 L653.50,53.50 M648.50,49.50 L653.50,49.50" fill="none" stroke="#000" stroke-width="1.0" stroke-linejoin="miter" stroke-linecap="square"/>
<path d="M657.50,45.50 Q659.50,45.50 659.50,48.50 L659.50,50.50 Q659.50,53.50 657.50,53.50 Q655.50,53.50 655.50,50.50 L655.50,48.50 Q655.50,45.50 657.50,45.50 Z" fill="none" stroke="#000" stroke-width="1.0" stroke-linejoin="miter" stroke-linecap="square"/>
<path d="M663.50,45.50 L667.50,45.50 L665.50,53.50" fill="none" stroke="#000" stroke-width="1.0" stroke-linejoin="miter" stroke-linecap="square"/>
<path d="M669.50,47.50 Q669.90,45.50 671.50,45.50 Q673.50,45.50 673.50,47.50 Q673.50,49.50 671.50,51.50 L669.50,53.50 L673.50,53.50" fill="none" stroke="#000" stroke-width="1.0" stroke-linejoin="miter" stroke-linecap="square"/>
<path d="M676.50,47.50 L677.50,45.50 L677.50,53.50" fill="none" stroke="#000" stroke-width="1.0" stroke-linejoin="miter" stroke-linecap="square"/>
<rect x="38.00" y="284.00" width="85.00" height="25.00" fill="#000"/>
<rect x="41.00" y="286.00" width="3.00" height="6.00" fill="#fff"/>
<rect x="41.00" y="302.00" width="3.00" height="5.00" fill="#fff"/>
<rect x="47.00" y="286.00" width="3.00" height="6.00" fill="#fff"/>
<rect x="47.00" y="302.00" width="3.00" height="5.00" fill="#fff"/>
<rect x="53.00" y="286.00" width="3.00" height="6.00" fill="#fff"/>
<rect x="53.00" y="302.00" width="3.00" height="5.00" fill="#fff"/>
<rect x="58.00" y="286.00" width="4.00" height="6.00" fill="#fff"/>
<rect x="58.00" y="302.00" width="4.00" height="5.00" fill="#fff"/>
<rect x="64.00" y="286.00" width="4.00" height="6.00" fill="#fff"/>
<rect x="64.00" y="302.00" width="4.00" height="5.00" fill="#fff"/>
<rect x="70.00" y="286.00" width="4.00" height="6.00" fill="#fff"/>
<rect x="70.00" y="302.00" width="4.00" height="5.00" fill="#fff"/>
<rect x="76.00" y="286.00" width="3.00" height="6.00" fill="#fff"/>
<rect x="76.00" y="302.00" width="3.00" height="5.00" fill="#fff"/>
<rect x="82.00" y="286.00" width="3.00" height="6.00" fill="#fff"/>
<rect x="82.00" y="302.00" width="3.00" height="5.00" fill="#fff"/>
<rect x="88.00" y="286.00" width="3.00" height="6.00" fill="#fff"/>
<rect x="88.00" y="302.00" width="3.00" height="5.00" fill="#fff"/>
<rect x="94.00" y="286.00" width="3.00" height="6.00" fill="#fff"/>
<rect x="94.00" y="302.00" width="3.00" height="5.00" fill="#fff"/>
<rect x="99.00" y="286.00" width="4.00" height="6.00" fill="#fff"/>
<rect x="99.00" y="302.00" width="4.00" height="5.00" fill="#fff"/>
<rect x="105.00" y="286.00" width="4.00" height="6.00" fill="#fff"/>
<rect x="105.00" y="302.00" width="4.00" height="5.00" fill="#fff"/>
<rect x="111.00" y="286.00" width="3.00" height="6.00" fill="#fff"/>
<rect x="111.00" y="302.00" width="3.00" height="5.00" fill="#fff"/>
<rect x="117.00" y="286.00" width="3.00" height="6.00" fill="#fff"/>
<rect x="117.00" y="302.00" width="3.00" height="5.00" fill="#fff"/>
<rect x="44.00" y="294.00" width="32.00" height="5.00" fill="#fff"/>
<rect x="81.00" y="294.00" width="34.00" height="5.00" fill="#fff"/>
<path d="M123,294.0 L120,296.5 L123,299.0 Z" fill="#fff" stroke="none" stroke-width="1"/>
<rect x="38.00" y="310.00" width="85.00" height="25.00" fill="#000"/>
<rect x="41.00" y="312.00" width="3.00" height="6.00" fill="#fff"/>
<rect x="41.00" y="328.00" width="3.00" height="5.00" fill="#fff"/>
<rect x="47.00" y="312.00" width="3.00" height="6.00" fill="#fff"/>
<rect x="47.00" y="328.00" width="3.00" height="5.00" fill="#fff"/>
<rect x="53.00" y="312.00" width="3.00" height="6.00" fill="#fff"/>
<rect x="53.00" y="328.00" width="3.00" height="5.00" fill="#fff"/>
<rect x="58.00" y="312.00" width="4.00" height="6.00" fill="#fff"/>
<rect x="58.00" y="328.00" width="4.00" height="5.00" fill="#fff"/>
<rect x="64.00" y="312.00" width="4.00" height="6.00" fill="#fff"/>
<rect x="64.00" y="328.00" width="4.00" height="5.00" fill="#fff"/>
<rect x="70.00" y="312.00" width="4.00" height="6.00" fill="#fff"/>
<rect x="70.00" y="328.00" width="4.00" height="5.00" fill="#fff"/>
<rect x="76.00" y="312.00" width="3.00" height="6.00" fill="#fff"/>
<rect x="76.00" y="328.00" width="3.00" height="5.00" fill="#fff"/>
<rect x="82.00" y="312.00" width="3.00" height="6.00" fill="#fff"/>
<rect x="82.00" y="328.00" width="3.00" height="5.00" fill="#fff"/>
<rect x="88.00" y="312.00" width="3.00" height="6.00" fill="#fff"/>
<rect x="88.00" y="328.00" width="3.00" height="5.00" fill="#fff"/>
<rect x="94.00" y="312.00" width="3.00" height="6.00" fill="#fff"/>
<rect x="94.00" y="328.00" width="3.00" height="5.00" fill="#fff"/>
<rect x="99.00" y="312.00" width="4.00" height="6.00" fill="#fff"/>
<rect x="99.00" y="328.00" width="4.00" height="5.00" fill="#fff"/>
<rect x="105.00" y="312.00" width="4.00" height="6.00" fill="#fff"/>
<rect x="105.00" y="328.00" width="4.00" height="5.00" fill="#fff"/>
<rect x="111.00" y="312.00" width="3.00" height="6.00" fill="#fff"/>
<rect x="111.00" y="328.00" width="3.00" height="5.00" fill="#fff"/>
<rect x="117.00" y="312.00" width="3.00" height="6.00" fill="#fff"/>
<rect x="117.00" y="328.00" width="3.00" height="5.00" fill="#fff"/>
<rect x="44.00" y="320.00" width="32.00" height="5.00" fill="#fff"/>
<rect x="81.00" y="320.00" width="34.00" height="5.00" fill="#fff"/>
<path d="M123,320.1 L120,322.6 L123,325.1 Z" fill="#fff" stroke="none" stroke-width="1"/>
<rect x="38.00" y="336.00" width="85.00" height="25.00" fill="#000"/>
<rect x="41.00" y="338.00" width="3.00" height="6.00" fill="#fff"/>
<rect x="41.00" y="354.00" width="3.00" height="5.00" fill="#fff"/>
<rect x="47.00" y="338.00" width="3.00" height="6.00" fill="#fff"/>
<rect x="47.00" y="354.00" width="3.00" height="5.00" fill="#fff"/>
<rect x="53.00" y="338.00" width="3.00" height="6.00" fill="#fff"/>
<rect x="53.00" y="354.00" width="3.00" height="5.00" fill="#fff"/>
<rect x="58.00" y="338.00" width="4.00" height="6.00" fill="#fff"/>
<rect x="58.00" y="354.00" width="4.00" height="5.00" fill="#fff"/>
<rect x="64.00" y="338.00" width="4.00" height="6.00" fill="#fff"/>
<rect x="64.00" y="354.00" width="4.00" height="5.00" fill="#fff"/>
<rect x="70.00" y="338.00" width="4.00" height="6.00" fill="#fff"/>
<rect x="70.00" y="354.00" width="4.00" height="5.00" fill="#fff"/>
<rect x="76.00" y="338.00" width="3.00" height="6.00" fill="#fff"/>
<rect x="76.00" y="354.00" width="3.00" height="5.00" fill="#fff"/>
<rect x="82.00" y="338.00" width="3.00" height="6.00" fill="#fff"/>
<rect x="82.00" y="354.00" width="3.00" height="5.00" fill="#fff"/>
<rect x="88.00" y="338.00" width="3.00" height="6.00" fill="#fff"/>
<rect x="88.00" y="354.00" width="3.00" height="5.00" fill="#fff"/>
<rect x="94.00" y="338.00" width="3.00" height="6.00" fill="#fff"/>
<rect x="94.00" y="354.00" width="3.00" height="5.00" fill="#fff"/>
<rect x="99.00" y="338.00" width="4.00" height="6.00" fill="#fff"/>
<rect x="99.00" y="354.00" width="4.00" height="5.00" fill="#fff"/>
<rect x="105.00" y="338.00" width="4.00" height="6.00" fill="#fff"/>
<rect x="105.00" y="354.00" width="4.00" height="5.00" fill="#fff"/>
<rect x="111.00" y="338.00" width="3.00" height="6.00" fill="#fff"/>
<rect x="111.00" y="354.00" width="3.00" height="5.00" fill="#fff"/>
<rect x="117.00" y="338.00" width="3.00" height="6.00" fill="#fff"/>
<rect x="117.00" y="354.00" width="3.00" height="5.00" fill="#fff"/>
<rect x="44.00" y="346.00" width="32.00" height="5.00" fill="#fff"/>
<rect x="81.00" y="346.00" width="34.00" height="5.00" fill="#fff"/>
<path d="M123,346.2 L120,348.7 L123,351.2 Z" fill="#fff" stroke="none" stroke-width="1"/>
<rect x="38.00" y="362.00" width="85.00" height="25.00" fill="#000"/>
<rect x="41.00" y="364.00" width="3.00" height="6.00" fill="#fff"/>
<rect x="41.00" y="380.00" width="3.00" height="5.00" fill="#fff"/>
<rect x="47.00" y="364.00" width="3.00" height="6.00" fill="#fff"/>
<rect x="47.00" y="380.00" width="3.00" height="5.00" fill="#fff"/>
<rect x="53.00" y="364.00" width="3.00" height="6.00" fill="#fff"/>
<rect x="53.00" y="380.00" width="3.00" height="5.00" fill="#fff"/>
<rect x="58.00" y="364.00" width="4.00" height="6.00" fill="#fff"/>
<rect x="58.00" y="380.00" width="4.00" height="5.00" fill="#fff"/>
<rect x="64.00" y="364.00" width="4.00" height="6.00" fill="#fff"/>
<rect x="64.00" y="380.00" width="4.00" height="5.00" fill="#fff"/>
<rect x="70.00" y="364.00" width="4.00" height="6.00" fill="#fff"/>
<rect x="70.00" y="380.00" width="4.00" height="5.00" fill="#fff"/>
<rect x="76.00" y="364.00" width="3.00" height="6.00" fill="#fff"/>
<rect x="76.00" y="380.00" width="3.00" height="5.00" fill="#fff"/>
<rect x="82.00" y="364.00" width="3.00" height="6.00" fill="#fff"/>
<rect x="82.00" y="380.00" width="3.00" height="5.00" fill="#fff"/>
<rect x="88.00" y="364.00" width="3.00" height="6.00" fill="#fff"/>
<rect x="88.00" y="380.00" width="3.00" height="5.00" fill="#fff"/>
<rect x="94.00" y="364.00" width="3.00" height="6.00" fill="#fff"/>
<rect x="94.00" y="380.00" width="3.00" height="5.00" fill="#fff"/>
<rect x="99.00" y="364.00" width="4.00" height="6.00" fill="#fff"/>
<rect x="99.00" y="380.00" width="4.00" height="5.00" fill="#fff"/>
<rect x="105.00" y="364.00" width="4.00" height="6.00" fill="#fff"/>
<rect x="105.00" y="380.00" width="4.00" height="5.00" fill="#fff"/>
<rect x="111.00" y="364.00" width="3.00" height="6.00" fill="#fff"/>
<rect x="111.00" y="380.00" width="3.00" height="5.00" fill="#fff"/>
<rect x="117.00" y="364.00" width="3.00" height="6.00" fill="#fff"/>
<rect x="117.00" y="380.00" width="3.00" height="5.00" fill="#fff"/>
<rect x="44.00" y="372.00" width="32.00" height="5.00" fill="#fff"/>
<rect x="81.00" y="372.00" width="34.00" height="5.00" fill="#fff"/>
<path d="M123,372.3 L120,374.8 L123,377.3 Z" fill="#fff" stroke="none" stroke-width="1"/>
<rect x="38.00" y="388.00" width="85.00" height="25.00" fill="#000"/>
<rect x="41.00" y="390.00" width="3.00" height="6.00" fill="#fff"/>
<rect x="41.00" y="406.00" width="3.00" height="5.00" fill="#fff"/>
<rect x="47.00" y="390.00" width="3.00" height="6.00" fill="#fff"/>
<rect x="47.00" y="406.00" width="3.00" height="5.00" fill="#fff"/>
<rect x="53.00" y="390.00" width="3.00" height="6.00" fill="#fff"/>
<rect x="53.00" y="406.00" width="3.00" height="5.00" fill="#fff"/>
<rect x="58.00" y="390.00" width="4.00" height="6.00" fill="#fff"/>
<rect x="58.00" y="406.00" width="4.00" height="5.00" fill="#fff"/>
<rect x="64.00" y="390.00" width="4.00" height="6.00" fill="#fff"/>
<rect x="64.00" y="406.00" width="4.00" height="5.00" fill="#fff"/>
<rect x="70.00" y="390.00" width="4.00" height="6.00" fill="#fff"/>
<rect x="70.00" y="406.00" width="4.00" height="5.00" fill="#fff"/>
<rect x="76.00" y="390.00" width="3.00" height="6.00" fill="#fff"/>
<rect x="76.00" y="406.00" width="3.00" height="5.00" fill="#fff"/>
<rect x="82.00" y="390.00" width="3.00" height="6.00" fill="#fff"/>
<rect x="82.00" y="406.00" width="3.00" height="5.00" fill="#fff"/>
<rect x="88.00" y="390.00" width="3.00" height="6.00" fill="#fff"/>
<rect x="88.00" y="406.00" width="3.00" height="5.00" fill="#fff"/>
<rect x="94.00" y="390.00" width="3.00" height="6.00" fill="#fff"/>
<rect x="94.00" y="406.00" width="3.00" height="5.00" fill="#fff"/>
<rect x="99.00" y="390.00" width="4.00" height="6.00" fill="#fff"/>
<rect x="99.00" y="406.00" width="4.00" height="5.00" fill="#fff"/>
<rect x="105.00" y="390.00" width="4.00" height="6.00" fill="#fff"/>
<rect x="105.00" y="406.00" width="4.00" height="5.00" fill="#fff"/>
<rect x="111.00" y="390.00" width="3.00" height="6.00" fill="#fff"/>
<rect x="111.00" y="406.00" width="3.00" height="5.00" fill="#fff"/>
<rect x="117.00" y="390.00" width="3.00" height="6.00" fill="#fff"/>
<rect x="117.00" y="406.00" width="3.00" height="5.00" fill="#fff"/>
<rect x="44.00" y="398.00" width="32.00" height="5.00" fill="#fff"/>
<rect x="81.00" y="398.00" width="34.00" height="5.00" fill="#fff"/>
<path d="M123,398.4 L120,400.9 L123,403.4 Z" fill="#fff" stroke="none" stroke-width="1"/>
<rect x="38.00" y="415.00" width="85.00" height="25.00" fill="#000"/>
<rect x="41.00" y="417.00" width="3.00" height="6.00" fill="#fff"/>
<rect x="41.00" y="433.00" width="3.00" height="5.00" fill="#fff"/>
<rect x="47.00" y="417.00" width="3.00" height="6.00" fill="#fff"/>
<rect x="47.00" y="433.00" width="3.00" height="5.00" fill="#fff"/>
<rect x="53.00" y="417.00" width="3.00" height="6.00" fill="#fff"/>
<rect x="53.00" y="433.00" width="3.00" height="5.00" fill="#fff"/>
<rect x="58.00" y="417.00" width="4.00" height="6.00" fill="#fff"/>
<rect x="58.00" y="433.00" width="4.00" height="5.00" fill="#fff"/>
<rect x="64.00" y="417.00" width="4.00" height="6.00" fill="#fff"/>
<rect x="64.00" y="433.00" width="4.00" height="5.00" fill="#fff"/>
<rect x="70.00" y="417.00" width="4.00" height="6.00" fill="#fff"/>
<rect x="70.00" y="433.00" width="4.00" height="5.00" fill="#fff"/>
<rect x="76.00" y="417.00" width="3.00" height="6.00" fill="#fff"/>
<rect x="76.00" y="433.00" width="3.00" height="5.00" fill="#fff"/>
<rect x="82.00" y="417.00" width="3.00" height="6.00" fill="#fff"/>
<rect x="82.00" y="433.00" width="3.00" height="5.00" fill="#fff"/>
<rect x="88.00" y="417.00" width="3.00" height="6.00" fill="#fff"/>
<rect x="88.00" y="433.00" width="3.00" height="5.00" fill="#fff"/>
<rect x="94.00" y="417.00" width="3.00" height="6.00" fill="#fff"/>
<rect x="94.00" y="433.00" width="3.00" height="5.00" fill="#fff"/>
<rect x="99.00" y="417.00" width="4.00" height="6.00" fill="#fff"/>
<rect x="99.00" y="433.00" width="4.00" height="5.00" fill="#fff"/>
<rect x="105.00" y="417.00" width="4.00" height="6.00" fill="#fff"/>
<rect x="105.00" y="433.00" width="4.00" height="5.00" fill="#fff"/>
<rect x="111.00" y="417.00" width="3.00" height="6.00" fill="#fff"/>
<rect x="111.00" y="433.00" width="3.00" height="5.00" fill="#fff"/>
<rect x="117.00" y="417.00" width="3.00" height="6.00" fill="#fff"/>
<rect x="117.00" y="433.00" width="3.00" height="5.00" fill="#fff"/>
<rect x="44.00" y="425.00" width="32.00" height="5.00" fill="#fff"/>
<rect x="81.00" y="425.00" width="34.00" height="5.00" fill="#fff"/>
<path d="M123,424.5 L120,427.0 L123,429.5 Z" fill="#fff" stroke="none" stroke-width="1"/>
<rect x="38.00" y="441.00" width="85.00" height="25.00" fill="#000"/>
<rect x="41.00" y="443.00" width="3.00" height="6.00" fill="#fff"/>
<rect x="41.00" y="459.00" width="3.00" height="5.00" fill="#fff"/>
<rect x="47.00" y="443.00" width="3.00" height="6.00" fill="#fff"/>
<rect x="47.00" y="459.00" width="3.00" height="5.00" fill="#fff"/>
<rect x="53.00" y="443.00" width="3.00" height="6.00" fill="#fff"/>
<rect x="53.00" y="459.00" width="3.00" height="5.00" fill="#fff"/>
<rect x="58.00" y="443.00" width="4.00" height="6.00" fill="#fff"/>
<rect x="58.00" y="459.00" width="4.00" height="5.00" fill="#fff"/>
<rect x="64.00" y="443.00" width="4.00" height="6.00" fill="#fff"/>
<rect x="64.00" y="459.00" width="4.00" height="5.00" fill="#fff"/>
<rect x="70.00" y="443.00" width="4.00" height="6.00" fill="#fff"/>
<rect x="70.00" y="459.00" width="4.00" height="5.00" fill="#fff"/>
<rect x="76.00" y="443.00" width="3.00" height="6.00" fill="#fff"/>
<rect x="76.00" y="459.00" width="3.00" height="5.00" fill="#fff"/>
<rect x="82.00" y="443.00" width="3.00" height="6.00" fill="#fff"/>
<rect x="82.00" y="459.00" width="3.00" height="5.00" fill="#fff"/>
<rect x="88.00" y="443.00" width="3.00" height="6.00" fill="#fff"/>
<rect x="88.00" y="459.00" width="3.00" height="5.00" fill="#fff"/>
<rect x="94.00" y="443.00" width="3.00" height="6.00" fill="#fff"/>
<rect x="94.00" y="459.00" width="3.00" height="5.00" fill="#fff"/>
<rect x="99.00" y="443.00" width="4.00" height="6.00" fill="#fff"/>
<rect x="99.00" y="459.00" width="4.00" height="5.00" fill="#fff"/>
<rect x="105.00" y="443.00" width="4.00" height="6.00" fill="#fff"/>
<rect x="105.00" y="459.00" width="4.00" height="5.00" fill="#fff"/>
<rect x="111.00" y="443.00" width="3.00" height="6.00" fill="#fff"/>
<rect x="111.00" y="459.00" width="3.00" height="5.00" fill="#fff"/>
<rect x="117.00" y="443.00" width="3.00" height="6.00" fill="#fff"/>
<rect x="117.00" y="459.00" width="3.00" height="5.00" fill="#fff"/>
<rect x="44.00" y="451.00" width="32.00" height="5.00" fill="#fff"/>
<rect x="81.00" y="451.00" width="34.00" height="5.00" fill="#fff"/>
<path d="M123,450.6 L120,453.1 L123,455.6 Z" fill="#fff" stroke="none" stroke-width="1"/>
<rect x="38.00" y="467.00" width="85.00" height="25.00" fill="#000"/>
<rect x="41.00" y="469.00" width="3.00" height="6.00" fill="#fff"/>
<rect x="41.00" y="485.00" width="3.00" height="5.00" fill="#fff"/>
<rect x="47.00" y="469.00" width="3.00" height="6.00" fill="#fff"/>
<rect x="47.00" y="485.00" width="3.00" height="5.00" fill="#fff"/>
<rect x="53.00" y="469.00" width="3.00" height="6.00" fill="#fff"/>
<rect x="53.00" y="485.00" width="3.00" height="5.00" fill="#fff"/>
<rect x="58.00" y="469.00" width="4.00" height="6.00" fill="#fff"/>
<rect x="58.00" y="485.00" width="4.00" height="5.00" fill="#fff"/>
<rect x="64.00" y="469.00" width="4.00" height="6.00" fill="#fff"/>
<rect x="64.00" y="485.00" width="4.00" height="5.00" fill="#fff"/>
<rect x="70.00" y="469.00" width="4.00" height="6.00" fill="#fff"/>
<rect x="70.00" y="485.00" width="4.00" height="5.00" fill="#fff"/>
<rect x="76.00" y="469.00" width="3.00" height="6.00" fill="#fff"/>
<rect x="76.00" y="485.00" width="3.00" height="5.00" fill="#fff"/>
<rect x="82.00" y="469.00" width="3.00" height="6.00" fill="#fff"/>
<rect x="82.00" y="485.00" width="3.00" height="5.00" fill="#fff"/>
<rect x="88.00" y="469.00" width="3.00" height="6.00" fill="#fff"/>
<rect x="88.00" y="485.00" width="3.00" height="5.00" fill="#fff"/>
<rect x="94.00" y="469.00" width="3.00" height="6.00" fill="#fff"/>
<rect x="94.00" y="485.00" width="3.00" height="5.00" fill="#fff"/>
<rect x="99.00" y="469.00" width="4.00" height="6.00" fill="#fff"/>
<rect x="99.00" y="485.00" width="4.00" height="5.00" fill="#fff"/>
<rect x="105.00" y="469.00" width="4.00" height="6.00" fill="#fff"/>
<rect x="105.00" y="485.00" width="4.00" height="5.00" fill="#fff"/>
<rect x="111.00" y="469.00" width="3.00" height="6.00" fill="#fff"/>
<rect x="111.00" y="485.00" width="3.00" height="5.00" fill="#fff"/>
<rect x="117.00" y="469.00" width="3.00" height="6.00" fill="#fff"/>
<rect x="117.00" y="485.00" width="3.00" height="5.00" fill="#fff"/>
<rect x="44.00" y="477.00" width="32.00" height="5.00" fill="#fff"/>
<rect x="81.00" y="477.00" width="34.00" height="5.00" fill="#fff"/>
<path d="M123,476.70000000000005 L120,479.20000000000005 L123,481.70000000000005 Z" fill="#fff" stroke="none" stroke-width="1"/>
<path d="M127,278 L144.5,290 L144.5,334 M145.5,333 L145.5,377.5 L158,386.5 L146.5,394.5 L146.5,440.5 M145.5,439.5 L145.5,484.5 L128,495.5" fill="none" stroke="#000" stroke-width="1.1"/>
<path d="M166.50,378.00 L212.50,378.00 L215.00,380.50 L215.00,394.50 L212.50,397.00 L166.50,397.00 L164.00,394.50 L164.00,380.50 Z" fill="#000" stroke="none" stroke-width="1"/>
<path d="M167.00,380.00 L212.60,380.00 L212.60,393.70 L167.00,393.70 Z" fill="#fff" stroke="none" stroke-width="1"/>
<path d="M173.50,383.50 Q173.50,381.50 172.50,381.50 L170.50,381.50 Q168.50,381.50 168.50,384.50 L168.50,387.50 Q168.50,390.50 170.50,390.50 L172.50,390.50 Q173.50,390.50 173.50,388.50" fill="none" stroke="#000" stroke-width="1.0" stroke-linejoin="miter" stroke-linecap="square"/>
<path d="M177.50,390.50 L180.50,381.50 L183.50,390.50 M178.50,387.50 L182.50,387.50" fill="none" stroke="#000" stroke-width="1.0" stroke-linejoin="miter" stroke-linecap="square"/>
<path d="M191.50,383.50 Q191.50,381.50 190.50,381.50 L188.50,381.50 Q186.50,381.50 186.50,384.50 L186.50,387.50 Q186.50,390.50 188.50,390.50 L190.50,390.50 Q191.50,390.50 191.50,388.50" fill="none" stroke="#000" stroke-width="1.0" stroke-linejoin="miter" stroke-linecap="square"/>
<path d="M196.50,381.50 L196.50,390.50 M201.50,381.50 L201.50,390.50 M196.50,386.50 L201.50,386.50" fill="none" stroke="#000" stroke-width="1.0" stroke-linejoin="miter" stroke-linecap="square"/>
<path d="M210.50,381.50 L206.50,381.50 L206.50,390.50 L210.50,390.50 M206.50,386.50 L209.50,386.50" fill="none" stroke="#000" stroke-width="1.0" stroke-linejoin="miter" stroke-linecap="square"/>
<rect x="16.00" y="217.00" width="31.00" height="7.00" fill="#000"/>
<rect x="17.00" y="218.00" width="29.00" height="5.00" fill="#fff"/>
<rect x="18.00" y="219.00" width="4.00" height="4.00" fill="#000"/>
<rect x="24.00" y="219.00" width="4.00" height="4.00" fill="#000"/>
<rect x="29.00" y="219.00" width="5.00" height="4.00" fill="#000"/>
<rect x="35.00" y="219.00" width="4.00" height="4.00" fill="#000"/>
<rect x="41.00" y="219.00" width="4.00" height="4.00" fill="#000"/>
<rect x="19.00" y="220.00" width="2.00" height="2.00" fill="#fff"/>
<rect x="16.00" y="232.00" width="26.00" height="7.00" fill="#000"/>
<rect x="17.00" y="233.00" width="24.00" height="5.00" fill="#fff"/>
<rect x="18.00" y="234.00" width="4.00" height="4.00" fill="#000"/>
<rect x="24.00" y="234.00" width="4.00" height="4.00" fill="#000"/>
<rect x="30.00" y="234.00" width="4.00" height="4.00" fill="#000"/>
<rect x="36.00" y="234.00" width="4.00" height="4.00" fill="#000"/>
<rect x="19.00" y="235.00" width="2.00" height="2.00" fill="#fff"/>
<rect x="16.00" y="245.00" width="14.00" height="7.00" fill="#000"/>
<rect x="17.00" y="246.00" width="1.00" height="5.00" fill="#fff"/>
<rect x="22.00" y="246.00" width="1.00" height="5.00" fill="#fff"/>
<rect x="28.00" y="246.00" width="1.00" height="5.00" fill="#fff"/>
<rect x="16.00" y="256.00" width="19.00" height="7.00" fill="#000"/>
<rect x="17.00" y="257.00" width="1.00" height="5.00" fill="#fff"/>
<rect x="19.00" y="258.00" width="2.00" height="3.00" fill="#fff"/>
<rect x="22.00" y="257.00" width="2.00" height="5.00" fill="#fff"/>
<rect x="28.00" y="257.00" width="1.00" height="5.00" fill="#fff"/>
<rect x="16.00" y="268.00" width="14.00" height="7.00" fill="#000"/>
<rect x="17.00" y="269.00" width="12.00" height="5.00" fill="#fff"/>
<rect x="18.00" y="270.00" width="5.00" height="4.00" fill="#000"/>
<rect x="24.00" y="270.00" width="4.00" height="4.00" fill="#000"/>
<rect x="764.00" y="348.00" width="7.00" height="25.00" fill="#000"/>
<rect x="766.00" y="350.00" width="3.00" height="3.00" fill="#fff"/>
<rect x="765.00" y="354.00" width="5.00" height="1.00" fill="#fff"/>
<rect x="765.00" y="360.00" width="5.00" height="1.00" fill="#fff"/>
<rect x="765.00" y="365.00" width="5.00" height="2.00" fill="#fff"/>
<rect x="765.00" y="371.00" width="5.00" height="1.00" fill="#fff"/>
<rect x="641.00" y="356.00" width="14.00" height="7.00" fill="#000"/>
<rect x="642.00" y="358.00" width="2.00" height="4.00" fill="#fff"/>
<rect x="648.00" y="358.00" width="1.00" height="4.00" fill="#fff"/>
<rect x="653.00" y="358.00" width="1.00" height="4.00" fill="#fff"/>
<rect x="763.00" y="396.00" width="7.00" height="19.00" fill="#000"/>
<rect x="764.00" y="397.00" width="1.00" height="17.00" fill="#fff"/>
<rect x="766.00" y="397.00" width="3.00" height="4.00" fill="#fff"/>
<rect x="764.00" y="402.00" width="5.00" height="1.00" fill="#fff"/>
<rect x="764.00" y="408.00" width="5.00" height="1.00" fill="#fff"/>
<rect x="641.00" y="377.00" width="113.00" height="25.00" fill="#000"/>
<rect x="642.00" y="378.00" width="111.00" height="23.00" fill="#fff"/>
<rect x="641.00" y="385.00" width="113.00" height="1.00" fill="#000"/>
<rect x="645.00" y="380.00" width="4.00" height="1.00" fill="#000"/>
<rect x="643.00" y="381.00" width="8.00" height="3.00" fill="#000"/>
<rect x="645.00" y="384.00" width="4.00" height="1.00" fill="#000"/>
<rect x="643.00" y="387.00" width="8.00" height="3.00" fill="#000"/>
<rect x="645.00" y="388.00" width="1.00" height="1.00" fill="#fff"/>
<rect x="647.00" y="388.00" width="1.00" height="1.00" fill="#fff"/>
<rect x="649.00" y="388.00" width="1.00" height="1.00" fill="#fff"/>
<rect x="647.00" y="391.00" width="8.00" height="7.00" fill="#000"/>
<rect x="648.00" y="392.00" width="6.00" height="5.00" fill="#fff"/>
<rect x="654.00" y="380.00" width="4.00" height="1.00" fill="#000"/>
<rect x="652.00" y="381.00" width="8.00" height="3.00" fill="#000"/>
<rect x="654.00" y="384.00" width="4.00" height="1.00" fill="#000"/>
<rect x="652.00" y="387.00" width="8.00" height="3.00" fill="#000"/>
<rect x="654.00" y="388.00" width="1.00" height="1.00" fill="#fff"/>
<rect x="656.00" y="388.00" width="1.00" height="1.00" fill="#fff"/>
<rect x="658.00" y="388.00" width="1.00" height="1.00" fill="#fff"/>
<rect x="656.00" y="391.00" width="8.00" height="7.00" fill="#000"/>
<rect x="657.00" y="392.00" width="6.00" height="5.00" fill="#fff"/>
<rect x="663.00" y="380.00" width="4.00" height="1.00" fill="#000"/>
<rect x="661.00" y="381.00" width="8.00" height="3.00" fill="#000"/>
<rect x="663.00" y="384.00" width="4.00" height="1.00" fill="#000"/>
<rect x="661.00" y="387.00" width="8.00" height="3.00" fill="#000"/>
<rect x="663.00" y="388.00" width="1.00" height="1.00" fill="#fff"/>
<rect x="665.00" y="388.00" width="1.00" height="1.00" fill="#fff"/>
<rect x="667.00" y="388.00" width="1.00" height="1.00" fill="#fff"/>
<rect x="665.00" y="391.00" width="8.00" height="7.00" fill="#000"/>
<rect x="666.00" y="392.00" width="6.00" height="5.00" fill="#fff"/>
<rect x="672.00" y="380.00" width="4.00" height="1.00" fill="#000"/>
<rect x="670.00" y="381.00" width="8.00" height="3.00" fill="#000"/>
<rect x="672.00" y="384.00" width="4.00" height="1.00" fill="#000"/>
<rect x="670.00" y="387.00" width="8.00" height="3.00" fill="#000"/>
<rect x="672.00" y="388.00" width="1.00" height="1.00" fill="#fff"/>
<rect x="674.00" y="388.00" width="1.00" height="1.00" fill="#fff"/>
<rect x="676.00" y="388.00" width="1.00" height="1.00" fill="#fff"/>
<rect x="674.00" y="391.00" width="8.00" height="7.00" fill="#000"/>
<rect x="675.00" y="392.00" width="6.00" height="5.00" fill="#fff"/>
<rect x="681.00" y="380.00" width="4.00" height="1.00" fill="#000"/>
<rect x="679.00" y="381.00" width="8.00" height="3.00" fill="#000"/>
<rect x="681.00" y="384.00" width="4.00" height="1.00" fill="#000"/>
<rect x="679.00" y="387.00" width="8.00" height="3.00" fill="#000"/>
<rect x="681.00" y="388.00" width="1.00" height="1.00" fill="#fff"/>
<rect x="683.00" y="388.00" width="1.00" height="1.00" fill="#fff"/>
<rect x="685.00" y="388.00" width="1.00" height="1.00" fill="#fff"/>
<rect x="683.00" y="391.00" width="8.00" height="7.00" fill="#000"/>
<rect x="684.00" y="392.00" width="6.00" height="5.00" fill="#fff"/>
<rect x="691.00" y="380.00" width="4.00" height="1.00" fill="#000"/>
<rect x="689.00" y="381.00" width="8.00" height="3.00" fill="#000"/>
<rect x="691.00" y="384.00" width="4.00" height="1.00" fill="#000"/>
<rect x="689.00" y="387.00" width="8.00" height="3.00" fill="#000"/>
<rect x="690.00" y="388.00" width="1.00" height="1.00" fill="#fff"/>
<rect x="692.00" y="388.00" width="1.00" height="1.00" fill="#fff"/>
<rect x="694.00" y="388.00" width="1.00" height="1.00" fill="#fff"/>
<rect x="693.00" y="391.00" width="8.00" height="7.00" fill="#000"/>
<rect x="694.00" y="392.00" width="6.00" height="5.00" fill="#fff"/>
<rect x="700.00" y="380.00" width="4.00" height="1.00" fill="#000"/>
<rect x="698.00" y="381.00" width="8.00" height="3.00" fill="#000"/>
<rect x="700.00" y="384.00" width="4.00" height="1.00" fill="#000"/>
<rect x="698.00" y="387.00" width="8.00" height="3.00" fill="#000"/>
<rect x="699.00" y="388.00" width="1.00" height="1.00" fill="#fff"/>
<rect x="701.00" y="388.00" width="1.00" height="1.00" fill="#fff"/>
<rect x="703.00" y="388.00" width="1.00" height="1.00" fill="#fff"/>
<rect x="702.00" y="391.00" width="8.00" height="7.00" fill="#000"/>
<rect x="703.00" y="392.00" width="6.00" height="5.00" fill="#fff"/>
<rect x="709.00" y="380.00" width="4.00" height="1.00" fill="#000"/>
<rect x="707.00" y="381.00" width="8.00" height="3.00" fill="#000"/>
<rect x="709.00" y="384.00" width="4.00" height="1.00" fill="#000"/>
<rect x="707.00" y="387.00" width="8.00" height="3.00" fill="#000"/>
<rect x="708.00" y="388.00" width="1.00" height="1.00" fill="#fff"/>
<rect x="710.00" y="388.00" width="1.00" height="1.00" fill="#fff"/>
<rect x="712.00" y="388.00" width="1.00" height="1.00" fill="#fff"/>
<rect x="711.00" y="391.00" width="8.00" height="7.00" fill="#000"/>
<rect x="712.00" y="392.00" width="6.00" height="5.00" fill="#fff"/>
<rect x="718.00" y="380.00" width="4.00" height="1.00" fill="#000"/>
<rect x="716.00" y="381.00" width="8.00" height="3.00" fill="#000"/>
<rect x="718.00" y="384.00" width="4.00" height="1.00" fill="#000"/>
<rect x="716.00" y="387.00" width="8.00" height="3.00" fill="#000"/>
<rect x="717.00" y="388.00" width="1.00" height="1.00" fill="#fff"/>
<rect x="719.00" y="388.00" width="1.00" height="1.00" fill="#fff"/>
<rect x="721.00" y="388.00" width="1.00" height="1.00" fill="#fff"/>
<rect x="720.00" y="391.00" width="8.00" height="7.00" fill="#000"/>
<rect x="721.00" y="392.00" width="6.00" height="5.00" fill="#fff"/>
<rect x="727.00" y="380.00" width="4.00" height="1.00" fill="#000"/>
<rect x="725.00" y="381.00" width="8.00" height="3.00" fill="#000"/>
<rect x="727.00" y="384.00" width="4.00" height="1.00" fill="#000"/>
<rect x="725.00" y="387.00" width="8.00" height="3.00" fill="#000"/>
<rect x="727.00" y="388.00" width="1.00" height="1.00" fill="#fff"/>
<rect x="729.00" y="388.00" width="1.00" height="1.00" fill="#fff"/>
<rect x="731.00" y="388.00" width="1.00" height="1.00" fill="#fff"/>
<rect x="729.00" y="391.00" width="8.00" height="7.00" fill="#000"/>
<rect x="730.00" y="392.00" width="6.00" height="5.00" fill="#fff"/>
<rect x="736.00" y="380.00" width="4.00" height="1.00" fill="#000"/>
<rect x="734.00" y="381.00" width="8.00" height="3.00" fill="#000"/>
<rect x="736.00" y="384.00" width="4.00" height="1.00" fill="#000"/>
<rect x="734.00" y="387.00" width="8.00" height="3.00" fill="#000"/>
<rect x="736.00" y="388.00" width="1.00" height="1.00" fill="#fff"/>
<rect x="738.00" y="388.00" width="1.00" height="1.00" fill="#fff"/>
<rect x="740.00" y="388.00" width="1.00" height="1.00" fill="#fff"/>
<rect x="738.00" y="391.00" width="8.00" height="7.00" fill="#000"/>
<rect x="739.00" y="392.00" width="6.00" height="5.00" fill="#fff"/>
<rect x="745.00" y="380.00" width="4.00" height="1.00" fill="#000"/>
<rect x="743.00" y="381.00" width="8.00" height="3.00" fill="#000"/>
<rect x="745.00" y="384.00" width="4.00" height="1.00" fill="#000"/>
<rect x="743.00" y="387.00" width="8.00" height="3.00" fill="#000"/>
<rect x="745.00" y="388.00" width="1.00" height="1.00" fill="#fff"/>
<rect x="747.00" y="388.00" width="1.00" height="1.00" fill="#fff"/>
<rect x="749.00" y="388.00" width="1.00" height="1.00" fill="#fff"/>
<rect x="641.00" y="391.00" width="3.00" height="7.00" fill="#fff"/>
<rect x="641.00" y="390.00" width="1.00" height="9.00" fill="#000"/>
<rect x="642.00" y="392.00" width="1.00" height="5.00" fill="#000"/>
<rect x="751.00" y="391.00" width="3.00" height="7.00" fill="#000"/>
<rect x="753.00" y="392.00" width="1.00" height="5.00" fill="#fff"/>
<path d="M756,424 L780,424 L780,420 L783,420 L783,417 L787,417 L787,468 L783,468 L783,465 L780,465 L780,461 L756,461 Z" fill="#000" stroke="none" stroke-width="1"/>
<rect x="753.00" y="439.00" width="4.00" height="7.00" fill="#000"/>
<rect x="754.00" y="440.00" width="2.00" height="5.00" fill="#fff"/>
<rect x="749.00" y="433.00" width="5.00" height="8.00" fill="#000"/>
<rect x="750.00" y="434.00" width="3.00" height="6.00" fill="#fff"/>
<rect x="753.00" y="431.00" width="4.00" height="8.00" fill="#000"/>
<rect x="754.00" y="433.00" width="1.00" height="1.00" fill="#fff"/>
<rect x="754.00" y="435.00" width="1.00" height="1.00" fill="#fff"/>
<rect x="754.00" y="437.00" width="1.00" height="1.00" fill="#fff"/>
<rect x="749.00" y="445.00" width="5.00" height="8.00" fill="#000"/>
<rect x="750.00" y="446.00" width="3.00" height="6.00" fill="#fff"/>
<rect x="753.00" y="446.00" width="4.00" height="9.00" fill="#000"/>
<rect x="754.00" y="448.00" width="1.00" height="1.00" fill="#fff"/>
<rect x="754.00" y="450.00" width="1.00" height="1.00" fill="#fff"/>
<rect x="754.00" y="452.00" width="1.00" height="1.00" fill="#fff"/>
</svg></body></html>
